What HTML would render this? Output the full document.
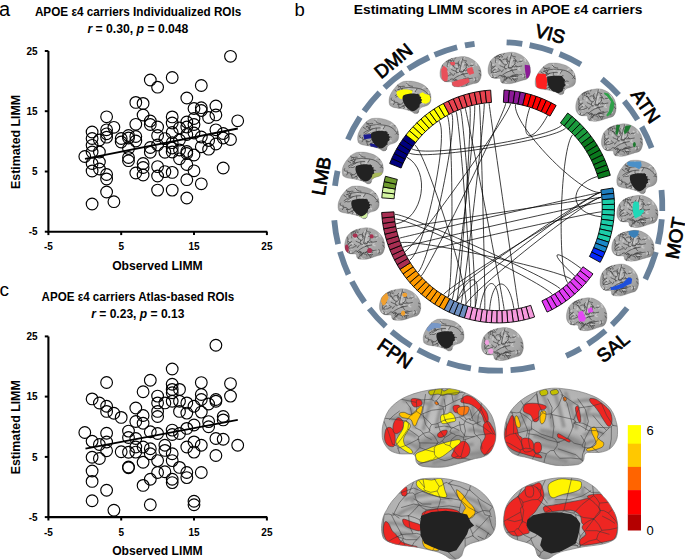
<!DOCTYPE html>
<html><head><meta charset="utf-8"><style>
html,body{margin:0;padding:0;background:#fff;width:685px;height:560px;overflow:hidden}
svg{display:block}
</style></head><body>
<svg width="685" height="560" viewBox="0 0 685 560">
<rect width="685" height="560" fill="#fff"/>
<g stroke="#000" fill="none" stroke-width="1.15">
<circle cx="84.8" cy="156.5" r="5.85"/>
<circle cx="92.1" cy="132.0" r="5.85"/>
<circle cx="92.1" cy="138.5" r="5.85"/>
<circle cx="92.1" cy="145.3" r="5.85"/>
<circle cx="92.1" cy="152.0" r="5.85"/>
<circle cx="92.1" cy="163.5" r="5.85"/>
<circle cx="92.1" cy="171.0" r="5.85"/>
<circle cx="92.1" cy="204.0" r="5.85"/>
<circle cx="99.4" cy="140.0" r="5.85"/>
<circle cx="99.4" cy="152.0" r="5.85"/>
<circle cx="99.4" cy="162.0" r="5.85"/>
<circle cx="99.4" cy="169.0" r="5.85"/>
<circle cx="106.6" cy="116.8" r="5.85"/>
<circle cx="106.6" cy="129.8" r="5.85"/>
<circle cx="106.6" cy="133.8" r="5.85"/>
<circle cx="106.6" cy="137.2" r="5.85"/>
<circle cx="106.6" cy="174.5" r="5.85"/>
<circle cx="106.6" cy="179.0" r="5.85"/>
<circle cx="106.6" cy="192.0" r="5.85"/>
<circle cx="113.9" cy="127.3" r="5.85"/>
<circle cx="113.9" cy="201.7" r="5.85"/>
<circle cx="121.2" cy="138.5" r="5.85"/>
<circle cx="121.2" cy="142.0" r="5.85"/>
<circle cx="128.5" cy="135.5" r="5.85"/>
<circle cx="128.5" cy="138.0" r="5.85"/>
<circle cx="128.5" cy="148.5" r="5.85"/>
<circle cx="128.5" cy="157.5" r="5.85"/>
<circle cx="128.5" cy="160.7" r="5.85"/>
<circle cx="135.8" cy="102.4" r="5.85"/>
<circle cx="135.8" cy="124.3" r="5.85"/>
<circle cx="135.8" cy="136.5" r="5.85"/>
<circle cx="135.8" cy="141.0" r="5.85"/>
<circle cx="135.8" cy="173.0" r="5.85"/>
<circle cx="143.1" cy="103.4" r="5.85"/>
<circle cx="143.1" cy="115.0" r="5.85"/>
<circle cx="143.1" cy="163.5" r="5.85"/>
<circle cx="143.1" cy="167.5" r="5.85"/>
<circle cx="143.1" cy="175.0" r="5.85"/>
<circle cx="150.3" cy="80.0" r="5.85"/>
<circle cx="150.3" cy="121.0" r="5.85"/>
<circle cx="150.3" cy="124.5" r="5.85"/>
<circle cx="150.3" cy="147.5" r="5.85"/>
<circle cx="150.3" cy="152.3" r="5.85"/>
<circle cx="157.6" cy="87.2" r="5.85"/>
<circle cx="157.6" cy="127.0" r="5.85"/>
<circle cx="157.6" cy="135.5" r="5.85"/>
<circle cx="157.6" cy="145.0" r="5.85"/>
<circle cx="157.6" cy="166.6" r="5.85"/>
<circle cx="157.6" cy="176.0" r="5.85"/>
<circle cx="157.6" cy="190.1" r="5.85"/>
<circle cx="164.9" cy="138.6" r="5.85"/>
<circle cx="164.9" cy="152.3" r="5.85"/>
<circle cx="164.9" cy="171.6" r="5.85"/>
<circle cx="172.2" cy="77.5" r="5.85"/>
<circle cx="172.2" cy="116.9" r="5.85"/>
<circle cx="172.2" cy="123.0" r="5.85"/>
<circle cx="172.2" cy="132.5" r="5.85"/>
<circle cx="172.2" cy="142.7" r="5.85"/>
<circle cx="172.2" cy="148.0" r="5.85"/>
<circle cx="172.2" cy="152.0" r="5.85"/>
<circle cx="172.2" cy="172.4" r="5.85"/>
<circle cx="172.2" cy="190.1" r="5.85"/>
<circle cx="179.5" cy="128.0" r="5.85"/>
<circle cx="179.5" cy="140.0" r="5.85"/>
<circle cx="179.5" cy="150.0" r="5.85"/>
<circle cx="179.5" cy="158.8" r="5.85"/>
<circle cx="186.8" cy="98.0" r="5.85"/>
<circle cx="186.8" cy="122.0" r="5.85"/>
<circle cx="186.8" cy="127.0" r="5.85"/>
<circle cx="186.8" cy="134.5" r="5.85"/>
<circle cx="186.8" cy="151.5" r="5.85"/>
<circle cx="186.8" cy="153.5" r="5.85"/>
<circle cx="186.8" cy="164.5" r="5.85"/>
<circle cx="186.8" cy="179.7" r="5.85"/>
<circle cx="186.8" cy="198.0" r="5.85"/>
<circle cx="194.0" cy="108.5" r="5.85"/>
<circle cx="194.0" cy="118.5" r="5.85"/>
<circle cx="194.0" cy="124.5" r="5.85"/>
<circle cx="194.0" cy="133.0" r="5.85"/>
<circle cx="194.0" cy="155.0" r="5.85"/>
<circle cx="194.0" cy="170.8" r="5.85"/>
<circle cx="201.3" cy="85.5" r="5.85"/>
<circle cx="201.3" cy="107.7" r="5.85"/>
<circle cx="201.3" cy="110.5" r="5.85"/>
<circle cx="201.3" cy="137.0" r="5.85"/>
<circle cx="201.3" cy="146.8" r="5.85"/>
<circle cx="201.3" cy="183.8" r="5.85"/>
<circle cx="208.6" cy="117.5" r="5.85"/>
<circle cx="208.6" cy="140.5" r="5.85"/>
<circle cx="208.6" cy="149.2" r="5.85"/>
<circle cx="215.9" cy="106.0" r="5.85"/>
<circle cx="215.9" cy="114.9" r="5.85"/>
<circle cx="215.9" cy="129.8" r="5.85"/>
<circle cx="215.9" cy="144.0" r="5.85"/>
<circle cx="223.2" cy="133.5" r="5.85"/>
<circle cx="223.2" cy="138.0" r="5.85"/>
<circle cx="223.2" cy="168.0" r="5.85"/>
<circle cx="230.5" cy="56.3" r="5.85"/>
<circle cx="230.5" cy="139.5" r="5.85"/>
<circle cx="237.7" cy="120.8" r="5.85"/>
</g>
<line x1="85" y1="158.8" x2="237.8" y2="128.5" stroke="#000" stroke-width="1.8"/>
<path d="M48.4 51.0 V231.7 H267.3" fill="none" stroke="#000" stroke-width="2.1"/>
<line x1="44.8" y1="51.0" x2="48.4" y2="51.0" stroke="#000" stroke-width="2"/>
<line x1="44.8" y1="111.2" x2="48.4" y2="111.2" stroke="#000" stroke-width="2"/>
<line x1="44.8" y1="171.5" x2="48.4" y2="171.5" stroke="#000" stroke-width="2"/>
<line x1="44.8" y1="231.7" x2="48.4" y2="231.7" stroke="#000" stroke-width="2"/>
<line x1="48.4" y1="231.7" x2="48.4" y2="235.1" stroke="#000" stroke-width="2"/>
<line x1="121.2" y1="231.7" x2="121.2" y2="235.1" stroke="#000" stroke-width="2"/>
<line x1="194.0" y1="231.7" x2="194.0" y2="235.1" stroke="#000" stroke-width="2"/>
<line x1="266.9" y1="231.7" x2="266.9" y2="235.1" stroke="#000" stroke-width="2"/>
<g font-family='"Liberation Sans", sans-serif' font-weight="bold" font-size="10" fill="#000">
<text x="37.6" y="54.6" text-anchor="end">25</text>
<text x="37.6" y="114.8" text-anchor="end">15</text>
<text x="37.6" y="175.1" text-anchor="end">5</text>
<text x="37.6" y="235.3" text-anchor="end">-5</text>
<text x="48.4" y="250.3" text-anchor="middle">-5</text>
<text x="121.2" y="250.3" text-anchor="middle">5</text>
<text x="194.0" y="250.3" text-anchor="middle">15</text>
<text x="266.9" y="250.3" text-anchor="middle">25</text>
</g>
<text x="157.4" y="269.9" text-anchor="middle" font-family='"Liberation Sans", sans-serif' font-weight="bold" font-size="12.4" textLength="90.5" lengthAdjust="spacingAndGlyphs">Observed LIMM</text>
<text transform="translate(19.7 141.9) rotate(-90)" x="0" y="0" text-anchor="middle" font-family='"Liberation Sans", sans-serif' font-weight="bold" font-size="12.5" textLength="94" lengthAdjust="spacingAndGlyphs">Estimated LIMM</text>
<text x="34.9" y="15.6" font-family='"Liberation Sans", sans-serif' font-weight="bold" font-size="12.2" textLength="206.4" lengthAdjust="spacingAndGlyphs">APOE ε4 carriers Individualized ROIs</text>
<text x="87.4" y="32.8" font-family='"Liberation Sans", sans-serif' font-weight="bold" font-size="12.2" textLength="101" lengthAdjust="spacingAndGlyphs"><tspan font-style="italic">r</tspan> = 0.30, <tspan font-style="italic">p</tspan> = 0.048</text>
<g stroke="#000" fill="none" stroke-width="1.15">
<circle cx="84.8" cy="432.5" r="5.85"/>
<circle cx="92.1" cy="398.9" r="5.85"/>
<circle cx="92.1" cy="441.3" r="5.85"/>
<circle cx="92.1" cy="457.3" r="5.85"/>
<circle cx="92.1" cy="471.0" r="5.85"/>
<circle cx="92.1" cy="481.4" r="5.85"/>
<circle cx="92.1" cy="500.7" r="5.85"/>
<circle cx="99.4" cy="403.0" r="5.85"/>
<circle cx="99.4" cy="444.5" r="5.85"/>
<circle cx="99.4" cy="458.5" r="5.85"/>
<circle cx="106.6" cy="382.5" r="5.85"/>
<circle cx="106.6" cy="406.2" r="5.85"/>
<circle cx="106.6" cy="411.4" r="5.85"/>
<circle cx="106.6" cy="433.3" r="5.85"/>
<circle cx="106.6" cy="442.0" r="5.85"/>
<circle cx="106.6" cy="450.7" r="5.85"/>
<circle cx="106.6" cy="490.2" r="5.85"/>
<circle cx="113.9" cy="413.3" r="5.85"/>
<circle cx="113.9" cy="510.2" r="5.85"/>
<circle cx="121.2" cy="417.4" r="5.85"/>
<circle cx="121.2" cy="451.8" r="5.85"/>
<circle cx="128.5" cy="431.1" r="5.85"/>
<circle cx="128.5" cy="437.5" r="5.85"/>
<circle cx="128.5" cy="452.3" r="5.85"/>
<circle cx="128.5" cy="467.0" r="5.85"/>
<circle cx="128.5" cy="467.8" r="5.85"/>
<circle cx="135.8" cy="408.0" r="5.85"/>
<circle cx="135.8" cy="421.5" r="5.85"/>
<circle cx="135.8" cy="438.5" r="5.85"/>
<circle cx="135.8" cy="447.0" r="5.85"/>
<circle cx="135.8" cy="452.1" r="5.85"/>
<circle cx="143.1" cy="391.7" r="5.85"/>
<circle cx="143.1" cy="415.5" r="5.85"/>
<circle cx="143.1" cy="423.3" r="5.85"/>
<circle cx="143.1" cy="447.0" r="5.85"/>
<circle cx="143.1" cy="462.3" r="5.85"/>
<circle cx="143.1" cy="485.4" r="5.85"/>
<circle cx="150.3" cy="380.2" r="5.85"/>
<circle cx="150.3" cy="431.8" r="5.85"/>
<circle cx="150.3" cy="448.7" r="5.85"/>
<circle cx="150.3" cy="453.8" r="5.85"/>
<circle cx="150.3" cy="479.3" r="5.85"/>
<circle cx="150.3" cy="504.7" r="5.85"/>
<circle cx="157.6" cy="396.1" r="5.85"/>
<circle cx="157.6" cy="402.9" r="5.85"/>
<circle cx="157.6" cy="411.4" r="5.85"/>
<circle cx="157.6" cy="416.5" r="5.85"/>
<circle cx="157.6" cy="433.5" r="5.85"/>
<circle cx="157.6" cy="460.6" r="5.85"/>
<circle cx="157.6" cy="472.5" r="5.85"/>
<circle cx="164.9" cy="402.9" r="5.85"/>
<circle cx="164.9" cy="445.3" r="5.85"/>
<circle cx="164.9" cy="450.4" r="5.85"/>
<circle cx="164.9" cy="471.8" r="5.85"/>
<circle cx="172.2" cy="369.0" r="5.85"/>
<circle cx="172.2" cy="384.3" r="5.85"/>
<circle cx="172.2" cy="389.4" r="5.85"/>
<circle cx="172.2" cy="392.8" r="5.85"/>
<circle cx="172.2" cy="401.2" r="5.85"/>
<circle cx="172.2" cy="430.1" r="5.85"/>
<circle cx="172.2" cy="434.5" r="5.85"/>
<circle cx="172.2" cy="453.8" r="5.85"/>
<circle cx="172.2" cy="460.6" r="5.85"/>
<circle cx="172.2" cy="479.3" r="5.85"/>
<circle cx="172.2" cy="482.6" r="5.85"/>
<circle cx="179.5" cy="389.4" r="5.85"/>
<circle cx="179.5" cy="401.2" r="5.85"/>
<circle cx="179.5" cy="411.4" r="5.85"/>
<circle cx="179.5" cy="433.5" r="5.85"/>
<circle cx="179.5" cy="467.4" r="5.85"/>
<circle cx="186.8" cy="402.9" r="5.85"/>
<circle cx="186.8" cy="413.1" r="5.85"/>
<circle cx="186.8" cy="428.4" r="5.85"/>
<circle cx="186.8" cy="447.0" r="5.85"/>
<circle cx="186.8" cy="472.5" r="5.85"/>
<circle cx="186.8" cy="477.6" r="5.85"/>
<circle cx="194.0" cy="406.3" r="5.85"/>
<circle cx="194.0" cy="425.0" r="5.85"/>
<circle cx="194.0" cy="441.9" r="5.85"/>
<circle cx="194.0" cy="452.1" r="5.85"/>
<circle cx="194.0" cy="501.3" r="5.85"/>
<circle cx="194.0" cy="504.7" r="5.85"/>
<circle cx="201.3" cy="382.6" r="5.85"/>
<circle cx="201.3" cy="394.5" r="5.85"/>
<circle cx="201.3" cy="399.5" r="5.85"/>
<circle cx="201.3" cy="412.1" r="5.85"/>
<circle cx="201.3" cy="445.3" r="5.85"/>
<circle cx="201.3" cy="472.5" r="5.85"/>
<circle cx="208.6" cy="404.0" r="5.85"/>
<circle cx="208.6" cy="421.6" r="5.85"/>
<circle cx="208.6" cy="426.7" r="5.85"/>
<circle cx="215.9" cy="345.3" r="5.85"/>
<circle cx="215.9" cy="399.5" r="5.85"/>
<circle cx="215.9" cy="401.2" r="5.85"/>
<circle cx="215.9" cy="438.5" r="5.85"/>
<circle cx="215.9" cy="455.5" r="5.85"/>
<circle cx="223.2" cy="416.5" r="5.85"/>
<circle cx="223.2" cy="419.9" r="5.85"/>
<circle cx="223.2" cy="439.2" r="5.85"/>
<circle cx="230.5" cy="383.6" r="5.85"/>
<circle cx="230.5" cy="396.1" r="5.85"/>
<circle cx="237.7" cy="445.3" r="5.85"/>
</g>
<line x1="85.5" y1="448.7" x2="237.8" y2="419.9" stroke="#000" stroke-width="1.8"/>
<path d="M48.4 336.4 V517.0999999999999 H267.3" fill="none" stroke="#000" stroke-width="2.1"/>
<line x1="44.8" y1="336.4" x2="48.4" y2="336.4" stroke="#000" stroke-width="2"/>
<line x1="44.8" y1="396.6" x2="48.4" y2="396.6" stroke="#000" stroke-width="2"/>
<line x1="44.8" y1="456.9" x2="48.4" y2="456.9" stroke="#000" stroke-width="2"/>
<line x1="44.8" y1="517.1" x2="48.4" y2="517.1" stroke="#000" stroke-width="2"/>
<line x1="48.4" y1="517.0999999999999" x2="48.4" y2="520.4999999999999" stroke="#000" stroke-width="2"/>
<line x1="121.2" y1="517.0999999999999" x2="121.2" y2="520.4999999999999" stroke="#000" stroke-width="2"/>
<line x1="194.0" y1="517.0999999999999" x2="194.0" y2="520.4999999999999" stroke="#000" stroke-width="2"/>
<line x1="266.9" y1="517.0999999999999" x2="266.9" y2="520.4999999999999" stroke="#000" stroke-width="2"/>
<g font-family='"Liberation Sans", sans-serif' font-weight="bold" font-size="10" fill="#000">
<text x="37.6" y="340.0" text-anchor="end">25</text>
<text x="37.6" y="400.2" text-anchor="end">15</text>
<text x="37.6" y="460.5" text-anchor="end">5</text>
<text x="37.6" y="520.7" text-anchor="end">-5</text>
<text x="48.4" y="535.7" text-anchor="middle">-5</text>
<text x="121.2" y="535.7" text-anchor="middle">5</text>
<text x="194.0" y="535.7" text-anchor="middle">15</text>
<text x="266.9" y="535.7" text-anchor="middle">25</text>
</g>
<text x="157.4" y="555.3" text-anchor="middle" font-family='"Liberation Sans", sans-serif' font-weight="bold" font-size="12.4" textLength="90.5" lengthAdjust="spacingAndGlyphs">Observed LIMM</text>
<text transform="translate(19.7 427.3) rotate(-90)" x="0" y="0" text-anchor="middle" font-family='"Liberation Sans", sans-serif' font-weight="bold" font-size="12.5" textLength="94" lengthAdjust="spacingAndGlyphs">Estimated LIMM</text>
<text x="41.6" y="301.0" font-family='"Liberation Sans", sans-serif' font-weight="bold" font-size="12.2" textLength="192.6" lengthAdjust="spacingAndGlyphs">APOE ε4 carriers Atlas-based ROIs</text>
<text x="91.2" y="318.2" font-family='"Liberation Sans", sans-serif' font-weight="bold" font-size="12.2" textLength="93.2" lengthAdjust="spacingAndGlyphs"><tspan font-style="italic">r</tspan> = 0.23, <tspan font-style="italic">p</tspan> = 0.13</text>
<text x="-1" y="15.6" font-family='"Liberation Sans", sans-serif' font-size="20" fill="#000">a</text>
<text x="294.6" y="16" font-family='"Liberation Sans", sans-serif' font-size="18.5" fill="#000">b</text>
<text x="-0.5" y="295.6" font-family='"Liberation Sans", sans-serif' font-size="19" fill="#000">c</text>
<text x="353.8" y="13.6" font-family='"Liberation Sans", sans-serif' font-weight="bold" font-size="13.4" textLength="288.7" lengthAdjust="spacingAndGlyphs">Estimating LIMM scores in APOE ε4 carriers</text>
<g fill="none" stroke="#69819A" stroke-width="5.8">
<path d="M347.90 139.57 A164.3 164.3 0 0 1 360.05 117.16"/>
<path d="M364.07 111.22 A164.3 164.3 0 0 1 379.61 92.47"/>
<path d="M384.49 87.62 A164.3 164.3 0 0 1 403.29 72.14"/>
<path d="M408.04 68.92 A164.3 164.3 0 0 1 429.08 57.25"/>
<path d="M434.60 54.83 A164.3 164.3 0 0 1 457.14 47.26"/>
<path d="M464.96 45.46 A164.3 164.3 0 0 1 474.57 43.78"/>
<path d="M506.60 42.33 A164.3 164.3 0 0 1 522.29 43.90"/>
<path d="M529.63 45.17 A164.3 164.3 0 0 1 552.84 51.52"/>
<path d="M559.55 54.06 A164.3 164.3 0 0 1 580.89 64.54"/>
<path d="M601.84 79.08 A164.3 164.3 0 0 1 618.75 94.98"/>
<path d="M624.23 101.23 A164.3 164.3 0 0 1 637.64 119.82"/>
<path d="M641.70 126.75 A164.3 164.3 0 0 1 651.59 148.06"/>
<path d="M661.49 190.08 A164.3 164.3 0 0 1 662.24 210.99"/>
<path d="M661.79 219.29 A164.3 164.3 0 0 1 657.89 244.20"/>
<path d="M655.86 251.96 A164.3 164.3 0 0 1 645.29 279.20"/>
<path d="M627.12 308.00 A164.3 164.3 0 0 1 611.93 324.79"/>
<path d="M605.57 330.59 A164.3 164.3 0 0 1 587.72 344.04"/>
<path d="M580.65 348.40 A164.3 164.3 0 0 1 566.13 355.91"/>
<path d="M534.68 366.55 A164.3 164.3 0 0 1 510.60 370.22"/>
<path d="M502.87 370.63 A164.3 164.3 0 0 1 478.55 369.54"/>
<path d="M470.88 368.45 A164.3 164.3 0 0 1 447.23 362.66"/>
<path d="M439.92 360.09 A164.3 164.3 0 0 1 417.84 349.82"/>
<path d="M411.18 345.89 A164.3 164.3 0 0 1 391.51 331.52"/>
<path d="M385.74 326.37 A164.3 164.3 0 0 1 369.24 308.45"/>
<path d="M364.57 302.28 A164.3 164.3 0 0 1 351.87 281.50"/>
<path d="M348.49 274.53 A164.3 164.3 0 0 1 340.06 251.69"/>
<path d="M338.11 244.20 A164.3 164.3 0 0 1 334.28 220.15"/>
<path d="M335.00 185.81 A164.3 164.3 0 0 1 337.59 170.84"/>
</g>
<g font-family='"Liberation Sans", sans-serif' font-size="18.8" fill="#000" stroke="#000" stroke-width="0.75" text-anchor="middle">
<text transform="translate(393.3 61.0) rotate(-39.5)" y="6.5">DMN</text>
<text transform="translate(550.2 33.9) rotate(14.5)" y="6.5">VIS</text>
<text transform="translate(645.7 106.2) rotate(56)" y="6.5">ATN</text>
<text transform="translate(675.4 238.0) rotate(-80)" y="6.5">MOT</text>
<text transform="translate(613.0 347.3) rotate(-39)" y="6.5">SAL</text>
<text transform="translate(395.0 353.5) rotate(35)" y="6.5">FPN</text>
<text transform="translate(321.4 176.0) rotate(-80)" y="6.5">LMB</text>
</g>
<g stroke="#000" stroke-width="0.9" stroke-linejoin="miter">
<path d="M389.68 163.51 A116.5 116.5 0 0 1 391.82 158.46 L403.03 163.52 A104.2 104.2 0 0 0 401.12 168.04 Z" fill="#00007F"/>
<path d="M391.82 158.46 A116.5 116.5 0 0 1 394.20 153.51 L405.16 159.09 A104.2 104.2 0 0 0 403.03 163.52 Z" fill="#00007F"/>
<path d="M394.20 153.51 A116.5 116.5 0 0 1 396.80 148.68 L407.49 154.77 A104.2 104.2 0 0 0 405.16 159.09 Z" fill="#00007F"/>
<path d="M396.80 148.68 A116.5 116.5 0 0 1 399.64 143.98 L410.02 150.57 A104.2 104.2 0 0 0 407.49 154.77 Z" fill="#00007F"/>
<path d="M399.64 143.98 A116.5 116.5 0 0 1 402.69 139.41 L412.75 146.48 A104.2 104.2 0 0 0 410.02 150.57 Z" fill="#00007F"/>
<path d="M402.69 139.41 A116.5 116.5 0 0 1 405.95 135.00 L415.67 142.54 A104.2 104.2 0 0 0 412.75 146.48 Z" fill="#00007F"/>
<path d="M405.95 135.00 A116.5 116.5 0 0 1 409.41 130.74 L418.77 138.73 A104.2 104.2 0 0 0 415.67 142.54 Z" fill="#FFFF00"/>
<path d="M409.41 130.74 A116.5 116.5 0 0 1 413.08 126.65 L422.04 135.07 A104.2 104.2 0 0 0 418.77 138.73 Z" fill="#FFFF00"/>
<path d="M413.08 126.65 A116.5 116.5 0 0 1 416.93 122.74 L425.49 131.57 A104.2 104.2 0 0 0 422.04 135.07 Z" fill="#FFFF00"/>
<path d="M416.93 122.74 A116.5 116.5 0 0 1 420.96 119.01 L429.09 128.24 A104.2 104.2 0 0 0 425.49 131.57 Z" fill="#FFFF00"/>
<path d="M420.96 119.01 A116.5 116.5 0 0 1 425.16 115.48 L432.85 125.08 A104.2 104.2 0 0 0 429.09 128.24 Z" fill="#FFFF00"/>
<path d="M425.16 115.48 A116.5 116.5 0 0 1 429.52 112.15 L436.75 122.10 A104.2 104.2 0 0 0 432.85 125.08 Z" fill="#FFFF00"/>
<path d="M429.52 112.15 A116.5 116.5 0 0 1 434.04 109.03 L440.79 119.31 A104.2 104.2 0 0 0 436.75 122.10 Z" fill="#FFFF00"/>
<path d="M434.04 109.03 A116.5 116.5 0 0 1 438.70 106.12 L444.96 116.71 A104.2 104.2 0 0 0 440.79 119.31 Z" fill="#FFFF00"/>
<path d="M438.70 106.12 A116.5 116.5 0 0 1 443.49 103.44 L449.24 114.31 A104.2 104.2 0 0 0 444.96 116.71 Z" fill="#FFFF00"/>
<path d="M443.49 103.44 A116.5 116.5 0 0 1 448.40 100.99 L453.63 112.12 A104.2 104.2 0 0 0 449.24 114.31 Z" fill="#E8434F"/>
<path d="M448.40 100.99 A116.5 116.5 0 0 1 453.42 98.77 L458.12 110.13 A104.2 104.2 0 0 0 453.63 112.12 Z" fill="#E8434F"/>
<path d="M453.42 98.77 A116.5 116.5 0 0 1 458.54 96.79 L462.70 108.36 A104.2 104.2 0 0 0 458.12 110.13 Z" fill="#E8434F"/>
<path d="M458.54 96.79 A116.5 116.5 0 0 1 463.74 95.05 L467.36 106.81 A104.2 104.2 0 0 0 462.70 108.36 Z" fill="#E8434F"/>
<path d="M463.74 95.05 A116.5 116.5 0 0 1 469.03 93.56 L472.09 105.47 A104.2 104.2 0 0 0 467.36 106.81 Z" fill="#E8434F"/>
<path d="M469.03 93.56 A116.5 116.5 0 0 1 474.38 92.32 L476.87 104.36 A104.2 104.2 0 0 0 472.09 105.47 Z" fill="#E8434F"/>
<path d="M474.38 92.32 A116.5 116.5 0 0 1 479.78 91.33 L481.70 103.48 A104.2 104.2 0 0 0 476.87 104.36 Z" fill="#E8434F"/>
<path d="M479.78 91.33 A116.5 116.5 0 0 1 485.22 90.60 L486.57 102.83 A104.2 104.2 0 0 0 481.70 103.48 Z" fill="#E8434F"/>
<path d="M485.22 90.60 A116.5 116.5 0 0 1 490.68 90.13 L491.46 102.41 A104.2 104.2 0 0 0 486.57 102.83 Z" fill="#E8434F"/>
<path d="M504.00 90.05 A116.5 116.5 0 0 1 509.47 90.47 L508.26 102.71 A104.2 104.2 0 0 0 503.36 102.34 Z" fill="#8B1A96"/>
<path d="M509.47 90.47 A116.5 116.5 0 0 1 514.92 91.13 L513.13 103.30 A104.2 104.2 0 0 0 508.26 102.71 Z" fill="#8B1A96"/>
<path d="M514.92 91.13 A116.5 116.5 0 0 1 520.33 92.06 L517.97 104.13 A104.2 104.2 0 0 0 513.13 103.30 Z" fill="#8B1A96"/>
<path d="M520.33 92.06 A116.5 116.5 0 0 1 525.69 93.24 L522.77 105.19 A104.2 104.2 0 0 0 517.97 104.13 Z" fill="#8B1A96"/>
<path d="M525.69 93.24 A116.5 116.5 0 0 1 530.99 94.67 L527.51 106.47 A104.2 104.2 0 0 0 522.77 105.19 Z" fill="#FF0000"/>
<path d="M530.99 94.67 A116.5 116.5 0 0 1 536.22 96.35 L532.18 107.97 A104.2 104.2 0 0 0 527.51 106.47 Z" fill="#FF0000"/>
<path d="M536.22 96.35 A116.5 116.5 0 0 1 541.36 98.27 L536.78 109.69 A104.2 104.2 0 0 0 532.18 107.97 Z" fill="#FF0000"/>
<path d="M541.36 98.27 A116.5 116.5 0 0 1 546.40 100.43 L541.29 111.62 A104.2 104.2 0 0 0 536.78 109.69 Z" fill="#FF0000"/>
<path d="M546.40 100.43 A116.5 116.5 0 0 1 551.34 102.83 L545.71 113.76 A104.2 104.2 0 0 0 541.29 111.62 Z" fill="#FF0000"/>
<path d="M551.34 102.83 A116.5 116.5 0 0 1 556.16 105.46 L550.02 116.11 A104.2 104.2 0 0 0 545.71 113.76 Z" fill="#FF0000"/>
<path d="M567.70 113.05 A116.5 116.5 0 0 1 572.02 116.44 L564.21 125.94 A104.2 104.2 0 0 0 560.35 122.91 Z" fill="#1A9A3C"/>
<path d="M572.02 116.44 A116.5 116.5 0 0 1 576.18 120.03 L567.93 129.15 A104.2 104.2 0 0 0 564.21 125.94 Z" fill="#1A9A3C"/>
<path d="M576.18 120.03 A116.5 116.5 0 0 1 580.16 123.81 L571.49 132.53 A104.2 104.2 0 0 0 567.93 129.15 Z" fill="#1A9A3C"/>
<path d="M580.16 123.81 A116.5 116.5 0 0 1 583.96 127.77 L574.89 136.07 A104.2 104.2 0 0 0 571.49 132.53 Z" fill="#1A9A3C"/>
<path d="M583.96 127.77 A116.5 116.5 0 0 1 587.57 131.91 L578.11 139.77 A104.2 104.2 0 0 0 574.89 136.07 Z" fill="#1A9A3C"/>
<path d="M587.57 131.91 A116.5 116.5 0 0 1 590.98 136.21 L581.16 143.62 A104.2 104.2 0 0 0 578.11 139.77 Z" fill="#1A9A3C"/>
<path d="M590.98 136.21 A116.5 116.5 0 0 1 594.18 140.67 L584.03 147.61 A104.2 104.2 0 0 0 581.16 143.62 Z" fill="#0B7A1E"/>
<path d="M594.18 140.67 A116.5 116.5 0 0 1 597.17 145.27 L586.70 151.72 A104.2 104.2 0 0 0 584.03 147.61 Z" fill="#0B7A1E"/>
<path d="M597.17 145.27 A116.5 116.5 0 0 1 599.94 150.01 L589.18 155.96 A104.2 104.2 0 0 0 586.70 151.72 Z" fill="#0B7A1E"/>
<path d="M599.94 150.01 A116.5 116.5 0 0 1 602.49 154.87 L591.45 160.31 A104.2 104.2 0 0 0 589.18 155.96 Z" fill="#0B7A1E"/>
<path d="M602.49 154.87 A116.5 116.5 0 0 1 604.80 159.85 L593.52 164.77 A104.2 104.2 0 0 0 591.45 160.31 Z" fill="#0B7A1E"/>
<path d="M604.80 159.85 A116.5 116.5 0 0 1 606.87 164.94 L595.38 169.31 A104.2 104.2 0 0 0 593.52 164.77 Z" fill="#0B7A1E"/>
<path d="M606.87 164.94 A116.5 116.5 0 0 1 608.70 170.11 L597.02 173.94 A104.2 104.2 0 0 0 595.38 169.31 Z" fill="#0B7A1E"/>
<path d="M608.70 170.11 A116.5 116.5 0 0 1 610.29 175.36 L598.43 178.64 A104.2 104.2 0 0 0 597.02 173.94 Z" fill="#0B7A1E"/>
<path d="M613.03 187.97 A116.5 116.5 0 0 1 613.77 193.41 L601.55 194.78 A104.2 104.2 0 0 0 600.89 189.92 Z" fill="#1E7DBE"/>
<path d="M613.77 193.41 A116.5 116.5 0 0 1 614.26 198.88 L601.98 199.68 A104.2 104.2 0 0 0 601.55 194.78 Z" fill="#1E7DBE"/>
<path d="M614.26 198.88 A116.5 116.5 0 0 1 614.48 204.37 L602.18 204.58 A104.2 104.2 0 0 0 601.98 199.68 Z" fill="#1CCCA8"/>
<path d="M614.48 204.37 A116.5 116.5 0 0 1 614.45 209.86 L602.15 209.49 A104.2 104.2 0 0 0 602.18 204.58 Z" fill="#1CCCA8"/>
<path d="M614.45 209.86 A116.5 116.5 0 0 1 614.16 215.34 L601.89 214.39 A104.2 104.2 0 0 0 602.15 209.49 Z" fill="#1CCCA8"/>
<path d="M614.16 215.34 A116.5 116.5 0 0 1 613.61 220.80 L601.40 219.28 A104.2 104.2 0 0 0 601.89 214.39 Z" fill="#1CCCA8"/>
<path d="M613.61 220.80 A116.5 116.5 0 0 1 612.80 226.23 L600.68 224.14 A104.2 104.2 0 0 0 601.40 219.28 Z" fill="#1CCCA8"/>
<path d="M612.80 226.23 A116.5 116.5 0 0 1 611.74 231.62 L599.73 228.95 A104.2 104.2 0 0 0 600.68 224.14 Z" fill="#1CCCA8"/>
<path d="M611.74 231.62 A116.5 116.5 0 0 1 610.42 236.95 L598.55 233.72 A104.2 104.2 0 0 0 599.73 228.95 Z" fill="#1CCCA8"/>
<path d="M610.42 236.95 A116.5 116.5 0 0 1 608.86 242.21 L597.16 238.43 A104.2 104.2 0 0 0 598.55 233.72 Z" fill="#1CCCA8"/>
<path d="M608.86 242.21 A116.5 116.5 0 0 1 607.05 247.39 L595.54 243.06 A104.2 104.2 0 0 0 597.16 238.43 Z" fill="#1A88C8"/>
<path d="M607.05 247.39 A116.5 116.5 0 0 1 605.00 252.48 L593.70 247.62 A104.2 104.2 0 0 0 595.54 243.06 Z" fill="#1A88C8"/>
<path d="M605.00 252.48 A116.5 116.5 0 0 1 602.71 257.47 L591.65 252.08 A104.2 104.2 0 0 0 593.70 247.62 Z" fill="#0628F8"/>
<path d="M602.71 257.47 A116.5 116.5 0 0 1 600.19 262.35 L589.40 256.44 A104.2 104.2 0 0 0 591.65 252.08 Z" fill="#0628F8"/>
<path d="M592.96 273.89 A116.5 116.5 0 0 1 589.68 278.28 L580.00 270.70 A104.2 104.2 0 0 0 582.94 266.76 Z" fill="#E23CF5"/>
<path d="M589.68 278.28 A116.5 116.5 0 0 1 586.19 282.52 L576.88 274.49 A104.2 104.2 0 0 0 580.00 270.70 Z" fill="#E23CF5"/>
<path d="M586.19 282.52 A116.5 116.5 0 0 1 582.51 286.59 L573.58 278.13 A104.2 104.2 0 0 0 576.88 274.49 Z" fill="#E23CF5"/>
<path d="M582.51 286.59 A116.5 116.5 0 0 1 578.63 290.49 L570.12 281.61 A104.2 104.2 0 0 0 573.58 278.13 Z" fill="#E23CF5"/>
<path d="M578.63 290.49 A116.5 116.5 0 0 1 574.58 294.19 L566.50 284.92 A104.2 104.2 0 0 0 570.12 281.61 Z" fill="#E23CF5"/>
<path d="M574.58 294.19 A116.5 116.5 0 0 1 570.36 297.70 L562.72 288.06 A104.2 104.2 0 0 0 566.50 284.92 Z" fill="#E23CF5"/>
<path d="M570.36 297.70 A116.5 116.5 0 0 1 565.98 301.01 L558.80 291.02 A104.2 104.2 0 0 0 562.72 288.06 Z" fill="#E23CF5"/>
<path d="M565.98 301.01 A116.5 116.5 0 0 1 561.45 304.11 L554.75 293.79 A104.2 104.2 0 0 0 558.80 291.02 Z" fill="#E23CF5"/>
<path d="M561.45 304.11 A116.5 116.5 0 0 1 556.78 306.99 L550.57 296.37 A104.2 104.2 0 0 0 554.75 293.79 Z" fill="#E23CF5"/>
<path d="M556.78 306.99 A116.5 116.5 0 0 1 551.97 309.64 L546.28 298.74 A104.2 104.2 0 0 0 550.57 296.37 Z" fill="#E23CF5"/>
<path d="M551.97 309.64 A116.5 116.5 0 0 1 547.05 312.07 L541.87 300.91 A104.2 104.2 0 0 0 546.28 298.74 Z" fill="#E23CF5"/>
<path d="M534.58 317.01 A116.5 116.5 0 0 1 529.33 318.61 L526.02 306.76 A104.2 104.2 0 0 0 530.72 305.33 Z" fill="#F59ADC"/>
<path d="M529.33 318.61 A116.5 116.5 0 0 1 524.01 319.96 L521.26 307.97 A104.2 104.2 0 0 0 526.02 306.76 Z" fill="#F59ADC"/>
<path d="M524.01 319.96 A116.5 116.5 0 0 1 518.63 321.06 L516.45 308.95 A104.2 104.2 0 0 0 521.26 307.97 Z" fill="#F59ADC"/>
<path d="M518.63 321.06 A116.5 116.5 0 0 1 513.21 321.90 L511.60 309.71 A104.2 104.2 0 0 0 516.45 308.95 Z" fill="#F59ADC"/>
<path d="M513.21 321.90 A116.5 116.5 0 0 1 507.75 322.49 L506.72 310.23 A104.2 104.2 0 0 0 511.60 309.71 Z" fill="#F59ADC"/>
<path d="M507.75 322.49 A116.5 116.5 0 0 1 502.27 322.82 L501.82 310.53 A104.2 104.2 0 0 0 506.72 310.23 Z" fill="#F59ADC"/>
<path d="M502.27 322.82 A116.5 116.5 0 0 1 496.78 322.89 L496.91 310.59 A104.2 104.2 0 0 0 501.82 310.53 Z" fill="#F59ADC"/>
<path d="M496.78 322.89 A116.5 116.5 0 0 1 491.29 322.71 L492.00 310.43 A104.2 104.2 0 0 0 496.91 310.59 Z" fill="#F59ADC"/>
<path d="M491.29 322.71 A116.5 116.5 0 0 1 485.82 322.26 L487.11 310.03 A104.2 104.2 0 0 0 492.00 310.43 Z" fill="#F59ADC"/>
<path d="M485.82 322.26 A116.5 116.5 0 0 1 480.38 321.56 L482.24 309.40 A104.2 104.2 0 0 0 487.11 310.03 Z" fill="#F59ADC"/>
<path d="M480.38 321.56 A116.5 116.5 0 0 1 474.97 320.60 L477.40 308.54 A104.2 104.2 0 0 0 482.24 309.40 Z" fill="#F59ADC"/>
<path d="M474.97 320.60 A116.5 116.5 0 0 1 469.62 319.39 L472.62 307.46 A104.2 104.2 0 0 0 477.40 308.54 Z" fill="#F59ADC"/>
<path d="M469.62 319.39 A116.5 116.5 0 0 1 464.33 317.93 L467.88 306.15 A104.2 104.2 0 0 0 472.62 307.46 Z" fill="#F59ADC"/>
<path d="M464.33 317.93 A116.5 116.5 0 0 1 459.11 316.22 L463.22 304.62 A104.2 104.2 0 0 0 467.88 306.15 Z" fill="#6E8FC0"/>
<path d="M459.11 316.22 A116.5 116.5 0 0 1 453.98 314.26 L458.63 302.88 A104.2 104.2 0 0 0 463.22 304.62 Z" fill="#6E8FC0"/>
<path d="M453.98 314.26 A116.5 116.5 0 0 1 448.95 312.07 L454.13 300.91 A104.2 104.2 0 0 0 458.63 302.88 Z" fill="#6E8FC0"/>
<path d="M448.95 312.07 A116.5 116.5 0 0 1 444.03 309.64 L449.72 298.74 A104.2 104.2 0 0 0 454.13 300.91 Z" fill="#6E8FC0"/>
<path d="M444.03 309.64 A116.5 116.5 0 0 1 439.22 306.99 L445.43 296.37 A104.2 104.2 0 0 0 449.72 298.74 Z" fill="#FF9A00"/>
<path d="M439.22 306.99 A116.5 116.5 0 0 1 434.55 304.11 L441.25 293.79 A104.2 104.2 0 0 0 445.43 296.37 Z" fill="#FF9A00"/>
<path d="M434.55 304.11 A116.5 116.5 0 0 1 430.02 301.01 L437.20 291.02 A104.2 104.2 0 0 0 441.25 293.79 Z" fill="#FF9A00"/>
<path d="M430.02 301.01 A116.5 116.5 0 0 1 425.64 297.70 L433.28 288.06 A104.2 104.2 0 0 0 437.20 291.02 Z" fill="#FF9A00"/>
<path d="M425.64 297.70 A116.5 116.5 0 0 1 421.42 294.19 L429.50 284.92 A104.2 104.2 0 0 0 433.28 288.06 Z" fill="#FF9A00"/>
<path d="M421.42 294.19 A116.5 116.5 0 0 1 417.37 290.49 L425.88 281.61 A104.2 104.2 0 0 0 429.50 284.92 Z" fill="#FF9A00"/>
<path d="M417.37 290.49 A116.5 116.5 0 0 1 413.49 286.59 L422.42 278.13 A104.2 104.2 0 0 0 425.88 281.61 Z" fill="#FF9A00"/>
<path d="M413.49 286.59 A116.5 116.5 0 0 1 409.81 282.52 L419.12 274.49 A104.2 104.2 0 0 0 422.42 278.13 Z" fill="#FF9A00"/>
<path d="M409.81 282.52 A116.5 116.5 0 0 1 406.32 278.28 L416.00 270.70 A104.2 104.2 0 0 0 419.12 274.49 Z" fill="#FF9A00"/>
<path d="M406.32 278.28 A116.5 116.5 0 0 1 403.04 273.89 L413.06 266.76 A104.2 104.2 0 0 0 416.00 270.70 Z" fill="#FF9A00"/>
<path d="M403.04 273.89 A116.5 116.5 0 0 1 399.96 269.34 L410.31 262.69 A104.2 104.2 0 0 0 413.06 266.76 Z" fill="#FF9A00"/>
<path d="M399.96 269.34 A116.5 116.5 0 0 1 397.11 264.65 L407.76 258.50 A104.2 104.2 0 0 0 410.31 262.69 Z" fill="#A82E52"/>
<path d="M397.11 264.65 A116.5 116.5 0 0 1 394.48 259.83 L405.41 254.19 A104.2 104.2 0 0 0 407.76 258.50 Z" fill="#A82E52"/>
<path d="M394.48 259.83 A116.5 116.5 0 0 1 392.07 254.90 L403.26 249.78 A104.2 104.2 0 0 0 405.41 254.19 Z" fill="#A82E52"/>
<path d="M392.07 254.90 A116.5 116.5 0 0 1 389.91 249.85 L401.32 245.27 A104.2 104.2 0 0 0 403.26 249.78 Z" fill="#A82E52"/>
<path d="M389.91 249.85 A116.5 116.5 0 0 1 387.98 244.71 L399.60 240.67 A104.2 104.2 0 0 0 401.32 245.27 Z" fill="#A82E52"/>
<path d="M387.98 244.71 A116.5 116.5 0 0 1 386.30 239.49 L398.09 235.99 A104.2 104.2 0 0 0 399.60 240.67 Z" fill="#A82E52"/>
<path d="M386.30 239.49 A116.5 116.5 0 0 1 384.86 234.19 L396.81 231.26 A104.2 104.2 0 0 0 398.09 235.99 Z" fill="#A82E52"/>
<path d="M384.86 234.19 A116.5 116.5 0 0 1 383.68 228.83 L395.75 226.46 A104.2 104.2 0 0 0 396.81 231.26 Z" fill="#A82E52"/>
<path d="M383.68 228.83 A116.5 116.5 0 0 1 382.75 223.42 L394.92 221.62 A104.2 104.2 0 0 0 395.75 226.46 Z" fill="#A82E52"/>
<path d="M382.75 223.42 A116.5 116.5 0 0 1 382.08 217.97 L394.32 216.75 A104.2 104.2 0 0 0 394.92 221.62 Z" fill="#A82E52"/>
<path d="M382.08 217.97 A116.5 116.5 0 0 1 381.66 212.50 L393.94 211.85 A104.2 104.2 0 0 0 394.32 216.75 Z" fill="#A82E52"/>
<path d="M381.81 197.87 A116.5 116.5 0 0 1 382.34 192.40 L394.55 193.88 A104.2 104.2 0 0 0 394.08 198.77 Z" fill="#D4F5A0"/>
<path d="M382.34 192.40 A116.5 116.5 0 0 1 383.13 186.97 L395.26 189.02 A104.2 104.2 0 0 0 394.55 193.88 Z" fill="#D4F5A0"/>
<path d="M383.13 186.97 A116.5 116.5 0 0 1 384.17 181.58 L396.19 184.20 A104.2 104.2 0 0 0 395.26 189.02 Z" fill="#6E9A2E"/>
<path d="M384.17 181.58 A116.5 116.5 0 0 1 385.47 176.25 L397.35 179.43 A104.2 104.2 0 0 0 396.19 184.20 Z" fill="#6E9A2E"/>
</g>
<g fill="none" stroke="#000" stroke-width="0.75">
<path d="M489.1 103.2 C489.6 109.6 517.5 301.6 518.7 307.9"/>
<path d="M484.2 103.7 C485.3 111.8 464.0 295.6 461.1 303.2"/>
<path d="M479.4 104.5 C480.7 111.5 485.7 302.0 484.7 309.1"/>
<path d="M474.6 105.5 C476.7 114.6 456.3 290.9 452.2 299.3"/>
<path d="M469.9 106.7 C472.4 115.7 460.4 292.8 456.6 301.4"/>
<path d="M465.2 108.1 C467.4 114.7 503.8 302.9 504.2 309.8"/>
<path d="M460.6 109.8 C463.8 117.9 477.1 298.9 475.1 307.4"/>
<path d="M456.1 111.6 C459.9 120.2 472.9 297.2 470.4 306.3"/>
<path d="M451.7 113.7 C458.4 127.1 429.5 262.7 418.0 272.2"/>
<path d="M447.4 116.0 C453.2 126.4 453.6 286.6 447.9 297.1"/>
<path d="M411.9 148.8 C425.5 158.0 551.8 137.8 561.9 124.9"/>
<path d="M409.2 153.0 C422.5 160.9 555.6 139.7 565.7 128.0"/>
<path d="M406.8 157.2 C431.4 170.5 423.5 219.2 395.9 223.9"/>
<path d="M414.7 144.8 C426.0 153.2 470.1 291.5 465.7 304.8"/>
<path d="M505.8 103.1 C505.0 113.0 428.5 269.3 421.2 275.9"/>
<path d="M510.6 103.6 C509.2 115.2 415.4 246.6 404.8 251.7"/>
<path d="M515.5 104.3 C512.0 124.5 580.3 195.2 600.7 192.4"/>
<path d="M529.7 107.8 C519.1 140.6 531.1 145.8 547.6 115.4"/>
<path d="M572.8 134.7 C560.5 146.4 556.5 270.3 567.9 282.8"/>
<path d="M597.2 176.5 C566.9 185.6 569.6 213.6 601.1 216.8"/>
<path d="M600.7 192.4 C588.8 194.0 461.4 290.4 456.6 301.4"/>
<path d="M600.7 192.4 C589.5 193.9 453.3 287.2 447.9 297.1"/>
<path d="M601.2 197.3 C590.0 198.3 449.5 285.0 443.6 294.6"/>
<path d="M601.2 197.3 C588.0 198.4 469.9 292.3 465.7 304.8"/>
<path d="M600.7 192.4 C594.1 193.3 405.7 236.1 399.4 238.2"/>
<path d="M601.2 197.3 C594.7 197.9 403.2 227.3 396.8 228.7"/>
<path d="M601.5 202.2 C594.1 202.5 409.7 244.4 402.8 247.3"/>
<path d="M601.5 211.9 C593.0 211.5 414.6 252.0 407.1 256.1"/>
<path d="M581.0 268.4 C552.2 246.9 548.2 251.8 574.8 275.9"/>
<path d="M571.4 279.5 C562.2 270.3 413.2 238.2 401.0 242.8"/>
<path d="M552.4 294.6 C545.5 283.5 408.1 217.5 395.2 219.1"/>
<path d="M513.9 308.8 C508.7 275.3 492.3 275.9 489.6 309.7"/>
<path d="M499.4 310.0 C498.9 275.5 485.9 274.4 479.9 308.4"/>
<path d="M475.1 307.4 C482.8 273.8 470.4 269.7 456.6 301.4"/>
<path d="M394.7 214.3 C406.5 213.4 553.3 279.7 560.4 289.1"/>
<path d="M409.5 260.3 C424.7 251.0 449.2 135.8 439.1 121.2"/>
</g>
<defs>
<path id="latS" d="M47.7,1 C57,-0.5 66,1 74,5.2 C81,8.5 90,15 95.5,25.5 C99,33 100.5,44 98.7,51 C97,57 95,61 92,63 C88,65.5 85,66 81.7,66.5 C76,68 71,70 66,71.5 C60,73.5 55,74.8 50.5,74.8 C45,75 39,74.5 35,73.8 C31,72.5 29.5,70 29.5,67 C29.5,64.5 28.5,62.5 26.5,62.2 C22,62 18,62.5 15,62 C10,61 7.5,59.5 5.5,57.5 C2,53.5 0.2,49 0.2,45 C0,40 0.2,37 1.1,33.5 C2.5,27 5,21 9,17 C13,13 17,10 21.5,8 C30,4 39,2 47.7,1 Z"/>
<path id="medS" d="M48.5,0 C54,0 58,0.6 62.5,1.7 C68,3 74,4.5 79.7,7.4 C85,10 89,13.5 92.2,17.4 C96,22 98.5,27 99.3,32.2 C100,36 100.2,40 100,43.6 C99.5,47.5 98,51 95.3,53.5 C92,56.5 88,57.5 84.4,58.5 C80,59.5 76,61 73.5,63.4 C71.5,65.5 71.5,69 70.3,71.7 C68.5,74.5 65,75.2 62.5,75 C59.5,74.6 58,73 56.3,71.7 C52,69 48,67.5 43.7,66.8 C38,65.5 33,64 28.1,63.4 C21,62.5 14,61.8 9.3,60.1 C5,58.5 2.5,57 1.5,55.2 C0,51.5 -0.2,47.5 0,43.6 C0.5,38 2,33 4.7,28.9 C7,24 9.5,20.5 12.5,17.4 C15.5,13.5 18.5,10 21.9,7.4 C26,4.5 30,2 34.3,0.8 C39,0 44,0 48.5,0 Z"/>
<clipPath id="latC"><path d="M47.7,1 C57,-0.5 66,1 74,5.2 C81,8.5 90,15 95.5,25.5 C99,33 100.5,44 98.7,51 C97,57 95,61 92,63 C88,65.5 85,66 81.7,66.5 C76,68 71,70 66,71.5 C60,73.5 55,74.8 50.5,74.8 C45,75 39,74.5 35,73.8 C31,72.5 29.5,70 29.5,67 C29.5,64.5 28.5,62.5 26.5,62.2 C22,62 18,62.5 15,62 C10,61 7.5,59.5 5.5,57.5 C2,53.5 0.2,49 0.2,45 C0,40 0.2,37 1.1,33.5 C2.5,27 5,21 9,17 C13,13 17,10 21.5,8 C30,4 39,2 47.7,1 Z"/></clipPath>
<clipPath id="medC"><path d="M48.5,0 C54,0 58,0.6 62.5,1.7 C68,3 74,4.5 79.7,7.4 C85,10 89,13.5 92.2,17.4 C96,22 98.5,27 99.3,32.2 C100,36 100.2,40 100,43.6 C99.5,47.5 98,51 95.3,53.5 C92,56.5 88,57.5 84.4,58.5 C80,59.5 76,61 73.5,63.4 C71.5,65.5 71.5,69 70.3,71.7 C68.5,74.5 65,75.2 62.5,75 C59.5,74.6 58,73 56.3,71.7 C52,69 48,67.5 43.7,66.8 C38,65.5 33,64 28.1,63.4 C21,62.5 14,61.8 9.3,60.1 C5,58.5 2.5,57 1.5,55.2 C0,51.5 -0.2,47.5 0,43.6 C0.5,38 2,33 4.7,28.9 C7,24 9.5,20.5 12.5,17.4 C15.5,13.5 18.5,10 21.9,7.4 C26,4.5 30,2 34.3,0.8 C39,0 44,0 48.5,0 Z"/></clipPath>
<radialGradient id="bg1" cx="0.45" cy="0.4" r="0.65"><stop offset="0" stop-color="#B4B4B4"/><stop offset="0.75" stop-color="#A4A4A4"/><stop offset="1" stop-color="#858585"/></radialGradient>
<radialGradient id="bg2" cx="0.45" cy="0.4" r="0.65"><stop offset="0" stop-color="#C0C0C0"/><stop offset="0.75" stop-color="#ADADAD"/><stop offset="1" stop-color="#8C8C8C"/></radialGradient>
</defs>
<g transform="translate(389.00 81.10) scale(0.4200 0.4333)">
<use href="#medS" fill="url(#bg1)"/>
<g clip-path="url(#medC)">
<g fill="none" stroke="#C6C6C6" stroke-width="1.3" stroke-linecap="round" vector-effect="non-scaling-stroke">
<path d="M89.9,68.5 L91.4,67.9 L92.7,67.1 L94.1,66.4 L94.2,65.1" vector-effect="non-scaling-stroke"/>
<path d="M21.0,33.7 L23.2,33.9 L24.5,32.5 L26.5,31.9 L28.4,30.9" vector-effect="non-scaling-stroke"/>
<path d="M51.2,53.7 L49.6,53.8 L48.0,53.7 L46.6,53.1 L45.5,52.2" vector-effect="non-scaling-stroke"/>
<path d="M94.2,28.0 L94.8,26.4 L96.0,25.1 L96.4,23.5 L94.8,22.5" vector-effect="non-scaling-stroke"/>
<path d="M47.6,52.5 L46.3,51.1 L44.1,50.9 L42.5,52.1 L41.7,53.7" vector-effect="non-scaling-stroke"/>
<path d="M79.7,16.5 L81.2,15.9 L82.0,14.7 L83.0,13.7 L84.7,13.7" vector-effect="non-scaling-stroke"/>
<path d="M34.1,28.5 L32.5,29.4 L30.8,30.1 L29.9,31.5 L30.9,32.9" vector-effect="non-scaling-stroke"/>
<path d="M76.7,51.8 L77.7,50.6 L79.6,50.8 L81.3,51.3 L81.4,52.8" vector-effect="non-scaling-stroke"/>
<path d="M18.7,70.3 L20.1,69.0 L22.2,68.8 L24.1,69.5 L24.0,71.2" vector-effect="non-scaling-stroke"/>
<path d="M78.7,68.5 L76.8,66.6 L74.2,65.5 L74.6,63.1 L74.1,60.8" vector-effect="non-scaling-stroke"/>
<path d="M21.2,8.2 L20.1,7.1 L21.0,5.8 L20.6,4.4 L18.9,4.0" vector-effect="non-scaling-stroke"/>
<path d="M52.7,14.7 L50.2,15.5 L47.9,16.7 L45.5,15.7 L42.9,15.0" vector-effect="non-scaling-stroke"/>
<path d="M35.2,64.6 L37.4,63.1 L39.2,61.3 L41.8,60.4 L44.3,61.4" vector-effect="non-scaling-stroke"/>
<path d="M63.1,19.5 L61.3,20.4 L59.4,21.1 L57.4,21.6 L55.6,20.7" vector-effect="non-scaling-stroke"/>
<path d="M13.2,46.6 L10.9,46.9 L9.3,48.3 L7.1,47.7 L5.4,48.9" vector-effect="non-scaling-stroke"/>
<path d="M55.8,40.4 L56.2,42.2 L56.9,44.0 L56.3,45.8 L58.3,46.8" vector-effect="non-scaling-stroke"/>
<path d="M38.5,57.2 L41.2,57.5 L43.6,58.7 L46.3,58.2 L48.9,57.3" vector-effect="non-scaling-stroke"/>
<path d="M42.7,8.6 L43.1,6.9 L43.7,5.2 L44.6,3.6 L45.7,2.0" vector-effect="non-scaling-stroke"/>
<path d="M31.0,65.0 L31.2,67.3 L31.5,69.5 L29.8,71.3 L27.3,72.4" vector-effect="non-scaling-stroke"/>
<path d="M59.9,23.1 L60.0,24.7 L58.2,25.4 L56.9,26.7 L56.1,28.2" vector-effect="non-scaling-stroke"/>
<path d="M42.4,59.3 L40.8,60.6 L40.3,62.5 L42.0,63.7 L44.4,63.7" vector-effect="non-scaling-stroke"/>
<path d="M27.8,61.8 L26.1,61.9 L25.3,63.1 L24.3,64.1 L23.5,65.3" vector-effect="non-scaling-stroke"/>
</g>
<g fill="none" stroke="#444444" stroke-width="0.75" stroke-linejoin="round" vector-effect="non-scaling-stroke">
<path d="M20,20 C35,14 55,13 75,18 C84,21 90,26 94,32" vector-effect="non-scaling-stroke"/>
<path d="M14,34 C24,26 40,22 56,22" vector-effect="non-scaling-stroke"/>
<path d="M45.5,41.6 L48.8,40.3 L52.3,39.5 L54.6,37.2 L56.9,34.9" vector-effect="non-scaling-stroke"/>
<path d="M62.2,57.7 L65.4,57.1 L68.4,58.1 L70.7,60.0 L73.9,59.6" vector-effect="non-scaling-stroke"/>
<path d="M95.3,69.6 L91.4,68.7 L88.3,70.7 L85.1,72.6 L84.8,75.9" vector-effect="non-scaling-stroke"/>
<path d="M20.9,19.7 L24.5,19.9 L27.2,21.9 L29.8,24.0 L31.5,26.6" vector-effect="non-scaling-stroke"/>
<path d="M50.0,48.7 L47.6,47.0 L48.1,44.5 L50.4,42.8 L53.4,41.9" vector-effect="non-scaling-stroke"/>
<path d="M32.6,18.8 L30.8,20.4 L29.3,22.2 L26.7,22.8 L24.4,23.9" vector-effect="non-scaling-stroke"/>
<path d="M93.1,61.5 L95.1,63.2 L97.3,64.9 L96.8,67.3 L97.0,69.7" vector-effect="non-scaling-stroke"/>
<path d="M9.9,46.4 L8.0,44.4 L5.3,43.0 L5.1,40.5 L6.6,38.2" vector-effect="non-scaling-stroke"/>
<path d="M14.1,20.0 L15.0,22.0 L17.2,23.2 L19.2,24.5 L21.4,25.7" vector-effect="non-scaling-stroke"/>
<path d="M20.9,53.5 L25.0,53.7 L29.1,53.3 L32.3,51.3 L34.0,48.3" vector-effect="non-scaling-stroke"/>
<path d="M94.3,58.4 L95.4,62.1 L97.4,65.5 L96.2,69.1 L93.8,72.4" vector-effect="non-scaling-stroke"/>
<path d="M12.4,71.3 L11.5,73.7 L11.5,76.2 L12.9,78.5 L15.9,79.2" vector-effect="non-scaling-stroke"/>
<path d="M11.5,43.2 L12.7,46.3 L14.2,49.2 L12.2,52.0 L10.3,54.8" vector-effect="non-scaling-stroke"/>
<path d="M57.0,62.8 L55.9,64.9 L53.4,66.1 L52.0,68.1 L52.2,70.4" vector-effect="non-scaling-stroke"/>
<path d="M72.5,67.9 L70.5,71.4 L67.6,74.6 L65.3,78.0 L66.8,81.7" vector-effect="non-scaling-stroke"/>
<path d="M6.6,69.4 L8.9,72.3 L8.5,75.7 L7.3,79.0 L7.9,82.4" vector-effect="non-scaling-stroke"/>
<path d="M19.5,52.7 L22.1,54.0 L23.1,56.3 L23.3,58.8 L24.9,60.9" vector-effect="non-scaling-stroke"/>
<path d="M89.2,17.1 L92.4,17.1 L94.4,15.1 L94.5,12.6 L93.8,10.1" vector-effect="non-scaling-stroke"/>
<path d="M56.8,12.1 L52.1,11.7 L47.7,10.2 L44.4,7.5 L41.7,4.4" vector-effect="non-scaling-stroke"/>
<path d="M16.2,5.4 L20.4,7.3 L21.0,11.1 L25.2,12.9 L28.7,15.5" vector-effect="non-scaling-stroke"/>
<path d="M48.3,53.4 L50.4,57.1 L51.9,60.9 L51.2,64.8 L47.1,67.1" vector-effect="non-scaling-stroke"/>
<path d="M72.3,51.6 L72.2,47.7 L73.8,44.1 L78.2,42.5 L82.7,43.7" vector-effect="non-scaling-stroke"/>
<path d="M42.2,57.5 L45.4,55.8 L48.1,53.4 L51.1,51.4 L54.6,50.0" vector-effect="non-scaling-stroke"/>
<path d="M10.5,47.1 L14.8,48.6 L19.5,49.3 L23.2,51.7 L26.4,54.4" vector-effect="non-scaling-stroke"/>
<path d="M44.4,60.8 L48.4,59.4 L52.7,58.7 L56.9,57.8 L60.0,55.4" vector-effect="non-scaling-stroke"/>
<path d="M68.6,37.3 L64.0,36.4 L60.4,39.0 L58.5,42.5 L55.1,45.3" vector-effect="non-scaling-stroke"/>
<path d="M22.0,14.7 L25.2,12.5 L29.3,12.8 L33.3,11.9 L37.5,12.1" vector-effect="non-scaling-stroke"/>
<path d="M21.7,32.7 L26.0,31.0 L29.6,28.6 L33.8,26.7 L36.8,23.7" vector-effect="non-scaling-stroke"/>
<path d="M15.8,37.3 L19.6,35.2 L24.0,36.3 L28.6,35.7 L31.8,33.0" vector-effect="non-scaling-stroke"/>
<path d="M45.4,22.0 L45.3,24.8 L45.2,27.6 L46.5,30.3 L45.3,33.0" vector-effect="non-scaling-stroke"/>
<path d="M95.3,34.2 L96.2,36.2 L98.7,36.8 L100.6,38.1 L102.3,39.7" vector-effect="non-scaling-stroke"/>
<path d="M32.0,57.6 L34.9,57.7 L36.6,55.9 L39.3,55.3 L41.4,53.7" vector-effect="non-scaling-stroke"/>
<path d="M16.2,6.2 L14.5,3.7 L13.8,0.9 L15.3,-1.8 L18.8,-2.4" vector-effect="non-scaling-stroke"/>
<path d="M67.3,16.8 L66.1,18.9 L65.0,21.1 L62.9,22.7 L62.4,25.0" vector-effect="non-scaling-stroke"/>
<path d="M28.6,26.9 L28.2,23.8 L29.7,21.0 L30.5,18.1 L33.2,15.9" vector-effect="non-scaling-stroke"/>
<path d="M88.2,9.0 L89.9,5.9 L91.2,2.6 L93.5,-0.3 L97.8,-1.0" vector-effect="non-scaling-stroke"/>
<path d="M38.4,42.2 L42.9,42.7 L47.4,42.9 L51.6,44.2 L55.9,43.4" vector-effect="non-scaling-stroke"/>
<path d="M70.9,59.5 L66.8,58.4 L64.9,55.3 L67.0,52.3 L71.2,51.9" vector-effect="non-scaling-stroke"/>
<path d="M53.5,57.6 L49.1,59.1 L45.5,61.6 L45.4,65.4 L45.9,69.2" vector-effect="non-scaling-stroke"/>
<path d="M54.7,56.0 L52.5,55.0 L50.1,55.6 L47.6,55.1 L45.2,55.9" vector-effect="non-scaling-stroke"/>
<path d="M34.5,57.4 L36.2,59.2 L36.8,61.4 L35.5,63.5 L33.4,65.0" vector-effect="non-scaling-stroke"/>
<path d="M91.9,37.0 L93.6,35.3 L95.5,33.7 L96.4,31.7 L98.3,30.1" vector-effect="non-scaling-stroke"/>
<path d="M63.1,39.1 L63.9,36.0 L63.8,32.9 L66.2,30.4 L70.1,30.1" vector-effect="non-scaling-stroke"/>
<path d="M22.6,61.7 L26.4,61.5 L29.4,59.7 L32.6,58.0 L35.8,56.4" vector-effect="non-scaling-stroke"/>
</g>
<path d="M18,24 C28,18 44,18 56,22 L54,30 C46,30 40,32 36,38 L30,42 C24,40 20,36 18,30 Z" fill="#FFFF00"/>
<path d="M72,30 L80,26 L86,30 L96,32 L99,40 L96,48 L88,52 L78,50 L74,42 Z" fill="#FFFF00"/>
<path d="M34,33 C42,29.5 52,28.5 62,29 C67,29.3 71,30 73,31.5 L72.5,35 L77,36.5 L75.5,40.5 L79,43 L76.5,47 L78.5,50 L73.5,53 L72.5,58 L69.5,62 C66,66 61,69 56,69.5 C50,67.5 44,63 40,58.5 C35.5,53 32.5,46 32.2,40 C32,37 32.8,34.6 34,33 Z" fill="#222"/>
</g>
<use href="#medS" fill="none" stroke="#555" stroke-width="0.6" vector-effect="non-scaling-stroke"/>
</g>
<g transform="translate(439.90 56.40) scale(0.4160 0.4093)">
<use href="#latS" fill="url(#bg1)"/>
<g clip-path="url(#latC)">
<g fill="none" stroke="#C6C6C6" stroke-width="1.3" stroke-linecap="round" vector-effect="non-scaling-stroke">
<path d="M18.5,50.6 L16.3,50.4 L14.9,49.0 L15.1,47.3 L15.4,45.5" vector-effect="non-scaling-stroke"/>
<path d="M50.5,19.3 L52.5,19.7 L53.8,18.4 L55.8,18.2 L57.2,17.0" vector-effect="non-scaling-stroke"/>
<path d="M24.9,5.9 L26.4,7.6 L27.2,9.6 L29.8,9.7 L32.2,8.9" vector-effect="non-scaling-stroke"/>
<path d="M49.8,11.0 L50.5,9.5 L52.4,8.9 L52.9,7.3 L54.9,6.9" vector-effect="non-scaling-stroke"/>
<path d="M45.6,41.1 L46.1,42.8 L48.3,43.1 L49.3,44.6 L51.4,45.3" vector-effect="non-scaling-stroke"/>
<path d="M76.3,17.4 L78.9,18.4 L80.0,20.5 L80.6,22.7 L79.6,24.8" vector-effect="non-scaling-stroke"/>
<path d="M14.5,35.9 L16.3,35.9 L17.3,37.1 L18.5,38.1 L20.2,38.7" vector-effect="non-scaling-stroke"/>
<path d="M45.4,29.6 L46.1,28.0 L44.6,26.8 L44.3,25.2 L46.1,24.4" vector-effect="non-scaling-stroke"/>
<path d="M49.6,36.9 L47.2,37.7 L44.6,38.0 L42.0,38.0 L39.5,37.2" vector-effect="non-scaling-stroke"/>
<path d="M20.0,14.7 L19.4,17.0 L18.0,19.1 L18.1,21.4 L20.7,22.5" vector-effect="non-scaling-stroke"/>
<path d="M9.2,59.1 L10.4,57.8 L12.3,57.1 L14.0,58.0 L13.6,59.6" vector-effect="non-scaling-stroke"/>
<path d="M41.3,71.2 L43.0,72.6 L44.8,73.8 L47.0,74.6 L49.3,74.1" vector-effect="non-scaling-stroke"/>
<path d="M85.4,14.2 L86.5,16.2 L87.7,18.1 L86.6,20.1 L88.5,21.7" vector-effect="non-scaling-stroke"/>
<path d="M27.2,23.0 L27.3,24.4 L28.1,25.7 L27.2,26.8 L25.5,26.5" vector-effect="non-scaling-stroke"/>
<path d="M73.1,36.0 L72.9,38.4 L71.0,40.2 L72.6,42.2 L75.4,42.9" vector-effect="non-scaling-stroke"/>
<path d="M81.8,57.9 L83.2,56.3 L85.0,55.0 L87.4,55.4 L89.7,54.8" vector-effect="non-scaling-stroke"/>
<path d="M53.2,22.0 L54.1,21.0 L55.6,21.3 L56.3,20.2 L57.4,19.4" vector-effect="non-scaling-stroke"/>
<path d="M63.5,61.8 L61.7,61.3 L61.5,59.8 L63.1,59.0 L63.1,57.5" vector-effect="non-scaling-stroke"/>
<path d="M11.9,9.5 L13.5,8.3 L15.6,8.6 L17.4,9.5 L19.4,8.9" vector-effect="non-scaling-stroke"/>
<path d="M53.6,25.4 L52.5,26.5 L52.8,28.0 L53.6,29.3 L53.5,30.7" vector-effect="non-scaling-stroke"/>
<path d="M54.7,6.2 L56.0,4.2 L58.6,3.4 L58.5,1.2 L58.0,-1.1" vector-effect="non-scaling-stroke"/>
<path d="M9.0,55.7 L11.3,56.6 L12.7,58.3 L15.0,59.3 L16.9,57.9" vector-effect="non-scaling-stroke"/>
<path d="M39.6,24.3 L41.1,23.5 L42.9,22.7 L44.4,23.7 L46.2,23.1" vector-effect="non-scaling-stroke"/>
<path d="M59.5,38.1 L57.9,36.1 L57.7,33.8 L57.6,31.4 L58.1,29.1" vector-effect="non-scaling-stroke"/>
<path d="M9.0,59.2 L10.6,58.3 L12.2,59.3 L14.2,58.7 L14.4,57.1" vector-effect="non-scaling-stroke"/>
<path d="M9.9,59.2 L10.7,57.6 L9.0,56.5 L8.0,54.9 L6.7,53.5" vector-effect="non-scaling-stroke"/>
<path d="M51.6,29.9 L52.0,31.3 L52.7,32.7 L54.3,33.4 L55.3,34.7" vector-effect="non-scaling-stroke"/>
<path d="M79.8,52.9 L78.3,53.7 L76.7,54.6 L75.0,55.0 L73.9,53.8" vector-effect="non-scaling-stroke"/>
<path d="M11.0,36.1 L9.6,34.4 L9.9,32.4 L11.0,30.5 L13.3,29.6" vector-effect="non-scaling-stroke"/>
<path d="M65.8,62.3 L63.7,61.1 L63.9,59.1 L63.5,57.2 L63.7,55.1" vector-effect="non-scaling-stroke"/>
</g>
<g fill="none" stroke="#444444" stroke-width="0.75" stroke-linejoin="round" vector-effect="non-scaling-stroke">
<path d="M30,58 C40,48 52,43 68,41" vector-effect="non-scaling-stroke"/>
<path d="M37,66 C48,59 62,55 80,53" vector-effect="non-scaling-stroke"/>
<path d="M56,2 C53,12 50,23 47,38" vector-effect="non-scaling-stroke"/>
<path d="M33.4,13.4 L32.0,11.6 L30.1,10.1 L27.4,10.4 L24.8,10.7" vector-effect="non-scaling-stroke"/>
<path d="M6.5,32.9 L9.1,33.5 L10.7,35.3 L13.4,35.7 L16.0,34.9" vector-effect="non-scaling-stroke"/>
<path d="M62.0,68.4 L61.5,65.6 L58.5,64.2 L57.4,61.6 L55.0,59.5" vector-effect="non-scaling-stroke"/>
<path d="M16.6,11.1 L17.8,14.6 L18.3,18.2 L17.5,21.8 L17.9,25.4" vector-effect="non-scaling-stroke"/>
<path d="M54.5,7.3 L56.7,9.0 L59.2,10.3 L62.2,10.8 L65.0,11.7" vector-effect="non-scaling-stroke"/>
<path d="M45.6,23.7 L44.6,20.4 L44.3,17.0 L44.1,13.6 L46.9,11.0" vector-effect="non-scaling-stroke"/>
<path d="M71.6,22.9 L74.2,22.2 L77.0,22.7 L79.5,21.7 L81.9,20.7" vector-effect="non-scaling-stroke"/>
<path d="M6.7,49.1 L9.6,47.0 L11.4,44.2 L14.4,42.2 L17.8,40.6" vector-effect="non-scaling-stroke"/>
<path d="M57.5,34.5 L59.9,31.1 L63.5,28.5 L63.3,24.6 L65.1,21.0" vector-effect="non-scaling-stroke"/>
<path d="M63.8,71.5 L64.5,69.0 L66.3,66.8 L65.0,64.5 L63.6,62.2" vector-effect="non-scaling-stroke"/>
<path d="M18.8,11.1 L22.9,9.8 L25.7,7.1 L27.8,3.9 L31.9,2.7" vector-effect="non-scaling-stroke"/>
<path d="M10.6,34.0 L7.8,30.9 L8.3,27.2 L6.8,23.6 L4.5,20.3" vector-effect="non-scaling-stroke"/>
<path d="M36.7,64.0 L38.5,62.2 L38.8,59.9 L37.7,57.8 L36.5,55.7" vector-effect="non-scaling-stroke"/>
<path d="M58.4,21.1 L61.8,20.5 L65.4,20.2 L67.8,22.2 L69.2,24.8" vector-effect="non-scaling-stroke"/>
<path d="M51.5,45.6 L52.3,43.6 L54.4,42.3 L57.0,42.5 L59.1,43.8" vector-effect="non-scaling-stroke"/>
<path d="M39.9,30.5 L43.9,29.8 L45.8,26.9 L45.3,23.7 L42.5,21.3" vector-effect="non-scaling-stroke"/>
<path d="M35.0,6.6 L37.0,5.0 L38.4,3.0 L37.1,0.9 L38.0,-1.3" vector-effect="non-scaling-stroke"/>
<path d="M60.7,13.2 L61.6,15.9 L64.4,17.3 L65.5,19.8 L63.4,22.0" vector-effect="non-scaling-stroke"/>
<path d="M46.8,36.4 L49.5,36.9 L52.2,36.3 L54.7,37.2 L57.3,36.6" vector-effect="non-scaling-stroke"/>
<path d="M5.2,68.6 L2.4,68.0 L0.2,69.5 L-2.1,70.8 L-4.9,70.1" vector-effect="non-scaling-stroke"/>
<path d="M84.2,51.0 L86.1,53.3 L86.2,56.0 L86.2,58.8 L84.4,61.1" vector-effect="non-scaling-stroke"/>
<path d="M34.0,18.4 L38.4,16.6 L43.3,17.1 L46.9,19.8 L48.4,23.6" vector-effect="non-scaling-stroke"/>
<path d="M24.3,38.7 L25.0,40.7 L26.7,42.2 L29.1,43.0 L31.0,44.4" vector-effect="non-scaling-stroke"/>
<path d="M92.9,33.9 L97.2,35.8 L102.1,36.8 L106.8,35.5 L110.0,32.5" vector-effect="non-scaling-stroke"/>
<path d="M21.5,17.1 L21.0,13.3 L20.3,9.6 L21.0,5.8 L24.2,3.0" vector-effect="non-scaling-stroke"/>
<path d="M11.0,48.6 L15.4,48.3 L19.8,47.9 L23.1,45.5 L27.5,44.9" vector-effect="non-scaling-stroke"/>
<path d="M34.3,58.3 L37.5,57.2 L40.5,58.6 L42.5,60.9 L45.8,61.8" vector-effect="non-scaling-stroke"/>
<path d="M14.9,13.4 L16.1,9.9 L19.7,7.7 L24.0,8.8 L27.7,11.0" vector-effect="non-scaling-stroke"/>
<path d="M35.9,40.9 L35.4,42.8 L34.2,44.6 L32.9,46.4 L30.4,46.7" vector-effect="non-scaling-stroke"/>
<path d="M43.8,63.2 L43.7,60.7 L42.5,58.5 L40.0,57.1 L37.9,55.4" vector-effect="non-scaling-stroke"/>
<path d="M27.4,31.9 L31.5,33.8 L35.8,35.5 L39.7,37.7 L40.4,41.5" vector-effect="non-scaling-stroke"/>
<path d="M42.5,66.3 L38.7,66.1 L36.4,68.6 L34.4,71.2 L34.7,74.2" vector-effect="non-scaling-stroke"/>
<path d="M3.4,58.1 L3.5,61.1 L3.2,64.0 L4.2,66.9 L5.1,69.7" vector-effect="non-scaling-stroke"/>
<path d="M55.2,57.1 L59.1,57.6 L62.8,56.8 L66.6,57.6 L70.3,58.4" vector-effect="non-scaling-stroke"/>
<path d="M55.8,55.4 L59.2,54.5 L62.7,53.6 L66.1,52.8 L69.7,53.1" vector-effect="non-scaling-stroke"/>
<path d="M45.5,39.8 L40.8,38.8 L38.3,35.5 L39.8,31.8 L39.1,28.0" vector-effect="non-scaling-stroke"/>
<path d="M55.6,68.1 L55.1,65.9 L54.2,63.7 L51.6,62.8 L48.8,63.0" vector-effect="non-scaling-stroke"/>
<path d="M9.9,49.2 L7.7,45.8 L7.5,42.0 L8.8,38.4 L6.7,34.9" vector-effect="non-scaling-stroke"/>
<path d="M86.0,69.8 L87.9,73.4 L89.9,76.9 L87.3,80.2 L82.7,81.6" vector-effect="non-scaling-stroke"/>
<path d="M18.2,32.8 L15.3,34.1 L13.1,36.1 L10.1,37.3 L9.5,39.9" vector-effect="non-scaling-stroke"/>
<path d="M55.1,33.4 L58.2,34.3 L61.3,35.3 L64.2,34.1 L67.2,35.3" vector-effect="non-scaling-stroke"/>
<path d="M77.1,70.0 L80.2,69.4 L83.2,70.1 L86.3,69.7 L88.3,67.7" vector-effect="non-scaling-stroke"/>
<path d="M42.7,65.9 L41.9,63.5 L43.6,61.3 L45.6,59.4 L48.4,58.3" vector-effect="non-scaling-stroke"/>
<path d="M11.4,7.0 L8.0,6.1 L6.8,3.4 L6.4,0.6 L8.1,-1.9" vector-effect="non-scaling-stroke"/>
<path d="M10.9,62.1 L15.3,63.3 L19.9,63.3 L24.6,63.7 L27.2,66.8" vector-effect="non-scaling-stroke"/>
<path d="M28.2,11.9 L25.6,13.3 L24.8,15.7 L26.6,17.7 L29.5,18.6" vector-effect="non-scaling-stroke"/>
<path d="M32.3,24.0 L32.5,21.5 L30.7,19.3 L28.2,17.7 L25.1,18.4" vector-effect="non-scaling-stroke"/>
<path d="M26.5,4.1 L24.0,1.7 L21.2,-0.5 L21.6,-3.6 L19.1,-5.9" vector-effect="non-scaling-stroke"/>
<path d="M80.0,32.8 L75.5,33.7 L71.1,34.6 L66.5,34.0 L64.5,30.7" vector-effect="non-scaling-stroke"/>
<path d="M35.2,60.4 L33.4,57.5 L30.5,55.1 L26.5,55.4 L23.7,57.8" vector-effect="non-scaling-stroke"/>
<path d="M9.6,54.1 L11.7,55.7 L12.1,58.1 L10.3,59.9 L7.9,61.3" vector-effect="non-scaling-stroke"/>
<path d="M29.5,19.7 L31.0,22.4 L32.8,24.9 L35.9,26.5 L36.1,29.4" vector-effect="non-scaling-stroke"/>
<path d="M94.4,40.7 L96.4,44.3 L99.6,47.3 L104.5,46.8 L109.0,45.4" vector-effect="non-scaling-stroke"/>
<path d="M47.6,37.7 L51.2,38.5 L54.9,37.9 L56.9,35.3 L58.2,32.5" vector-effect="non-scaling-stroke"/>
<path d="M6.9,4.6 L5.4,6.7 L3.7,8.8 L1.0,10.0 L-2.0,10.4" vector-effect="non-scaling-stroke"/>
<path d="M70.3,63.7 L67.1,62.9 L64.1,64.0 L60.8,64.0 L57.6,63.2" vector-effect="non-scaling-stroke"/>
<path d="M7.1,60.6 L11.1,60.0 L14.8,61.3 L18.7,60.3 L22.6,59.4" vector-effect="non-scaling-stroke"/>
<path d="M50.4,60.6 L52.6,57.4 L57.0,56.4 L61.6,56.8 L65.6,58.5" vector-effect="non-scaling-stroke"/>
<path d="M24.6,5.2 L28.0,5.3 L30.6,7.1 L32.9,9.1 L34.4,11.5" vector-effect="non-scaling-stroke"/>
<path d="M61.9,50.0 L59.7,49.0 L58.4,47.2 L57.1,45.5 L56.0,43.7" vector-effect="non-scaling-stroke"/>
</g>
<path d="M3,32 L9,23 L17,29 L19.5,47 L18,60 L10.8,62.5 L4.3,53.5 Z" fill="#E8505A"/>
<path d="M24,14 L36,13 L36,21.5 L27,21.5 Z" fill="#E8505A"/>
<path d="M65.6,29.3 L77.6,26 L82.5,41.3 L71.6,45.7 L65.6,38.4 Z" fill="#E8505A"/>
<path d="M29.8,62.5 L47.8,56.7 L68.8,53.5 L71.6,62.5 L53.8,71.8 L35.8,77.7 L26.9,71.8 Z" fill="#E8505A"/>
</g>
<use href="#latS" fill="none" stroke="#555" stroke-width="0.6" vector-effect="non-scaling-stroke"/>
</g>
<g transform="translate(488.00 52.00) scale(0.4270 0.4240)">
<use href="#latS" fill="url(#bg1)"/>
<g clip-path="url(#latC)">
<g fill="none" stroke="#C6C6C6" stroke-width="1.3" stroke-linecap="round" vector-effect="non-scaling-stroke">
<path d="M18.5,50.6 L16.3,50.4 L14.9,49.0 L15.1,47.3 L15.4,45.5" vector-effect="non-scaling-stroke"/>
<path d="M50.5,19.3 L52.5,19.7 L53.8,18.4 L55.8,18.2 L57.2,17.0" vector-effect="non-scaling-stroke"/>
<path d="M24.9,5.9 L26.4,7.6 L27.2,9.6 L29.8,9.7 L32.2,8.9" vector-effect="non-scaling-stroke"/>
<path d="M49.8,11.0 L50.5,9.5 L52.4,8.9 L52.9,7.3 L54.9,6.9" vector-effect="non-scaling-stroke"/>
<path d="M45.6,41.1 L46.1,42.8 L48.3,43.1 L49.3,44.6 L51.4,45.3" vector-effect="non-scaling-stroke"/>
<path d="M76.3,17.4 L78.9,18.4 L80.0,20.5 L80.6,22.7 L79.6,24.8" vector-effect="non-scaling-stroke"/>
<path d="M14.5,35.9 L16.3,35.9 L17.3,37.1 L18.5,38.1 L20.2,38.7" vector-effect="non-scaling-stroke"/>
<path d="M45.4,29.6 L46.1,28.0 L44.6,26.8 L44.3,25.2 L46.1,24.4" vector-effect="non-scaling-stroke"/>
<path d="M49.6,36.9 L47.2,37.7 L44.6,38.0 L42.0,38.0 L39.5,37.2" vector-effect="non-scaling-stroke"/>
<path d="M20.0,14.7 L19.4,17.0 L18.0,19.1 L18.1,21.4 L20.7,22.5" vector-effect="non-scaling-stroke"/>
<path d="M9.2,59.1 L10.4,57.8 L12.3,57.1 L14.0,58.0 L13.6,59.6" vector-effect="non-scaling-stroke"/>
<path d="M41.3,71.2 L43.0,72.6 L44.8,73.8 L47.0,74.6 L49.3,74.1" vector-effect="non-scaling-stroke"/>
<path d="M85.4,14.2 L86.5,16.2 L87.7,18.1 L86.6,20.1 L88.5,21.7" vector-effect="non-scaling-stroke"/>
<path d="M27.2,23.0 L27.3,24.4 L28.1,25.7 L27.2,26.8 L25.5,26.5" vector-effect="non-scaling-stroke"/>
<path d="M73.1,36.0 L72.9,38.4 L71.0,40.2 L72.6,42.2 L75.4,42.9" vector-effect="non-scaling-stroke"/>
<path d="M81.8,57.9 L83.2,56.3 L85.0,55.0 L87.4,55.4 L89.7,54.8" vector-effect="non-scaling-stroke"/>
<path d="M53.2,22.0 L54.1,21.0 L55.6,21.3 L56.3,20.2 L57.4,19.4" vector-effect="non-scaling-stroke"/>
<path d="M63.5,61.8 L61.7,61.3 L61.5,59.8 L63.1,59.0 L63.1,57.5" vector-effect="non-scaling-stroke"/>
<path d="M11.9,9.5 L13.5,8.3 L15.6,8.6 L17.4,9.5 L19.4,8.9" vector-effect="non-scaling-stroke"/>
<path d="M53.6,25.4 L52.5,26.5 L52.8,28.0 L53.6,29.3 L53.5,30.7" vector-effect="non-scaling-stroke"/>
<path d="M54.7,6.2 L56.0,4.2 L58.6,3.4 L58.5,1.2 L58.0,-1.1" vector-effect="non-scaling-stroke"/>
<path d="M9.0,55.7 L11.3,56.6 L12.7,58.3 L15.0,59.3 L16.9,57.9" vector-effect="non-scaling-stroke"/>
<path d="M39.6,24.3 L41.1,23.5 L42.9,22.7 L44.4,23.7 L46.2,23.1" vector-effect="non-scaling-stroke"/>
<path d="M59.5,38.1 L57.9,36.1 L57.7,33.8 L57.6,31.4 L58.1,29.1" vector-effect="non-scaling-stroke"/>
<path d="M9.0,59.2 L10.6,58.3 L12.2,59.3 L14.2,58.7 L14.4,57.1" vector-effect="non-scaling-stroke"/>
<path d="M9.9,59.2 L10.7,57.6 L9.0,56.5 L8.0,54.9 L6.7,53.5" vector-effect="non-scaling-stroke"/>
<path d="M51.6,29.9 L52.0,31.3 L52.7,32.7 L54.3,33.4 L55.3,34.7" vector-effect="non-scaling-stroke"/>
<path d="M79.8,52.9 L78.3,53.7 L76.7,54.6 L75.0,55.0 L73.9,53.8" vector-effect="non-scaling-stroke"/>
<path d="M11.0,36.1 L9.6,34.4 L9.9,32.4 L11.0,30.5 L13.3,29.6" vector-effect="non-scaling-stroke"/>
<path d="M65.8,62.3 L63.7,61.1 L63.9,59.1 L63.5,57.2 L63.7,55.1" vector-effect="non-scaling-stroke"/>
</g>
<g fill="none" stroke="#444444" stroke-width="0.75" stroke-linejoin="round" vector-effect="non-scaling-stroke">
<path d="M30,58 C40,48 52,43 68,41" vector-effect="non-scaling-stroke"/>
<path d="M37,66 C48,59 62,55 80,53" vector-effect="non-scaling-stroke"/>
<path d="M56,2 C53,12 50,23 47,38" vector-effect="non-scaling-stroke"/>
<path d="M33.4,13.4 L32.0,11.6 L30.1,10.1 L27.4,10.4 L24.8,10.7" vector-effect="non-scaling-stroke"/>
<path d="M6.5,32.9 L9.1,33.5 L10.7,35.3 L13.4,35.7 L16.0,34.9" vector-effect="non-scaling-stroke"/>
<path d="M62.0,68.4 L61.5,65.6 L58.5,64.2 L57.4,61.6 L55.0,59.5" vector-effect="non-scaling-stroke"/>
<path d="M16.6,11.1 L17.8,14.6 L18.3,18.2 L17.5,21.8 L17.9,25.4" vector-effect="non-scaling-stroke"/>
<path d="M54.5,7.3 L56.7,9.0 L59.2,10.3 L62.2,10.8 L65.0,11.7" vector-effect="non-scaling-stroke"/>
<path d="M45.6,23.7 L44.6,20.4 L44.3,17.0 L44.1,13.6 L46.9,11.0" vector-effect="non-scaling-stroke"/>
<path d="M71.6,22.9 L74.2,22.2 L77.0,22.7 L79.5,21.7 L81.9,20.7" vector-effect="non-scaling-stroke"/>
<path d="M6.7,49.1 L9.6,47.0 L11.4,44.2 L14.4,42.2 L17.8,40.6" vector-effect="non-scaling-stroke"/>
<path d="M57.5,34.5 L59.9,31.1 L63.5,28.5 L63.3,24.6 L65.1,21.0" vector-effect="non-scaling-stroke"/>
<path d="M63.8,71.5 L64.5,69.0 L66.3,66.8 L65.0,64.5 L63.6,62.2" vector-effect="non-scaling-stroke"/>
<path d="M18.8,11.1 L22.9,9.8 L25.7,7.1 L27.8,3.9 L31.9,2.7" vector-effect="non-scaling-stroke"/>
<path d="M10.6,34.0 L7.8,30.9 L8.3,27.2 L6.8,23.6 L4.5,20.3" vector-effect="non-scaling-stroke"/>
<path d="M36.7,64.0 L38.5,62.2 L38.8,59.9 L37.7,57.8 L36.5,55.7" vector-effect="non-scaling-stroke"/>
<path d="M58.4,21.1 L61.8,20.5 L65.4,20.2 L67.8,22.2 L69.2,24.8" vector-effect="non-scaling-stroke"/>
<path d="M51.5,45.6 L52.3,43.6 L54.4,42.3 L57.0,42.5 L59.1,43.8" vector-effect="non-scaling-stroke"/>
<path d="M39.9,30.5 L43.9,29.8 L45.8,26.9 L45.3,23.7 L42.5,21.3" vector-effect="non-scaling-stroke"/>
<path d="M35.0,6.6 L37.0,5.0 L38.4,3.0 L37.1,0.9 L38.0,-1.3" vector-effect="non-scaling-stroke"/>
<path d="M60.7,13.2 L61.6,15.9 L64.4,17.3 L65.5,19.8 L63.4,22.0" vector-effect="non-scaling-stroke"/>
<path d="M46.8,36.4 L49.5,36.9 L52.2,36.3 L54.7,37.2 L57.3,36.6" vector-effect="non-scaling-stroke"/>
<path d="M5.2,68.6 L2.4,68.0 L0.2,69.5 L-2.1,70.8 L-4.9,70.1" vector-effect="non-scaling-stroke"/>
<path d="M84.2,51.0 L86.1,53.3 L86.2,56.0 L86.2,58.8 L84.4,61.1" vector-effect="non-scaling-stroke"/>
<path d="M34.0,18.4 L38.4,16.6 L43.3,17.1 L46.9,19.8 L48.4,23.6" vector-effect="non-scaling-stroke"/>
<path d="M24.3,38.7 L25.0,40.7 L26.7,42.2 L29.1,43.0 L31.0,44.4" vector-effect="non-scaling-stroke"/>
<path d="M92.9,33.9 L97.2,35.8 L102.1,36.8 L106.8,35.5 L110.0,32.5" vector-effect="non-scaling-stroke"/>
<path d="M21.5,17.1 L21.0,13.3 L20.3,9.6 L21.0,5.8 L24.2,3.0" vector-effect="non-scaling-stroke"/>
<path d="M11.0,48.6 L15.4,48.3 L19.8,47.9 L23.1,45.5 L27.5,44.9" vector-effect="non-scaling-stroke"/>
<path d="M34.3,58.3 L37.5,57.2 L40.5,58.6 L42.5,60.9 L45.8,61.8" vector-effect="non-scaling-stroke"/>
<path d="M14.9,13.4 L16.1,9.9 L19.7,7.7 L24.0,8.8 L27.7,11.0" vector-effect="non-scaling-stroke"/>
<path d="M35.9,40.9 L35.4,42.8 L34.2,44.6 L32.9,46.4 L30.4,46.7" vector-effect="non-scaling-stroke"/>
<path d="M43.8,63.2 L43.7,60.7 L42.5,58.5 L40.0,57.1 L37.9,55.4" vector-effect="non-scaling-stroke"/>
<path d="M27.4,31.9 L31.5,33.8 L35.8,35.5 L39.7,37.7 L40.4,41.5" vector-effect="non-scaling-stroke"/>
<path d="M42.5,66.3 L38.7,66.1 L36.4,68.6 L34.4,71.2 L34.7,74.2" vector-effect="non-scaling-stroke"/>
<path d="M3.4,58.1 L3.5,61.1 L3.2,64.0 L4.2,66.9 L5.1,69.7" vector-effect="non-scaling-stroke"/>
<path d="M55.2,57.1 L59.1,57.6 L62.8,56.8 L66.6,57.6 L70.3,58.4" vector-effect="non-scaling-stroke"/>
<path d="M55.8,55.4 L59.2,54.5 L62.7,53.6 L66.1,52.8 L69.7,53.1" vector-effect="non-scaling-stroke"/>
<path d="M45.5,39.8 L40.8,38.8 L38.3,35.5 L39.8,31.8 L39.1,28.0" vector-effect="non-scaling-stroke"/>
<path d="M55.6,68.1 L55.1,65.9 L54.2,63.7 L51.6,62.8 L48.8,63.0" vector-effect="non-scaling-stroke"/>
<path d="M9.9,49.2 L7.7,45.8 L7.5,42.0 L8.8,38.4 L6.7,34.9" vector-effect="non-scaling-stroke"/>
<path d="M86.0,69.8 L87.9,73.4 L89.9,76.9 L87.3,80.2 L82.7,81.6" vector-effect="non-scaling-stroke"/>
<path d="M18.2,32.8 L15.3,34.1 L13.1,36.1 L10.1,37.3 L9.5,39.9" vector-effect="non-scaling-stroke"/>
<path d="M55.1,33.4 L58.2,34.3 L61.3,35.3 L64.2,34.1 L67.2,35.3" vector-effect="non-scaling-stroke"/>
<path d="M77.1,70.0 L80.2,69.4 L83.2,70.1 L86.3,69.7 L88.3,67.7" vector-effect="non-scaling-stroke"/>
<path d="M42.7,65.9 L41.9,63.5 L43.6,61.3 L45.6,59.4 L48.4,58.3" vector-effect="non-scaling-stroke"/>
<path d="M11.4,7.0 L8.0,6.1 L6.8,3.4 L6.4,0.6 L8.1,-1.9" vector-effect="non-scaling-stroke"/>
<path d="M10.9,62.1 L15.3,63.3 L19.9,63.3 L24.6,63.7 L27.2,66.8" vector-effect="non-scaling-stroke"/>
<path d="M28.2,11.9 L25.6,13.3 L24.8,15.7 L26.6,17.7 L29.5,18.6" vector-effect="non-scaling-stroke"/>
<path d="M32.3,24.0 L32.5,21.5 L30.7,19.3 L28.2,17.7 L25.1,18.4" vector-effect="non-scaling-stroke"/>
<path d="M26.5,4.1 L24.0,1.7 L21.2,-0.5 L21.6,-3.6 L19.1,-5.9" vector-effect="non-scaling-stroke"/>
<path d="M80.0,32.8 L75.5,33.7 L71.1,34.6 L66.5,34.0 L64.5,30.7" vector-effect="non-scaling-stroke"/>
<path d="M35.2,60.4 L33.4,57.5 L30.5,55.1 L26.5,55.4 L23.7,57.8" vector-effect="non-scaling-stroke"/>
<path d="M9.6,54.1 L11.7,55.7 L12.1,58.1 L10.3,59.9 L7.9,61.3" vector-effect="non-scaling-stroke"/>
<path d="M29.5,19.7 L31.0,22.4 L32.8,24.9 L35.9,26.5 L36.1,29.4" vector-effect="non-scaling-stroke"/>
<path d="M94.4,40.7 L96.4,44.3 L99.6,47.3 L104.5,46.8 L109.0,45.4" vector-effect="non-scaling-stroke"/>
<path d="M47.6,37.7 L51.2,38.5 L54.9,37.9 L56.9,35.3 L58.2,32.5" vector-effect="non-scaling-stroke"/>
<path d="M6.9,4.6 L5.4,6.7 L3.7,8.8 L1.0,10.0 L-2.0,10.4" vector-effect="non-scaling-stroke"/>
<path d="M70.3,63.7 L67.1,62.9 L64.1,64.0 L60.8,64.0 L57.6,63.2" vector-effect="non-scaling-stroke"/>
<path d="M7.1,60.6 L11.1,60.0 L14.8,61.3 L18.7,60.3 L22.6,59.4" vector-effect="non-scaling-stroke"/>
<path d="M50.4,60.6 L52.6,57.4 L57.0,56.4 L61.6,56.8 L65.6,58.5" vector-effect="non-scaling-stroke"/>
<path d="M24.6,5.2 L28.0,5.3 L30.6,7.1 L32.9,9.1 L34.4,11.5" vector-effect="non-scaling-stroke"/>
<path d="M61.9,50.0 L59.7,49.0 L58.4,47.2 L57.1,45.5 L56.0,43.7" vector-effect="non-scaling-stroke"/>
</g>
<path d="M86,30 L100,32 L100,62 L90,62 C88,52 86,42 86,30 Z" fill="#8B1A96"/>
</g>
<use href="#latS" fill="none" stroke="#555" stroke-width="0.6" vector-effect="non-scaling-stroke"/>
</g>
<g transform="translate(535.10 63.00) scale(0.4050 0.4227)">
<use href="#medS" fill="url(#bg1)"/>
<g clip-path="url(#medC)">
<g fill="none" stroke="#C6C6C6" stroke-width="1.3" stroke-linecap="round" vector-effect="non-scaling-stroke">
<path d="M89.9,68.5 L91.4,67.9 L92.7,67.1 L94.1,66.4 L94.2,65.1" vector-effect="non-scaling-stroke"/>
<path d="M21.0,33.7 L23.2,33.9 L24.5,32.5 L26.5,31.9 L28.4,30.9" vector-effect="non-scaling-stroke"/>
<path d="M51.2,53.7 L49.6,53.8 L48.0,53.7 L46.6,53.1 L45.5,52.2" vector-effect="non-scaling-stroke"/>
<path d="M94.2,28.0 L94.8,26.4 L96.0,25.1 L96.4,23.5 L94.8,22.5" vector-effect="non-scaling-stroke"/>
<path d="M47.6,52.5 L46.3,51.1 L44.1,50.9 L42.5,52.1 L41.7,53.7" vector-effect="non-scaling-stroke"/>
<path d="M79.7,16.5 L81.2,15.9 L82.0,14.7 L83.0,13.7 L84.7,13.7" vector-effect="non-scaling-stroke"/>
<path d="M34.1,28.5 L32.5,29.4 L30.8,30.1 L29.9,31.5 L30.9,32.9" vector-effect="non-scaling-stroke"/>
<path d="M76.7,51.8 L77.7,50.6 L79.6,50.8 L81.3,51.3 L81.4,52.8" vector-effect="non-scaling-stroke"/>
<path d="M18.7,70.3 L20.1,69.0 L22.2,68.8 L24.1,69.5 L24.0,71.2" vector-effect="non-scaling-stroke"/>
<path d="M78.7,68.5 L76.8,66.6 L74.2,65.5 L74.6,63.1 L74.1,60.8" vector-effect="non-scaling-stroke"/>
<path d="M21.2,8.2 L20.1,7.1 L21.0,5.8 L20.6,4.4 L18.9,4.0" vector-effect="non-scaling-stroke"/>
<path d="M52.7,14.7 L50.2,15.5 L47.9,16.7 L45.5,15.7 L42.9,15.0" vector-effect="non-scaling-stroke"/>
<path d="M35.2,64.6 L37.4,63.1 L39.2,61.3 L41.8,60.4 L44.3,61.4" vector-effect="non-scaling-stroke"/>
<path d="M63.1,19.5 L61.3,20.4 L59.4,21.1 L57.4,21.6 L55.6,20.7" vector-effect="non-scaling-stroke"/>
<path d="M13.2,46.6 L10.9,46.9 L9.3,48.3 L7.1,47.7 L5.4,48.9" vector-effect="non-scaling-stroke"/>
<path d="M55.8,40.4 L56.2,42.2 L56.9,44.0 L56.3,45.8 L58.3,46.8" vector-effect="non-scaling-stroke"/>
<path d="M38.5,57.2 L41.2,57.5 L43.6,58.7 L46.3,58.2 L48.9,57.3" vector-effect="non-scaling-stroke"/>
<path d="M42.7,8.6 L43.1,6.9 L43.7,5.2 L44.6,3.6 L45.7,2.0" vector-effect="non-scaling-stroke"/>
<path d="M31.0,65.0 L31.2,67.3 L31.5,69.5 L29.8,71.3 L27.3,72.4" vector-effect="non-scaling-stroke"/>
<path d="M59.9,23.1 L60.0,24.7 L58.2,25.4 L56.9,26.7 L56.1,28.2" vector-effect="non-scaling-stroke"/>
<path d="M42.4,59.3 L40.8,60.6 L40.3,62.5 L42.0,63.7 L44.4,63.7" vector-effect="non-scaling-stroke"/>
<path d="M27.8,61.8 L26.1,61.9 L25.3,63.1 L24.3,64.1 L23.5,65.3" vector-effect="non-scaling-stroke"/>
</g>
<g fill="none" stroke="#444444" stroke-width="0.75" stroke-linejoin="round" vector-effect="non-scaling-stroke">
<path d="M20,20 C35,14 55,13 75,18 C84,21 90,26 94,32" vector-effect="non-scaling-stroke"/>
<path d="M14,34 C24,26 40,22 56,22" vector-effect="non-scaling-stroke"/>
<path d="M45.5,41.6 L48.8,40.3 L52.3,39.5 L54.6,37.2 L56.9,34.9" vector-effect="non-scaling-stroke"/>
<path d="M62.2,57.7 L65.4,57.1 L68.4,58.1 L70.7,60.0 L73.9,59.6" vector-effect="non-scaling-stroke"/>
<path d="M95.3,69.6 L91.4,68.7 L88.3,70.7 L85.1,72.6 L84.8,75.9" vector-effect="non-scaling-stroke"/>
<path d="M20.9,19.7 L24.5,19.9 L27.2,21.9 L29.8,24.0 L31.5,26.6" vector-effect="non-scaling-stroke"/>
<path d="M50.0,48.7 L47.6,47.0 L48.1,44.5 L50.4,42.8 L53.4,41.9" vector-effect="non-scaling-stroke"/>
<path d="M32.6,18.8 L30.8,20.4 L29.3,22.2 L26.7,22.8 L24.4,23.9" vector-effect="non-scaling-stroke"/>
<path d="M93.1,61.5 L95.1,63.2 L97.3,64.9 L96.8,67.3 L97.0,69.7" vector-effect="non-scaling-stroke"/>
<path d="M9.9,46.4 L8.0,44.4 L5.3,43.0 L5.1,40.5 L6.6,38.2" vector-effect="non-scaling-stroke"/>
<path d="M14.1,20.0 L15.0,22.0 L17.2,23.2 L19.2,24.5 L21.4,25.7" vector-effect="non-scaling-stroke"/>
<path d="M20.9,53.5 L25.0,53.7 L29.1,53.3 L32.3,51.3 L34.0,48.3" vector-effect="non-scaling-stroke"/>
<path d="M94.3,58.4 L95.4,62.1 L97.4,65.5 L96.2,69.1 L93.8,72.4" vector-effect="non-scaling-stroke"/>
<path d="M12.4,71.3 L11.5,73.7 L11.5,76.2 L12.9,78.5 L15.9,79.2" vector-effect="non-scaling-stroke"/>
<path d="M11.5,43.2 L12.7,46.3 L14.2,49.2 L12.2,52.0 L10.3,54.8" vector-effect="non-scaling-stroke"/>
<path d="M57.0,62.8 L55.9,64.9 L53.4,66.1 L52.0,68.1 L52.2,70.4" vector-effect="non-scaling-stroke"/>
<path d="M72.5,67.9 L70.5,71.4 L67.6,74.6 L65.3,78.0 L66.8,81.7" vector-effect="non-scaling-stroke"/>
<path d="M6.6,69.4 L8.9,72.3 L8.5,75.7 L7.3,79.0 L7.9,82.4" vector-effect="non-scaling-stroke"/>
<path d="M19.5,52.7 L22.1,54.0 L23.1,56.3 L23.3,58.8 L24.9,60.9" vector-effect="non-scaling-stroke"/>
<path d="M89.2,17.1 L92.4,17.1 L94.4,15.1 L94.5,12.6 L93.8,10.1" vector-effect="non-scaling-stroke"/>
<path d="M56.8,12.1 L52.1,11.7 L47.7,10.2 L44.4,7.5 L41.7,4.4" vector-effect="non-scaling-stroke"/>
<path d="M16.2,5.4 L20.4,7.3 L21.0,11.1 L25.2,12.9 L28.7,15.5" vector-effect="non-scaling-stroke"/>
<path d="M48.3,53.4 L50.4,57.1 L51.9,60.9 L51.2,64.8 L47.1,67.1" vector-effect="non-scaling-stroke"/>
<path d="M72.3,51.6 L72.2,47.7 L73.8,44.1 L78.2,42.5 L82.7,43.7" vector-effect="non-scaling-stroke"/>
<path d="M42.2,57.5 L45.4,55.8 L48.1,53.4 L51.1,51.4 L54.6,50.0" vector-effect="non-scaling-stroke"/>
<path d="M10.5,47.1 L14.8,48.6 L19.5,49.3 L23.2,51.7 L26.4,54.4" vector-effect="non-scaling-stroke"/>
<path d="M44.4,60.8 L48.4,59.4 L52.7,58.7 L56.9,57.8 L60.0,55.4" vector-effect="non-scaling-stroke"/>
<path d="M68.6,37.3 L64.0,36.4 L60.4,39.0 L58.5,42.5 L55.1,45.3" vector-effect="non-scaling-stroke"/>
<path d="M22.0,14.7 L25.2,12.5 L29.3,12.8 L33.3,11.9 L37.5,12.1" vector-effect="non-scaling-stroke"/>
<path d="M21.7,32.7 L26.0,31.0 L29.6,28.6 L33.8,26.7 L36.8,23.7" vector-effect="non-scaling-stroke"/>
<path d="M15.8,37.3 L19.6,35.2 L24.0,36.3 L28.6,35.7 L31.8,33.0" vector-effect="non-scaling-stroke"/>
<path d="M45.4,22.0 L45.3,24.8 L45.2,27.6 L46.5,30.3 L45.3,33.0" vector-effect="non-scaling-stroke"/>
<path d="M95.3,34.2 L96.2,36.2 L98.7,36.8 L100.6,38.1 L102.3,39.7" vector-effect="non-scaling-stroke"/>
<path d="M32.0,57.6 L34.9,57.7 L36.6,55.9 L39.3,55.3 L41.4,53.7" vector-effect="non-scaling-stroke"/>
<path d="M16.2,6.2 L14.5,3.7 L13.8,0.9 L15.3,-1.8 L18.8,-2.4" vector-effect="non-scaling-stroke"/>
<path d="M67.3,16.8 L66.1,18.9 L65.0,21.1 L62.9,22.7 L62.4,25.0" vector-effect="non-scaling-stroke"/>
<path d="M28.6,26.9 L28.2,23.8 L29.7,21.0 L30.5,18.1 L33.2,15.9" vector-effect="non-scaling-stroke"/>
<path d="M88.2,9.0 L89.9,5.9 L91.2,2.6 L93.5,-0.3 L97.8,-1.0" vector-effect="non-scaling-stroke"/>
<path d="M38.4,42.2 L42.9,42.7 L47.4,42.9 L51.6,44.2 L55.9,43.4" vector-effect="non-scaling-stroke"/>
<path d="M70.9,59.5 L66.8,58.4 L64.9,55.3 L67.0,52.3 L71.2,51.9" vector-effect="non-scaling-stroke"/>
<path d="M53.5,57.6 L49.1,59.1 L45.5,61.6 L45.4,65.4 L45.9,69.2" vector-effect="non-scaling-stroke"/>
<path d="M54.7,56.0 L52.5,55.0 L50.1,55.6 L47.6,55.1 L45.2,55.9" vector-effect="non-scaling-stroke"/>
<path d="M34.5,57.4 L36.2,59.2 L36.8,61.4 L35.5,63.5 L33.4,65.0" vector-effect="non-scaling-stroke"/>
<path d="M91.9,37.0 L93.6,35.3 L95.5,33.7 L96.4,31.7 L98.3,30.1" vector-effect="non-scaling-stroke"/>
<path d="M63.1,39.1 L63.9,36.0 L63.8,32.9 L66.2,30.4 L70.1,30.1" vector-effect="non-scaling-stroke"/>
<path d="M22.6,61.7 L26.4,61.5 L29.4,59.7 L32.6,58.0 L35.8,56.4" vector-effect="non-scaling-stroke"/>
</g>
<path d="M0,24 L26,26 L30,40 L28,62 L4,60 Z" fill="#FF2020"/>
<path d="M30,32 C40,30 55,30 66,31 L70,36 L74,40 L72,48 L76,52 L70,58 L68,66 C62,70 56,73 50,72 C44,68 38,62 34,56 C30,50 29,40 30,32 Z" fill="#222"/>
</g>
<use href="#medS" fill="none" stroke="#555" stroke-width="0.6" vector-effect="non-scaling-stroke"/>
</g>
<g transform="translate(575.70 88.60) scale(0.4070 0.4373)">
<use href="#latS" fill="url(#bg1)"/>
<g clip-path="url(#latC)">
<g fill="none" stroke="#C6C6C6" stroke-width="1.3" stroke-linecap="round" vector-effect="non-scaling-stroke">
<path d="M18.5,50.6 L16.3,50.4 L14.9,49.0 L15.1,47.3 L15.4,45.5" vector-effect="non-scaling-stroke"/>
<path d="M50.5,19.3 L52.5,19.7 L53.8,18.4 L55.8,18.2 L57.2,17.0" vector-effect="non-scaling-stroke"/>
<path d="M24.9,5.9 L26.4,7.6 L27.2,9.6 L29.8,9.7 L32.2,8.9" vector-effect="non-scaling-stroke"/>
<path d="M49.8,11.0 L50.5,9.5 L52.4,8.9 L52.9,7.3 L54.9,6.9" vector-effect="non-scaling-stroke"/>
<path d="M45.6,41.1 L46.1,42.8 L48.3,43.1 L49.3,44.6 L51.4,45.3" vector-effect="non-scaling-stroke"/>
<path d="M76.3,17.4 L78.9,18.4 L80.0,20.5 L80.6,22.7 L79.6,24.8" vector-effect="non-scaling-stroke"/>
<path d="M14.5,35.9 L16.3,35.9 L17.3,37.1 L18.5,38.1 L20.2,38.7" vector-effect="non-scaling-stroke"/>
<path d="M45.4,29.6 L46.1,28.0 L44.6,26.8 L44.3,25.2 L46.1,24.4" vector-effect="non-scaling-stroke"/>
<path d="M49.6,36.9 L47.2,37.7 L44.6,38.0 L42.0,38.0 L39.5,37.2" vector-effect="non-scaling-stroke"/>
<path d="M20.0,14.7 L19.4,17.0 L18.0,19.1 L18.1,21.4 L20.7,22.5" vector-effect="non-scaling-stroke"/>
<path d="M9.2,59.1 L10.4,57.8 L12.3,57.1 L14.0,58.0 L13.6,59.6" vector-effect="non-scaling-stroke"/>
<path d="M41.3,71.2 L43.0,72.6 L44.8,73.8 L47.0,74.6 L49.3,74.1" vector-effect="non-scaling-stroke"/>
<path d="M85.4,14.2 L86.5,16.2 L87.7,18.1 L86.6,20.1 L88.5,21.7" vector-effect="non-scaling-stroke"/>
<path d="M27.2,23.0 L27.3,24.4 L28.1,25.7 L27.2,26.8 L25.5,26.5" vector-effect="non-scaling-stroke"/>
<path d="M73.1,36.0 L72.9,38.4 L71.0,40.2 L72.6,42.2 L75.4,42.9" vector-effect="non-scaling-stroke"/>
<path d="M81.8,57.9 L83.2,56.3 L85.0,55.0 L87.4,55.4 L89.7,54.8" vector-effect="non-scaling-stroke"/>
<path d="M53.2,22.0 L54.1,21.0 L55.6,21.3 L56.3,20.2 L57.4,19.4" vector-effect="non-scaling-stroke"/>
<path d="M63.5,61.8 L61.7,61.3 L61.5,59.8 L63.1,59.0 L63.1,57.5" vector-effect="non-scaling-stroke"/>
<path d="M11.9,9.5 L13.5,8.3 L15.6,8.6 L17.4,9.5 L19.4,8.9" vector-effect="non-scaling-stroke"/>
<path d="M53.6,25.4 L52.5,26.5 L52.8,28.0 L53.6,29.3 L53.5,30.7" vector-effect="non-scaling-stroke"/>
<path d="M54.7,6.2 L56.0,4.2 L58.6,3.4 L58.5,1.2 L58.0,-1.1" vector-effect="non-scaling-stroke"/>
<path d="M9.0,55.7 L11.3,56.6 L12.7,58.3 L15.0,59.3 L16.9,57.9" vector-effect="non-scaling-stroke"/>
<path d="M39.6,24.3 L41.1,23.5 L42.9,22.7 L44.4,23.7 L46.2,23.1" vector-effect="non-scaling-stroke"/>
<path d="M59.5,38.1 L57.9,36.1 L57.7,33.8 L57.6,31.4 L58.1,29.1" vector-effect="non-scaling-stroke"/>
<path d="M9.0,59.2 L10.6,58.3 L12.2,59.3 L14.2,58.7 L14.4,57.1" vector-effect="non-scaling-stroke"/>
<path d="M9.9,59.2 L10.7,57.6 L9.0,56.5 L8.0,54.9 L6.7,53.5" vector-effect="non-scaling-stroke"/>
<path d="M51.6,29.9 L52.0,31.3 L52.7,32.7 L54.3,33.4 L55.3,34.7" vector-effect="non-scaling-stroke"/>
<path d="M79.8,52.9 L78.3,53.7 L76.7,54.6 L75.0,55.0 L73.9,53.8" vector-effect="non-scaling-stroke"/>
<path d="M11.0,36.1 L9.6,34.4 L9.9,32.4 L11.0,30.5 L13.3,29.6" vector-effect="non-scaling-stroke"/>
<path d="M65.8,62.3 L63.7,61.1 L63.9,59.1 L63.5,57.2 L63.7,55.1" vector-effect="non-scaling-stroke"/>
</g>
<g fill="none" stroke="#444444" stroke-width="0.75" stroke-linejoin="round" vector-effect="non-scaling-stroke">
<path d="M30,58 C40,48 52,43 68,41" vector-effect="non-scaling-stroke"/>
<path d="M37,66 C48,59 62,55 80,53" vector-effect="non-scaling-stroke"/>
<path d="M56,2 C53,12 50,23 47,38" vector-effect="non-scaling-stroke"/>
<path d="M33.4,13.4 L32.0,11.6 L30.1,10.1 L27.4,10.4 L24.8,10.7" vector-effect="non-scaling-stroke"/>
<path d="M6.5,32.9 L9.1,33.5 L10.7,35.3 L13.4,35.7 L16.0,34.9" vector-effect="non-scaling-stroke"/>
<path d="M62.0,68.4 L61.5,65.6 L58.5,64.2 L57.4,61.6 L55.0,59.5" vector-effect="non-scaling-stroke"/>
<path d="M16.6,11.1 L17.8,14.6 L18.3,18.2 L17.5,21.8 L17.9,25.4" vector-effect="non-scaling-stroke"/>
<path d="M54.5,7.3 L56.7,9.0 L59.2,10.3 L62.2,10.8 L65.0,11.7" vector-effect="non-scaling-stroke"/>
<path d="M45.6,23.7 L44.6,20.4 L44.3,17.0 L44.1,13.6 L46.9,11.0" vector-effect="non-scaling-stroke"/>
<path d="M71.6,22.9 L74.2,22.2 L77.0,22.7 L79.5,21.7 L81.9,20.7" vector-effect="non-scaling-stroke"/>
<path d="M6.7,49.1 L9.6,47.0 L11.4,44.2 L14.4,42.2 L17.8,40.6" vector-effect="non-scaling-stroke"/>
<path d="M57.5,34.5 L59.9,31.1 L63.5,28.5 L63.3,24.6 L65.1,21.0" vector-effect="non-scaling-stroke"/>
<path d="M63.8,71.5 L64.5,69.0 L66.3,66.8 L65.0,64.5 L63.6,62.2" vector-effect="non-scaling-stroke"/>
<path d="M18.8,11.1 L22.9,9.8 L25.7,7.1 L27.8,3.9 L31.9,2.7" vector-effect="non-scaling-stroke"/>
<path d="M10.6,34.0 L7.8,30.9 L8.3,27.2 L6.8,23.6 L4.5,20.3" vector-effect="non-scaling-stroke"/>
<path d="M36.7,64.0 L38.5,62.2 L38.8,59.9 L37.7,57.8 L36.5,55.7" vector-effect="non-scaling-stroke"/>
<path d="M58.4,21.1 L61.8,20.5 L65.4,20.2 L67.8,22.2 L69.2,24.8" vector-effect="non-scaling-stroke"/>
<path d="M51.5,45.6 L52.3,43.6 L54.4,42.3 L57.0,42.5 L59.1,43.8" vector-effect="non-scaling-stroke"/>
<path d="M39.9,30.5 L43.9,29.8 L45.8,26.9 L45.3,23.7 L42.5,21.3" vector-effect="non-scaling-stroke"/>
<path d="M35.0,6.6 L37.0,5.0 L38.4,3.0 L37.1,0.9 L38.0,-1.3" vector-effect="non-scaling-stroke"/>
<path d="M60.7,13.2 L61.6,15.9 L64.4,17.3 L65.5,19.8 L63.4,22.0" vector-effect="non-scaling-stroke"/>
<path d="M46.8,36.4 L49.5,36.9 L52.2,36.3 L54.7,37.2 L57.3,36.6" vector-effect="non-scaling-stroke"/>
<path d="M5.2,68.6 L2.4,68.0 L0.2,69.5 L-2.1,70.8 L-4.9,70.1" vector-effect="non-scaling-stroke"/>
<path d="M84.2,51.0 L86.1,53.3 L86.2,56.0 L86.2,58.8 L84.4,61.1" vector-effect="non-scaling-stroke"/>
<path d="M34.0,18.4 L38.4,16.6 L43.3,17.1 L46.9,19.8 L48.4,23.6" vector-effect="non-scaling-stroke"/>
<path d="M24.3,38.7 L25.0,40.7 L26.7,42.2 L29.1,43.0 L31.0,44.4" vector-effect="non-scaling-stroke"/>
<path d="M92.9,33.9 L97.2,35.8 L102.1,36.8 L106.8,35.5 L110.0,32.5" vector-effect="non-scaling-stroke"/>
<path d="M21.5,17.1 L21.0,13.3 L20.3,9.6 L21.0,5.8 L24.2,3.0" vector-effect="non-scaling-stroke"/>
<path d="M11.0,48.6 L15.4,48.3 L19.8,47.9 L23.1,45.5 L27.5,44.9" vector-effect="non-scaling-stroke"/>
<path d="M34.3,58.3 L37.5,57.2 L40.5,58.6 L42.5,60.9 L45.8,61.8" vector-effect="non-scaling-stroke"/>
<path d="M14.9,13.4 L16.1,9.9 L19.7,7.7 L24.0,8.8 L27.7,11.0" vector-effect="non-scaling-stroke"/>
<path d="M35.9,40.9 L35.4,42.8 L34.2,44.6 L32.9,46.4 L30.4,46.7" vector-effect="non-scaling-stroke"/>
<path d="M43.8,63.2 L43.7,60.7 L42.5,58.5 L40.0,57.1 L37.9,55.4" vector-effect="non-scaling-stroke"/>
<path d="M27.4,31.9 L31.5,33.8 L35.8,35.5 L39.7,37.7 L40.4,41.5" vector-effect="non-scaling-stroke"/>
<path d="M42.5,66.3 L38.7,66.1 L36.4,68.6 L34.4,71.2 L34.7,74.2" vector-effect="non-scaling-stroke"/>
<path d="M3.4,58.1 L3.5,61.1 L3.2,64.0 L4.2,66.9 L5.1,69.7" vector-effect="non-scaling-stroke"/>
<path d="M55.2,57.1 L59.1,57.6 L62.8,56.8 L66.6,57.6 L70.3,58.4" vector-effect="non-scaling-stroke"/>
<path d="M55.8,55.4 L59.2,54.5 L62.7,53.6 L66.1,52.8 L69.7,53.1" vector-effect="non-scaling-stroke"/>
<path d="M45.5,39.8 L40.8,38.8 L38.3,35.5 L39.8,31.8 L39.1,28.0" vector-effect="non-scaling-stroke"/>
<path d="M55.6,68.1 L55.1,65.9 L54.2,63.7 L51.6,62.8 L48.8,63.0" vector-effect="non-scaling-stroke"/>
<path d="M9.9,49.2 L7.7,45.8 L7.5,42.0 L8.8,38.4 L6.7,34.9" vector-effect="non-scaling-stroke"/>
<path d="M86.0,69.8 L87.9,73.4 L89.9,76.9 L87.3,80.2 L82.7,81.6" vector-effect="non-scaling-stroke"/>
<path d="M18.2,32.8 L15.3,34.1 L13.1,36.1 L10.1,37.3 L9.5,39.9" vector-effect="non-scaling-stroke"/>
<path d="M55.1,33.4 L58.2,34.3 L61.3,35.3 L64.2,34.1 L67.2,35.3" vector-effect="non-scaling-stroke"/>
<path d="M77.1,70.0 L80.2,69.4 L83.2,70.1 L86.3,69.7 L88.3,67.7" vector-effect="non-scaling-stroke"/>
<path d="M42.7,65.9 L41.9,63.5 L43.6,61.3 L45.6,59.4 L48.4,58.3" vector-effect="non-scaling-stroke"/>
<path d="M11.4,7.0 L8.0,6.1 L6.8,3.4 L6.4,0.6 L8.1,-1.9" vector-effect="non-scaling-stroke"/>
<path d="M10.9,62.1 L15.3,63.3 L19.9,63.3 L24.6,63.7 L27.2,66.8" vector-effect="non-scaling-stroke"/>
<path d="M28.2,11.9 L25.6,13.3 L24.8,15.7 L26.6,17.7 L29.5,18.6" vector-effect="non-scaling-stroke"/>
<path d="M32.3,24.0 L32.5,21.5 L30.7,19.3 L28.2,17.7 L25.1,18.4" vector-effect="non-scaling-stroke"/>
<path d="M26.5,4.1 L24.0,1.7 L21.2,-0.5 L21.6,-3.6 L19.1,-5.9" vector-effect="non-scaling-stroke"/>
<path d="M80.0,32.8 L75.5,33.7 L71.1,34.6 L66.5,34.0 L64.5,30.7" vector-effect="non-scaling-stroke"/>
<path d="M35.2,60.4 L33.4,57.5 L30.5,55.1 L26.5,55.4 L23.7,57.8" vector-effect="non-scaling-stroke"/>
<path d="M9.6,54.1 L11.7,55.7 L12.1,58.1 L10.3,59.9 L7.9,61.3" vector-effect="non-scaling-stroke"/>
<path d="M29.5,19.7 L31.0,22.4 L32.8,24.9 L35.9,26.5 L36.1,29.4" vector-effect="non-scaling-stroke"/>
<path d="M94.4,40.7 L96.4,44.3 L99.6,47.3 L104.5,46.8 L109.0,45.4" vector-effect="non-scaling-stroke"/>
<path d="M47.6,37.7 L51.2,38.5 L54.9,37.9 L56.9,35.3 L58.2,32.5" vector-effect="non-scaling-stroke"/>
<path d="M6.9,4.6 L5.4,6.7 L3.7,8.8 L1.0,10.0 L-2.0,10.4" vector-effect="non-scaling-stroke"/>
<path d="M70.3,63.7 L67.1,62.9 L64.1,64.0 L60.8,64.0 L57.6,63.2" vector-effect="non-scaling-stroke"/>
<path d="M7.1,60.6 L11.1,60.0 L14.8,61.3 L18.7,60.3 L22.6,59.4" vector-effect="non-scaling-stroke"/>
<path d="M50.4,60.6 L52.6,57.4 L57.0,56.4 L61.6,56.8 L65.6,58.5" vector-effect="non-scaling-stroke"/>
<path d="M24.6,5.2 L28.0,5.3 L30.6,7.1 L32.9,9.1 L34.4,11.5" vector-effect="non-scaling-stroke"/>
<path d="M61.9,50.0 L59.7,49.0 L58.4,47.2 L57.1,45.5 L56.0,43.7" vector-effect="non-scaling-stroke"/>
</g>
<path d="M70,8.7 L80,11.2 L90,23.5 L95,33 L93.4,45.3 L88.5,56 L78.4,63.8 L75,60.8 L81.8,51.4 L83.3,40.7 L86.7,29.7 L76.7,17.4 L70,12.6 Z" fill="#2EA048"/>
</g>
<use href="#latS" fill="none" stroke="#555" stroke-width="0.6" vector-effect="non-scaling-stroke"/>
</g>
<g transform="translate(601.40 123.60) scale(0.4150 0.4373)">
<use href="#latS" fill="url(#bg1)"/>
<g clip-path="url(#latC)">
<g fill="none" stroke="#C6C6C6" stroke-width="1.3" stroke-linecap="round" vector-effect="non-scaling-stroke">
<path d="M18.5,50.6 L16.3,50.4 L14.9,49.0 L15.1,47.3 L15.4,45.5" vector-effect="non-scaling-stroke"/>
<path d="M50.5,19.3 L52.5,19.7 L53.8,18.4 L55.8,18.2 L57.2,17.0" vector-effect="non-scaling-stroke"/>
<path d="M24.9,5.9 L26.4,7.6 L27.2,9.6 L29.8,9.7 L32.2,8.9" vector-effect="non-scaling-stroke"/>
<path d="M49.8,11.0 L50.5,9.5 L52.4,8.9 L52.9,7.3 L54.9,6.9" vector-effect="non-scaling-stroke"/>
<path d="M45.6,41.1 L46.1,42.8 L48.3,43.1 L49.3,44.6 L51.4,45.3" vector-effect="non-scaling-stroke"/>
<path d="M76.3,17.4 L78.9,18.4 L80.0,20.5 L80.6,22.7 L79.6,24.8" vector-effect="non-scaling-stroke"/>
<path d="M14.5,35.9 L16.3,35.9 L17.3,37.1 L18.5,38.1 L20.2,38.7" vector-effect="non-scaling-stroke"/>
<path d="M45.4,29.6 L46.1,28.0 L44.6,26.8 L44.3,25.2 L46.1,24.4" vector-effect="non-scaling-stroke"/>
<path d="M49.6,36.9 L47.2,37.7 L44.6,38.0 L42.0,38.0 L39.5,37.2" vector-effect="non-scaling-stroke"/>
<path d="M20.0,14.7 L19.4,17.0 L18.0,19.1 L18.1,21.4 L20.7,22.5" vector-effect="non-scaling-stroke"/>
<path d="M9.2,59.1 L10.4,57.8 L12.3,57.1 L14.0,58.0 L13.6,59.6" vector-effect="non-scaling-stroke"/>
<path d="M41.3,71.2 L43.0,72.6 L44.8,73.8 L47.0,74.6 L49.3,74.1" vector-effect="non-scaling-stroke"/>
<path d="M85.4,14.2 L86.5,16.2 L87.7,18.1 L86.6,20.1 L88.5,21.7" vector-effect="non-scaling-stroke"/>
<path d="M27.2,23.0 L27.3,24.4 L28.1,25.7 L27.2,26.8 L25.5,26.5" vector-effect="non-scaling-stroke"/>
<path d="M73.1,36.0 L72.9,38.4 L71.0,40.2 L72.6,42.2 L75.4,42.9" vector-effect="non-scaling-stroke"/>
<path d="M81.8,57.9 L83.2,56.3 L85.0,55.0 L87.4,55.4 L89.7,54.8" vector-effect="non-scaling-stroke"/>
<path d="M53.2,22.0 L54.1,21.0 L55.6,21.3 L56.3,20.2 L57.4,19.4" vector-effect="non-scaling-stroke"/>
<path d="M63.5,61.8 L61.7,61.3 L61.5,59.8 L63.1,59.0 L63.1,57.5" vector-effect="non-scaling-stroke"/>
<path d="M11.9,9.5 L13.5,8.3 L15.6,8.6 L17.4,9.5 L19.4,8.9" vector-effect="non-scaling-stroke"/>
<path d="M53.6,25.4 L52.5,26.5 L52.8,28.0 L53.6,29.3 L53.5,30.7" vector-effect="non-scaling-stroke"/>
<path d="M54.7,6.2 L56.0,4.2 L58.6,3.4 L58.5,1.2 L58.0,-1.1" vector-effect="non-scaling-stroke"/>
<path d="M9.0,55.7 L11.3,56.6 L12.7,58.3 L15.0,59.3 L16.9,57.9" vector-effect="non-scaling-stroke"/>
<path d="M39.6,24.3 L41.1,23.5 L42.9,22.7 L44.4,23.7 L46.2,23.1" vector-effect="non-scaling-stroke"/>
<path d="M59.5,38.1 L57.9,36.1 L57.7,33.8 L57.6,31.4 L58.1,29.1" vector-effect="non-scaling-stroke"/>
<path d="M9.0,59.2 L10.6,58.3 L12.2,59.3 L14.2,58.7 L14.4,57.1" vector-effect="non-scaling-stroke"/>
<path d="M9.9,59.2 L10.7,57.6 L9.0,56.5 L8.0,54.9 L6.7,53.5" vector-effect="non-scaling-stroke"/>
<path d="M51.6,29.9 L52.0,31.3 L52.7,32.7 L54.3,33.4 L55.3,34.7" vector-effect="non-scaling-stroke"/>
<path d="M79.8,52.9 L78.3,53.7 L76.7,54.6 L75.0,55.0 L73.9,53.8" vector-effect="non-scaling-stroke"/>
<path d="M11.0,36.1 L9.6,34.4 L9.9,32.4 L11.0,30.5 L13.3,29.6" vector-effect="non-scaling-stroke"/>
<path d="M65.8,62.3 L63.7,61.1 L63.9,59.1 L63.5,57.2 L63.7,55.1" vector-effect="non-scaling-stroke"/>
</g>
<g fill="none" stroke="#444444" stroke-width="0.75" stroke-linejoin="round" vector-effect="non-scaling-stroke">
<path d="M30,58 C40,48 52,43 68,41" vector-effect="non-scaling-stroke"/>
<path d="M37,66 C48,59 62,55 80,53" vector-effect="non-scaling-stroke"/>
<path d="M56,2 C53,12 50,23 47,38" vector-effect="non-scaling-stroke"/>
<path d="M33.4,13.4 L32.0,11.6 L30.1,10.1 L27.4,10.4 L24.8,10.7" vector-effect="non-scaling-stroke"/>
<path d="M6.5,32.9 L9.1,33.5 L10.7,35.3 L13.4,35.7 L16.0,34.9" vector-effect="non-scaling-stroke"/>
<path d="M62.0,68.4 L61.5,65.6 L58.5,64.2 L57.4,61.6 L55.0,59.5" vector-effect="non-scaling-stroke"/>
<path d="M16.6,11.1 L17.8,14.6 L18.3,18.2 L17.5,21.8 L17.9,25.4" vector-effect="non-scaling-stroke"/>
<path d="M54.5,7.3 L56.7,9.0 L59.2,10.3 L62.2,10.8 L65.0,11.7" vector-effect="non-scaling-stroke"/>
<path d="M45.6,23.7 L44.6,20.4 L44.3,17.0 L44.1,13.6 L46.9,11.0" vector-effect="non-scaling-stroke"/>
<path d="M71.6,22.9 L74.2,22.2 L77.0,22.7 L79.5,21.7 L81.9,20.7" vector-effect="non-scaling-stroke"/>
<path d="M6.7,49.1 L9.6,47.0 L11.4,44.2 L14.4,42.2 L17.8,40.6" vector-effect="non-scaling-stroke"/>
<path d="M57.5,34.5 L59.9,31.1 L63.5,28.5 L63.3,24.6 L65.1,21.0" vector-effect="non-scaling-stroke"/>
<path d="M63.8,71.5 L64.5,69.0 L66.3,66.8 L65.0,64.5 L63.6,62.2" vector-effect="non-scaling-stroke"/>
<path d="M18.8,11.1 L22.9,9.8 L25.7,7.1 L27.8,3.9 L31.9,2.7" vector-effect="non-scaling-stroke"/>
<path d="M10.6,34.0 L7.8,30.9 L8.3,27.2 L6.8,23.6 L4.5,20.3" vector-effect="non-scaling-stroke"/>
<path d="M36.7,64.0 L38.5,62.2 L38.8,59.9 L37.7,57.8 L36.5,55.7" vector-effect="non-scaling-stroke"/>
<path d="M58.4,21.1 L61.8,20.5 L65.4,20.2 L67.8,22.2 L69.2,24.8" vector-effect="non-scaling-stroke"/>
<path d="M51.5,45.6 L52.3,43.6 L54.4,42.3 L57.0,42.5 L59.1,43.8" vector-effect="non-scaling-stroke"/>
<path d="M39.9,30.5 L43.9,29.8 L45.8,26.9 L45.3,23.7 L42.5,21.3" vector-effect="non-scaling-stroke"/>
<path d="M35.0,6.6 L37.0,5.0 L38.4,3.0 L37.1,0.9 L38.0,-1.3" vector-effect="non-scaling-stroke"/>
<path d="M60.7,13.2 L61.6,15.9 L64.4,17.3 L65.5,19.8 L63.4,22.0" vector-effect="non-scaling-stroke"/>
<path d="M46.8,36.4 L49.5,36.9 L52.2,36.3 L54.7,37.2 L57.3,36.6" vector-effect="non-scaling-stroke"/>
<path d="M5.2,68.6 L2.4,68.0 L0.2,69.5 L-2.1,70.8 L-4.9,70.1" vector-effect="non-scaling-stroke"/>
<path d="M84.2,51.0 L86.1,53.3 L86.2,56.0 L86.2,58.8 L84.4,61.1" vector-effect="non-scaling-stroke"/>
<path d="M34.0,18.4 L38.4,16.6 L43.3,17.1 L46.9,19.8 L48.4,23.6" vector-effect="non-scaling-stroke"/>
<path d="M24.3,38.7 L25.0,40.7 L26.7,42.2 L29.1,43.0 L31.0,44.4" vector-effect="non-scaling-stroke"/>
<path d="M92.9,33.9 L97.2,35.8 L102.1,36.8 L106.8,35.5 L110.0,32.5" vector-effect="non-scaling-stroke"/>
<path d="M21.5,17.1 L21.0,13.3 L20.3,9.6 L21.0,5.8 L24.2,3.0" vector-effect="non-scaling-stroke"/>
<path d="M11.0,48.6 L15.4,48.3 L19.8,47.9 L23.1,45.5 L27.5,44.9" vector-effect="non-scaling-stroke"/>
<path d="M34.3,58.3 L37.5,57.2 L40.5,58.6 L42.5,60.9 L45.8,61.8" vector-effect="non-scaling-stroke"/>
<path d="M14.9,13.4 L16.1,9.9 L19.7,7.7 L24.0,8.8 L27.7,11.0" vector-effect="non-scaling-stroke"/>
<path d="M35.9,40.9 L35.4,42.8 L34.2,44.6 L32.9,46.4 L30.4,46.7" vector-effect="non-scaling-stroke"/>
<path d="M43.8,63.2 L43.7,60.7 L42.5,58.5 L40.0,57.1 L37.9,55.4" vector-effect="non-scaling-stroke"/>
<path d="M27.4,31.9 L31.5,33.8 L35.8,35.5 L39.7,37.7 L40.4,41.5" vector-effect="non-scaling-stroke"/>
<path d="M42.5,66.3 L38.7,66.1 L36.4,68.6 L34.4,71.2 L34.7,74.2" vector-effect="non-scaling-stroke"/>
<path d="M3.4,58.1 L3.5,61.1 L3.2,64.0 L4.2,66.9 L5.1,69.7" vector-effect="non-scaling-stroke"/>
<path d="M55.2,57.1 L59.1,57.6 L62.8,56.8 L66.6,57.6 L70.3,58.4" vector-effect="non-scaling-stroke"/>
<path d="M55.8,55.4 L59.2,54.5 L62.7,53.6 L66.1,52.8 L69.7,53.1" vector-effect="non-scaling-stroke"/>
<path d="M45.5,39.8 L40.8,38.8 L38.3,35.5 L39.8,31.8 L39.1,28.0" vector-effect="non-scaling-stroke"/>
<path d="M55.6,68.1 L55.1,65.9 L54.2,63.7 L51.6,62.8 L48.8,63.0" vector-effect="non-scaling-stroke"/>
<path d="M9.9,49.2 L7.7,45.8 L7.5,42.0 L8.8,38.4 L6.7,34.9" vector-effect="non-scaling-stroke"/>
<path d="M86.0,69.8 L87.9,73.4 L89.9,76.9 L87.3,80.2 L82.7,81.6" vector-effect="non-scaling-stroke"/>
<path d="M18.2,32.8 L15.3,34.1 L13.1,36.1 L10.1,37.3 L9.5,39.9" vector-effect="non-scaling-stroke"/>
<path d="M55.1,33.4 L58.2,34.3 L61.3,35.3 L64.2,34.1 L67.2,35.3" vector-effect="non-scaling-stroke"/>
<path d="M77.1,70.0 L80.2,69.4 L83.2,70.1 L86.3,69.7 L88.3,67.7" vector-effect="non-scaling-stroke"/>
<path d="M42.7,65.9 L41.9,63.5 L43.6,61.3 L45.6,59.4 L48.4,58.3" vector-effect="non-scaling-stroke"/>
<path d="M11.4,7.0 L8.0,6.1 L6.8,3.4 L6.4,0.6 L8.1,-1.9" vector-effect="non-scaling-stroke"/>
<path d="M10.9,62.1 L15.3,63.3 L19.9,63.3 L24.6,63.7 L27.2,66.8" vector-effect="non-scaling-stroke"/>
<path d="M28.2,11.9 L25.6,13.3 L24.8,15.7 L26.6,17.7 L29.5,18.6" vector-effect="non-scaling-stroke"/>
<path d="M32.3,24.0 L32.5,21.5 L30.7,19.3 L28.2,17.7 L25.1,18.4" vector-effect="non-scaling-stroke"/>
<path d="M26.5,4.1 L24.0,1.7 L21.2,-0.5 L21.6,-3.6 L19.1,-5.9" vector-effect="non-scaling-stroke"/>
<path d="M80.0,32.8 L75.5,33.7 L71.1,34.6 L66.5,34.0 L64.5,30.7" vector-effect="non-scaling-stroke"/>
<path d="M35.2,60.4 L33.4,57.5 L30.5,55.1 L26.5,55.4 L23.7,57.8" vector-effect="non-scaling-stroke"/>
<path d="M9.6,54.1 L11.7,55.7 L12.1,58.1 L10.3,59.9 L7.9,61.3" vector-effect="non-scaling-stroke"/>
<path d="M29.5,19.7 L31.0,22.4 L32.8,24.9 L35.9,26.5 L36.1,29.4" vector-effect="non-scaling-stroke"/>
<path d="M94.4,40.7 L96.4,44.3 L99.6,47.3 L104.5,46.8 L109.0,45.4" vector-effect="non-scaling-stroke"/>
<path d="M47.6,37.7 L51.2,38.5 L54.9,37.9 L56.9,35.3 L58.2,32.5" vector-effect="non-scaling-stroke"/>
<path d="M6.9,4.6 L5.4,6.7 L3.7,8.8 L1.0,10.0 L-2.0,10.4" vector-effect="non-scaling-stroke"/>
<path d="M70.3,63.7 L67.1,62.9 L64.1,64.0 L60.8,64.0 L57.6,63.2" vector-effect="non-scaling-stroke"/>
<path d="M7.1,60.6 L11.1,60.0 L14.8,61.3 L18.7,60.3 L22.6,59.4" vector-effect="non-scaling-stroke"/>
<path d="M50.4,60.6 L52.6,57.4 L57.0,56.4 L61.6,56.8 L65.6,58.5" vector-effect="non-scaling-stroke"/>
<path d="M24.6,5.2 L28.0,5.3 L30.6,7.1 L32.9,9.1 L34.4,11.5" vector-effect="non-scaling-stroke"/>
<path d="M61.9,50.0 L59.7,49.0 L58.4,47.2 L57.1,45.5 L56.0,43.7" vector-effect="non-scaling-stroke"/>
</g>
<path d="M36,3 L45,3 L42,16 L38,28 L34,22 Z" fill="#1E7A30"/>
<path d="M58,5 L72,4 L66,16 L56,25 L54,18 Z" fill="#1E7A30"/>
<path d="M76.0,48.0 A3.5,6.0 0 1 1 83.0,48.0 A3.5,6.0 0 1 1 76.0,48.0 Z" fill="#1E7A30"/>
</g>
<use href="#latS" fill="none" stroke="#555" stroke-width="0.6" vector-effect="non-scaling-stroke"/>
</g>
<g transform="translate(616.80 160.20) scale(0.4020 0.4480)">
<use href="#medS" fill="url(#bg1)"/>
<g clip-path="url(#medC)">
<g fill="none" stroke="#C6C6C6" stroke-width="1.3" stroke-linecap="round" vector-effect="non-scaling-stroke">
<path d="M89.9,68.5 L91.4,67.9 L92.7,67.1 L94.1,66.4 L94.2,65.1" vector-effect="non-scaling-stroke"/>
<path d="M21.0,33.7 L23.2,33.9 L24.5,32.5 L26.5,31.9 L28.4,30.9" vector-effect="non-scaling-stroke"/>
<path d="M51.2,53.7 L49.6,53.8 L48.0,53.7 L46.6,53.1 L45.5,52.2" vector-effect="non-scaling-stroke"/>
<path d="M94.2,28.0 L94.8,26.4 L96.0,25.1 L96.4,23.5 L94.8,22.5" vector-effect="non-scaling-stroke"/>
<path d="M47.6,52.5 L46.3,51.1 L44.1,50.9 L42.5,52.1 L41.7,53.7" vector-effect="non-scaling-stroke"/>
<path d="M79.7,16.5 L81.2,15.9 L82.0,14.7 L83.0,13.7 L84.7,13.7" vector-effect="non-scaling-stroke"/>
<path d="M34.1,28.5 L32.5,29.4 L30.8,30.1 L29.9,31.5 L30.9,32.9" vector-effect="non-scaling-stroke"/>
<path d="M76.7,51.8 L77.7,50.6 L79.6,50.8 L81.3,51.3 L81.4,52.8" vector-effect="non-scaling-stroke"/>
<path d="M18.7,70.3 L20.1,69.0 L22.2,68.8 L24.1,69.5 L24.0,71.2" vector-effect="non-scaling-stroke"/>
<path d="M78.7,68.5 L76.8,66.6 L74.2,65.5 L74.6,63.1 L74.1,60.8" vector-effect="non-scaling-stroke"/>
<path d="M21.2,8.2 L20.1,7.1 L21.0,5.8 L20.6,4.4 L18.9,4.0" vector-effect="non-scaling-stroke"/>
<path d="M52.7,14.7 L50.2,15.5 L47.9,16.7 L45.5,15.7 L42.9,15.0" vector-effect="non-scaling-stroke"/>
<path d="M35.2,64.6 L37.4,63.1 L39.2,61.3 L41.8,60.4 L44.3,61.4" vector-effect="non-scaling-stroke"/>
<path d="M63.1,19.5 L61.3,20.4 L59.4,21.1 L57.4,21.6 L55.6,20.7" vector-effect="non-scaling-stroke"/>
<path d="M13.2,46.6 L10.9,46.9 L9.3,48.3 L7.1,47.7 L5.4,48.9" vector-effect="non-scaling-stroke"/>
<path d="M55.8,40.4 L56.2,42.2 L56.9,44.0 L56.3,45.8 L58.3,46.8" vector-effect="non-scaling-stroke"/>
<path d="M38.5,57.2 L41.2,57.5 L43.6,58.7 L46.3,58.2 L48.9,57.3" vector-effect="non-scaling-stroke"/>
<path d="M42.7,8.6 L43.1,6.9 L43.7,5.2 L44.6,3.6 L45.7,2.0" vector-effect="non-scaling-stroke"/>
<path d="M31.0,65.0 L31.2,67.3 L31.5,69.5 L29.8,71.3 L27.3,72.4" vector-effect="non-scaling-stroke"/>
<path d="M59.9,23.1 L60.0,24.7 L58.2,25.4 L56.9,26.7 L56.1,28.2" vector-effect="non-scaling-stroke"/>
<path d="M42.4,59.3 L40.8,60.6 L40.3,62.5 L42.0,63.7 L44.4,63.7" vector-effect="non-scaling-stroke"/>
<path d="M27.8,61.8 L26.1,61.9 L25.3,63.1 L24.3,64.1 L23.5,65.3" vector-effect="non-scaling-stroke"/>
</g>
<g fill="none" stroke="#444444" stroke-width="0.75" stroke-linejoin="round" vector-effect="non-scaling-stroke">
<path d="M20,20 C35,14 55,13 75,18 C84,21 90,26 94,32" vector-effect="non-scaling-stroke"/>
<path d="M14,34 C24,26 40,22 56,22" vector-effect="non-scaling-stroke"/>
<path d="M45.5,41.6 L48.8,40.3 L52.3,39.5 L54.6,37.2 L56.9,34.9" vector-effect="non-scaling-stroke"/>
<path d="M62.2,57.7 L65.4,57.1 L68.4,58.1 L70.7,60.0 L73.9,59.6" vector-effect="non-scaling-stroke"/>
<path d="M95.3,69.6 L91.4,68.7 L88.3,70.7 L85.1,72.6 L84.8,75.9" vector-effect="non-scaling-stroke"/>
<path d="M20.9,19.7 L24.5,19.9 L27.2,21.9 L29.8,24.0 L31.5,26.6" vector-effect="non-scaling-stroke"/>
<path d="M50.0,48.7 L47.6,47.0 L48.1,44.5 L50.4,42.8 L53.4,41.9" vector-effect="non-scaling-stroke"/>
<path d="M32.6,18.8 L30.8,20.4 L29.3,22.2 L26.7,22.8 L24.4,23.9" vector-effect="non-scaling-stroke"/>
<path d="M93.1,61.5 L95.1,63.2 L97.3,64.9 L96.8,67.3 L97.0,69.7" vector-effect="non-scaling-stroke"/>
<path d="M9.9,46.4 L8.0,44.4 L5.3,43.0 L5.1,40.5 L6.6,38.2" vector-effect="non-scaling-stroke"/>
<path d="M14.1,20.0 L15.0,22.0 L17.2,23.2 L19.2,24.5 L21.4,25.7" vector-effect="non-scaling-stroke"/>
<path d="M20.9,53.5 L25.0,53.7 L29.1,53.3 L32.3,51.3 L34.0,48.3" vector-effect="non-scaling-stroke"/>
<path d="M94.3,58.4 L95.4,62.1 L97.4,65.5 L96.2,69.1 L93.8,72.4" vector-effect="non-scaling-stroke"/>
<path d="M12.4,71.3 L11.5,73.7 L11.5,76.2 L12.9,78.5 L15.9,79.2" vector-effect="non-scaling-stroke"/>
<path d="M11.5,43.2 L12.7,46.3 L14.2,49.2 L12.2,52.0 L10.3,54.8" vector-effect="non-scaling-stroke"/>
<path d="M57.0,62.8 L55.9,64.9 L53.4,66.1 L52.0,68.1 L52.2,70.4" vector-effect="non-scaling-stroke"/>
<path d="M72.5,67.9 L70.5,71.4 L67.6,74.6 L65.3,78.0 L66.8,81.7" vector-effect="non-scaling-stroke"/>
<path d="M6.6,69.4 L8.9,72.3 L8.5,75.7 L7.3,79.0 L7.9,82.4" vector-effect="non-scaling-stroke"/>
<path d="M19.5,52.7 L22.1,54.0 L23.1,56.3 L23.3,58.8 L24.9,60.9" vector-effect="non-scaling-stroke"/>
<path d="M89.2,17.1 L92.4,17.1 L94.4,15.1 L94.5,12.6 L93.8,10.1" vector-effect="non-scaling-stroke"/>
<path d="M56.8,12.1 L52.1,11.7 L47.7,10.2 L44.4,7.5 L41.7,4.4" vector-effect="non-scaling-stroke"/>
<path d="M16.2,5.4 L20.4,7.3 L21.0,11.1 L25.2,12.9 L28.7,15.5" vector-effect="non-scaling-stroke"/>
<path d="M48.3,53.4 L50.4,57.1 L51.9,60.9 L51.2,64.8 L47.1,67.1" vector-effect="non-scaling-stroke"/>
<path d="M72.3,51.6 L72.2,47.7 L73.8,44.1 L78.2,42.5 L82.7,43.7" vector-effect="non-scaling-stroke"/>
<path d="M42.2,57.5 L45.4,55.8 L48.1,53.4 L51.1,51.4 L54.6,50.0" vector-effect="non-scaling-stroke"/>
<path d="M10.5,47.1 L14.8,48.6 L19.5,49.3 L23.2,51.7 L26.4,54.4" vector-effect="non-scaling-stroke"/>
<path d="M44.4,60.8 L48.4,59.4 L52.7,58.7 L56.9,57.8 L60.0,55.4" vector-effect="non-scaling-stroke"/>
<path d="M68.6,37.3 L64.0,36.4 L60.4,39.0 L58.5,42.5 L55.1,45.3" vector-effect="non-scaling-stroke"/>
<path d="M22.0,14.7 L25.2,12.5 L29.3,12.8 L33.3,11.9 L37.5,12.1" vector-effect="non-scaling-stroke"/>
<path d="M21.7,32.7 L26.0,31.0 L29.6,28.6 L33.8,26.7 L36.8,23.7" vector-effect="non-scaling-stroke"/>
<path d="M15.8,37.3 L19.6,35.2 L24.0,36.3 L28.6,35.7 L31.8,33.0" vector-effect="non-scaling-stroke"/>
<path d="M45.4,22.0 L45.3,24.8 L45.2,27.6 L46.5,30.3 L45.3,33.0" vector-effect="non-scaling-stroke"/>
<path d="M95.3,34.2 L96.2,36.2 L98.7,36.8 L100.6,38.1 L102.3,39.7" vector-effect="non-scaling-stroke"/>
<path d="M32.0,57.6 L34.9,57.7 L36.6,55.9 L39.3,55.3 L41.4,53.7" vector-effect="non-scaling-stroke"/>
<path d="M16.2,6.2 L14.5,3.7 L13.8,0.9 L15.3,-1.8 L18.8,-2.4" vector-effect="non-scaling-stroke"/>
<path d="M67.3,16.8 L66.1,18.9 L65.0,21.1 L62.9,22.7 L62.4,25.0" vector-effect="non-scaling-stroke"/>
<path d="M28.6,26.9 L28.2,23.8 L29.7,21.0 L30.5,18.1 L33.2,15.9" vector-effect="non-scaling-stroke"/>
<path d="M88.2,9.0 L89.9,5.9 L91.2,2.6 L93.5,-0.3 L97.8,-1.0" vector-effect="non-scaling-stroke"/>
<path d="M38.4,42.2 L42.9,42.7 L47.4,42.9 L51.6,44.2 L55.9,43.4" vector-effect="non-scaling-stroke"/>
<path d="M70.9,59.5 L66.8,58.4 L64.9,55.3 L67.0,52.3 L71.2,51.9" vector-effect="non-scaling-stroke"/>
<path d="M53.5,57.6 L49.1,59.1 L45.5,61.6 L45.4,65.4 L45.9,69.2" vector-effect="non-scaling-stroke"/>
<path d="M54.7,56.0 L52.5,55.0 L50.1,55.6 L47.6,55.1 L45.2,55.9" vector-effect="non-scaling-stroke"/>
<path d="M34.5,57.4 L36.2,59.2 L36.8,61.4 L35.5,63.5 L33.4,65.0" vector-effect="non-scaling-stroke"/>
<path d="M91.9,37.0 L93.6,35.3 L95.5,33.7 L96.4,31.7 L98.3,30.1" vector-effect="non-scaling-stroke"/>
<path d="M63.1,39.1 L63.9,36.0 L63.8,32.9 L66.2,30.4 L70.1,30.1" vector-effect="non-scaling-stroke"/>
<path d="M22.6,61.7 L26.4,61.5 L29.4,59.7 L32.6,58.0 L35.8,56.4" vector-effect="non-scaling-stroke"/>
</g>
<path d="M26,3 L60,3 L62,12 L56,20 L46,16 L34,14 L26,10 Z" fill="#4A90C8"/>
<path d="M34,33 C42,29.5 52,28.5 62,29 C67,29.3 71,30 73,31.5 L72.5,35 L77,36.5 L75.5,40.5 L79,43 L76.5,47 L78.5,50 L73.5,53 L72.5,58 L69.5,62 C66,66 61,69 56,69.5 C50,67.5 44,63 40,58.5 C35.5,53 32.5,46 32.2,40 C32,37 32.8,34.6 34,33 Z" fill="#222"/>
</g>
<use href="#medS" fill="none" stroke="#555" stroke-width="0.6" vector-effect="non-scaling-stroke"/>
</g>
<g transform="translate(616.80 195.10) scale(0.4150 0.4320)">
<use href="#latS" fill="url(#bg1)"/>
<g clip-path="url(#latC)">
<g fill="none" stroke="#C6C6C6" stroke-width="1.3" stroke-linecap="round" vector-effect="non-scaling-stroke">
<path d="M18.5,50.6 L16.3,50.4 L14.9,49.0 L15.1,47.3 L15.4,45.5" vector-effect="non-scaling-stroke"/>
<path d="M50.5,19.3 L52.5,19.7 L53.8,18.4 L55.8,18.2 L57.2,17.0" vector-effect="non-scaling-stroke"/>
<path d="M24.9,5.9 L26.4,7.6 L27.2,9.6 L29.8,9.7 L32.2,8.9" vector-effect="non-scaling-stroke"/>
<path d="M49.8,11.0 L50.5,9.5 L52.4,8.9 L52.9,7.3 L54.9,6.9" vector-effect="non-scaling-stroke"/>
<path d="M45.6,41.1 L46.1,42.8 L48.3,43.1 L49.3,44.6 L51.4,45.3" vector-effect="non-scaling-stroke"/>
<path d="M76.3,17.4 L78.9,18.4 L80.0,20.5 L80.6,22.7 L79.6,24.8" vector-effect="non-scaling-stroke"/>
<path d="M14.5,35.9 L16.3,35.9 L17.3,37.1 L18.5,38.1 L20.2,38.7" vector-effect="non-scaling-stroke"/>
<path d="M45.4,29.6 L46.1,28.0 L44.6,26.8 L44.3,25.2 L46.1,24.4" vector-effect="non-scaling-stroke"/>
<path d="M49.6,36.9 L47.2,37.7 L44.6,38.0 L42.0,38.0 L39.5,37.2" vector-effect="non-scaling-stroke"/>
<path d="M20.0,14.7 L19.4,17.0 L18.0,19.1 L18.1,21.4 L20.7,22.5" vector-effect="non-scaling-stroke"/>
<path d="M9.2,59.1 L10.4,57.8 L12.3,57.1 L14.0,58.0 L13.6,59.6" vector-effect="non-scaling-stroke"/>
<path d="M41.3,71.2 L43.0,72.6 L44.8,73.8 L47.0,74.6 L49.3,74.1" vector-effect="non-scaling-stroke"/>
<path d="M85.4,14.2 L86.5,16.2 L87.7,18.1 L86.6,20.1 L88.5,21.7" vector-effect="non-scaling-stroke"/>
<path d="M27.2,23.0 L27.3,24.4 L28.1,25.7 L27.2,26.8 L25.5,26.5" vector-effect="non-scaling-stroke"/>
<path d="M73.1,36.0 L72.9,38.4 L71.0,40.2 L72.6,42.2 L75.4,42.9" vector-effect="non-scaling-stroke"/>
<path d="M81.8,57.9 L83.2,56.3 L85.0,55.0 L87.4,55.4 L89.7,54.8" vector-effect="non-scaling-stroke"/>
<path d="M53.2,22.0 L54.1,21.0 L55.6,21.3 L56.3,20.2 L57.4,19.4" vector-effect="non-scaling-stroke"/>
<path d="M63.5,61.8 L61.7,61.3 L61.5,59.8 L63.1,59.0 L63.1,57.5" vector-effect="non-scaling-stroke"/>
<path d="M11.9,9.5 L13.5,8.3 L15.6,8.6 L17.4,9.5 L19.4,8.9" vector-effect="non-scaling-stroke"/>
<path d="M53.6,25.4 L52.5,26.5 L52.8,28.0 L53.6,29.3 L53.5,30.7" vector-effect="non-scaling-stroke"/>
<path d="M54.7,6.2 L56.0,4.2 L58.6,3.4 L58.5,1.2 L58.0,-1.1" vector-effect="non-scaling-stroke"/>
<path d="M9.0,55.7 L11.3,56.6 L12.7,58.3 L15.0,59.3 L16.9,57.9" vector-effect="non-scaling-stroke"/>
<path d="M39.6,24.3 L41.1,23.5 L42.9,22.7 L44.4,23.7 L46.2,23.1" vector-effect="non-scaling-stroke"/>
<path d="M59.5,38.1 L57.9,36.1 L57.7,33.8 L57.6,31.4 L58.1,29.1" vector-effect="non-scaling-stroke"/>
<path d="M9.0,59.2 L10.6,58.3 L12.2,59.3 L14.2,58.7 L14.4,57.1" vector-effect="non-scaling-stroke"/>
<path d="M9.9,59.2 L10.7,57.6 L9.0,56.5 L8.0,54.9 L6.7,53.5" vector-effect="non-scaling-stroke"/>
<path d="M51.6,29.9 L52.0,31.3 L52.7,32.7 L54.3,33.4 L55.3,34.7" vector-effect="non-scaling-stroke"/>
<path d="M79.8,52.9 L78.3,53.7 L76.7,54.6 L75.0,55.0 L73.9,53.8" vector-effect="non-scaling-stroke"/>
<path d="M11.0,36.1 L9.6,34.4 L9.9,32.4 L11.0,30.5 L13.3,29.6" vector-effect="non-scaling-stroke"/>
<path d="M65.8,62.3 L63.7,61.1 L63.9,59.1 L63.5,57.2 L63.7,55.1" vector-effect="non-scaling-stroke"/>
</g>
<g fill="none" stroke="#444444" stroke-width="0.75" stroke-linejoin="round" vector-effect="non-scaling-stroke">
<path d="M30,58 C40,48 52,43 68,41" vector-effect="non-scaling-stroke"/>
<path d="M37,66 C48,59 62,55 80,53" vector-effect="non-scaling-stroke"/>
<path d="M56,2 C53,12 50,23 47,38" vector-effect="non-scaling-stroke"/>
<path d="M33.4,13.4 L32.0,11.6 L30.1,10.1 L27.4,10.4 L24.8,10.7" vector-effect="non-scaling-stroke"/>
<path d="M6.5,32.9 L9.1,33.5 L10.7,35.3 L13.4,35.7 L16.0,34.9" vector-effect="non-scaling-stroke"/>
<path d="M62.0,68.4 L61.5,65.6 L58.5,64.2 L57.4,61.6 L55.0,59.5" vector-effect="non-scaling-stroke"/>
<path d="M16.6,11.1 L17.8,14.6 L18.3,18.2 L17.5,21.8 L17.9,25.4" vector-effect="non-scaling-stroke"/>
<path d="M54.5,7.3 L56.7,9.0 L59.2,10.3 L62.2,10.8 L65.0,11.7" vector-effect="non-scaling-stroke"/>
<path d="M45.6,23.7 L44.6,20.4 L44.3,17.0 L44.1,13.6 L46.9,11.0" vector-effect="non-scaling-stroke"/>
<path d="M71.6,22.9 L74.2,22.2 L77.0,22.7 L79.5,21.7 L81.9,20.7" vector-effect="non-scaling-stroke"/>
<path d="M6.7,49.1 L9.6,47.0 L11.4,44.2 L14.4,42.2 L17.8,40.6" vector-effect="non-scaling-stroke"/>
<path d="M57.5,34.5 L59.9,31.1 L63.5,28.5 L63.3,24.6 L65.1,21.0" vector-effect="non-scaling-stroke"/>
<path d="M63.8,71.5 L64.5,69.0 L66.3,66.8 L65.0,64.5 L63.6,62.2" vector-effect="non-scaling-stroke"/>
<path d="M18.8,11.1 L22.9,9.8 L25.7,7.1 L27.8,3.9 L31.9,2.7" vector-effect="non-scaling-stroke"/>
<path d="M10.6,34.0 L7.8,30.9 L8.3,27.2 L6.8,23.6 L4.5,20.3" vector-effect="non-scaling-stroke"/>
<path d="M36.7,64.0 L38.5,62.2 L38.8,59.9 L37.7,57.8 L36.5,55.7" vector-effect="non-scaling-stroke"/>
<path d="M58.4,21.1 L61.8,20.5 L65.4,20.2 L67.8,22.2 L69.2,24.8" vector-effect="non-scaling-stroke"/>
<path d="M51.5,45.6 L52.3,43.6 L54.4,42.3 L57.0,42.5 L59.1,43.8" vector-effect="non-scaling-stroke"/>
<path d="M39.9,30.5 L43.9,29.8 L45.8,26.9 L45.3,23.7 L42.5,21.3" vector-effect="non-scaling-stroke"/>
<path d="M35.0,6.6 L37.0,5.0 L38.4,3.0 L37.1,0.9 L38.0,-1.3" vector-effect="non-scaling-stroke"/>
<path d="M60.7,13.2 L61.6,15.9 L64.4,17.3 L65.5,19.8 L63.4,22.0" vector-effect="non-scaling-stroke"/>
<path d="M46.8,36.4 L49.5,36.9 L52.2,36.3 L54.7,37.2 L57.3,36.6" vector-effect="non-scaling-stroke"/>
<path d="M5.2,68.6 L2.4,68.0 L0.2,69.5 L-2.1,70.8 L-4.9,70.1" vector-effect="non-scaling-stroke"/>
<path d="M84.2,51.0 L86.1,53.3 L86.2,56.0 L86.2,58.8 L84.4,61.1" vector-effect="non-scaling-stroke"/>
<path d="M34.0,18.4 L38.4,16.6 L43.3,17.1 L46.9,19.8 L48.4,23.6" vector-effect="non-scaling-stroke"/>
<path d="M24.3,38.7 L25.0,40.7 L26.7,42.2 L29.1,43.0 L31.0,44.4" vector-effect="non-scaling-stroke"/>
<path d="M92.9,33.9 L97.2,35.8 L102.1,36.8 L106.8,35.5 L110.0,32.5" vector-effect="non-scaling-stroke"/>
<path d="M21.5,17.1 L21.0,13.3 L20.3,9.6 L21.0,5.8 L24.2,3.0" vector-effect="non-scaling-stroke"/>
<path d="M11.0,48.6 L15.4,48.3 L19.8,47.9 L23.1,45.5 L27.5,44.9" vector-effect="non-scaling-stroke"/>
<path d="M34.3,58.3 L37.5,57.2 L40.5,58.6 L42.5,60.9 L45.8,61.8" vector-effect="non-scaling-stroke"/>
<path d="M14.9,13.4 L16.1,9.9 L19.7,7.7 L24.0,8.8 L27.7,11.0" vector-effect="non-scaling-stroke"/>
<path d="M35.9,40.9 L35.4,42.8 L34.2,44.6 L32.9,46.4 L30.4,46.7" vector-effect="non-scaling-stroke"/>
<path d="M43.8,63.2 L43.7,60.7 L42.5,58.5 L40.0,57.1 L37.9,55.4" vector-effect="non-scaling-stroke"/>
<path d="M27.4,31.9 L31.5,33.8 L35.8,35.5 L39.7,37.7 L40.4,41.5" vector-effect="non-scaling-stroke"/>
<path d="M42.5,66.3 L38.7,66.1 L36.4,68.6 L34.4,71.2 L34.7,74.2" vector-effect="non-scaling-stroke"/>
<path d="M3.4,58.1 L3.5,61.1 L3.2,64.0 L4.2,66.9 L5.1,69.7" vector-effect="non-scaling-stroke"/>
<path d="M55.2,57.1 L59.1,57.6 L62.8,56.8 L66.6,57.6 L70.3,58.4" vector-effect="non-scaling-stroke"/>
<path d="M55.8,55.4 L59.2,54.5 L62.7,53.6 L66.1,52.8 L69.7,53.1" vector-effect="non-scaling-stroke"/>
<path d="M45.5,39.8 L40.8,38.8 L38.3,35.5 L39.8,31.8 L39.1,28.0" vector-effect="non-scaling-stroke"/>
<path d="M55.6,68.1 L55.1,65.9 L54.2,63.7 L51.6,62.8 L48.8,63.0" vector-effect="non-scaling-stroke"/>
<path d="M9.9,49.2 L7.7,45.8 L7.5,42.0 L8.8,38.4 L6.7,34.9" vector-effect="non-scaling-stroke"/>
<path d="M86.0,69.8 L87.9,73.4 L89.9,76.9 L87.3,80.2 L82.7,81.6" vector-effect="non-scaling-stroke"/>
<path d="M18.2,32.8 L15.3,34.1 L13.1,36.1 L10.1,37.3 L9.5,39.9" vector-effect="non-scaling-stroke"/>
<path d="M55.1,33.4 L58.2,34.3 L61.3,35.3 L64.2,34.1 L67.2,35.3" vector-effect="non-scaling-stroke"/>
<path d="M77.1,70.0 L80.2,69.4 L83.2,70.1 L86.3,69.7 L88.3,67.7" vector-effect="non-scaling-stroke"/>
<path d="M42.7,65.9 L41.9,63.5 L43.6,61.3 L45.6,59.4 L48.4,58.3" vector-effect="non-scaling-stroke"/>
<path d="M11.4,7.0 L8.0,6.1 L6.8,3.4 L6.4,0.6 L8.1,-1.9" vector-effect="non-scaling-stroke"/>
<path d="M10.9,62.1 L15.3,63.3 L19.9,63.3 L24.6,63.7 L27.2,66.8" vector-effect="non-scaling-stroke"/>
<path d="M28.2,11.9 L25.6,13.3 L24.8,15.7 L26.6,17.7 L29.5,18.6" vector-effect="non-scaling-stroke"/>
<path d="M32.3,24.0 L32.5,21.5 L30.7,19.3 L28.2,17.7 L25.1,18.4" vector-effect="non-scaling-stroke"/>
<path d="M26.5,4.1 L24.0,1.7 L21.2,-0.5 L21.6,-3.6 L19.1,-5.9" vector-effect="non-scaling-stroke"/>
<path d="M80.0,32.8 L75.5,33.7 L71.1,34.6 L66.5,34.0 L64.5,30.7" vector-effect="non-scaling-stroke"/>
<path d="M35.2,60.4 L33.4,57.5 L30.5,55.1 L26.5,55.4 L23.7,57.8" vector-effect="non-scaling-stroke"/>
<path d="M9.6,54.1 L11.7,55.7 L12.1,58.1 L10.3,59.9 L7.9,61.3" vector-effect="non-scaling-stroke"/>
<path d="M29.5,19.7 L31.0,22.4 L32.8,24.9 L35.9,26.5 L36.1,29.4" vector-effect="non-scaling-stroke"/>
<path d="M94.4,40.7 L96.4,44.3 L99.6,47.3 L104.5,46.8 L109.0,45.4" vector-effect="non-scaling-stroke"/>
<path d="M47.6,37.7 L51.2,38.5 L54.9,37.9 L56.9,35.3 L58.2,32.5" vector-effect="non-scaling-stroke"/>
<path d="M6.9,4.6 L5.4,6.7 L3.7,8.8 L1.0,10.0 L-2.0,10.4" vector-effect="non-scaling-stroke"/>
<path d="M70.3,63.7 L67.1,62.9 L64.1,64.0 L60.8,64.0 L57.6,63.2" vector-effect="non-scaling-stroke"/>
<path d="M7.1,60.6 L11.1,60.0 L14.8,61.3 L18.7,60.3 L22.6,59.4" vector-effect="non-scaling-stroke"/>
<path d="M50.4,60.6 L52.6,57.4 L57.0,56.4 L61.6,56.8 L65.6,58.5" vector-effect="non-scaling-stroke"/>
<path d="M24.6,5.2 L28.0,5.3 L30.6,7.1 L32.9,9.1 L34.4,11.5" vector-effect="non-scaling-stroke"/>
<path d="M61.9,50.0 L59.7,49.0 L58.4,47.2 L57.1,45.5 L56.0,43.7" vector-effect="non-scaling-stroke"/>
</g>
<path d="M41.4,14.8 L52.3,15.5 L54,25.2 L53.2,35 L64.1,33.3 L65.8,38.2 L57.4,47.9 L43.9,54.4 L40.5,46.3 L38,33.3 L38.8,22 Z" fill="#20D8B8"/>
</g>
<use href="#latS" fill="none" stroke="#555" stroke-width="0.6" vector-effect="non-scaling-stroke"/>
</g>
<g transform="translate(611.70 230.10) scale(0.4270 0.4147)">
<use href="#latS" fill="url(#bg1)"/>
<g clip-path="url(#latC)">
<g fill="none" stroke="#C6C6C6" stroke-width="1.3" stroke-linecap="round" vector-effect="non-scaling-stroke">
<path d="M18.5,50.6 L16.3,50.4 L14.9,49.0 L15.1,47.3 L15.4,45.5" vector-effect="non-scaling-stroke"/>
<path d="M50.5,19.3 L52.5,19.7 L53.8,18.4 L55.8,18.2 L57.2,17.0" vector-effect="non-scaling-stroke"/>
<path d="M24.9,5.9 L26.4,7.6 L27.2,9.6 L29.8,9.7 L32.2,8.9" vector-effect="non-scaling-stroke"/>
<path d="M49.8,11.0 L50.5,9.5 L52.4,8.9 L52.9,7.3 L54.9,6.9" vector-effect="non-scaling-stroke"/>
<path d="M45.6,41.1 L46.1,42.8 L48.3,43.1 L49.3,44.6 L51.4,45.3" vector-effect="non-scaling-stroke"/>
<path d="M76.3,17.4 L78.9,18.4 L80.0,20.5 L80.6,22.7 L79.6,24.8" vector-effect="non-scaling-stroke"/>
<path d="M14.5,35.9 L16.3,35.9 L17.3,37.1 L18.5,38.1 L20.2,38.7" vector-effect="non-scaling-stroke"/>
<path d="M45.4,29.6 L46.1,28.0 L44.6,26.8 L44.3,25.2 L46.1,24.4" vector-effect="non-scaling-stroke"/>
<path d="M49.6,36.9 L47.2,37.7 L44.6,38.0 L42.0,38.0 L39.5,37.2" vector-effect="non-scaling-stroke"/>
<path d="M20.0,14.7 L19.4,17.0 L18.0,19.1 L18.1,21.4 L20.7,22.5" vector-effect="non-scaling-stroke"/>
<path d="M9.2,59.1 L10.4,57.8 L12.3,57.1 L14.0,58.0 L13.6,59.6" vector-effect="non-scaling-stroke"/>
<path d="M41.3,71.2 L43.0,72.6 L44.8,73.8 L47.0,74.6 L49.3,74.1" vector-effect="non-scaling-stroke"/>
<path d="M85.4,14.2 L86.5,16.2 L87.7,18.1 L86.6,20.1 L88.5,21.7" vector-effect="non-scaling-stroke"/>
<path d="M27.2,23.0 L27.3,24.4 L28.1,25.7 L27.2,26.8 L25.5,26.5" vector-effect="non-scaling-stroke"/>
<path d="M73.1,36.0 L72.9,38.4 L71.0,40.2 L72.6,42.2 L75.4,42.9" vector-effect="non-scaling-stroke"/>
<path d="M81.8,57.9 L83.2,56.3 L85.0,55.0 L87.4,55.4 L89.7,54.8" vector-effect="non-scaling-stroke"/>
<path d="M53.2,22.0 L54.1,21.0 L55.6,21.3 L56.3,20.2 L57.4,19.4" vector-effect="non-scaling-stroke"/>
<path d="M63.5,61.8 L61.7,61.3 L61.5,59.8 L63.1,59.0 L63.1,57.5" vector-effect="non-scaling-stroke"/>
<path d="M11.9,9.5 L13.5,8.3 L15.6,8.6 L17.4,9.5 L19.4,8.9" vector-effect="non-scaling-stroke"/>
<path d="M53.6,25.4 L52.5,26.5 L52.8,28.0 L53.6,29.3 L53.5,30.7" vector-effect="non-scaling-stroke"/>
<path d="M54.7,6.2 L56.0,4.2 L58.6,3.4 L58.5,1.2 L58.0,-1.1" vector-effect="non-scaling-stroke"/>
<path d="M9.0,55.7 L11.3,56.6 L12.7,58.3 L15.0,59.3 L16.9,57.9" vector-effect="non-scaling-stroke"/>
<path d="M39.6,24.3 L41.1,23.5 L42.9,22.7 L44.4,23.7 L46.2,23.1" vector-effect="non-scaling-stroke"/>
<path d="M59.5,38.1 L57.9,36.1 L57.7,33.8 L57.6,31.4 L58.1,29.1" vector-effect="non-scaling-stroke"/>
<path d="M9.0,59.2 L10.6,58.3 L12.2,59.3 L14.2,58.7 L14.4,57.1" vector-effect="non-scaling-stroke"/>
<path d="M9.9,59.2 L10.7,57.6 L9.0,56.5 L8.0,54.9 L6.7,53.5" vector-effect="non-scaling-stroke"/>
<path d="M51.6,29.9 L52.0,31.3 L52.7,32.7 L54.3,33.4 L55.3,34.7" vector-effect="non-scaling-stroke"/>
<path d="M79.8,52.9 L78.3,53.7 L76.7,54.6 L75.0,55.0 L73.9,53.8" vector-effect="non-scaling-stroke"/>
<path d="M11.0,36.1 L9.6,34.4 L9.9,32.4 L11.0,30.5 L13.3,29.6" vector-effect="non-scaling-stroke"/>
<path d="M65.8,62.3 L63.7,61.1 L63.9,59.1 L63.5,57.2 L63.7,55.1" vector-effect="non-scaling-stroke"/>
</g>
<g fill="none" stroke="#444444" stroke-width="0.75" stroke-linejoin="round" vector-effect="non-scaling-stroke">
<path d="M30,58 C40,48 52,43 68,41" vector-effect="non-scaling-stroke"/>
<path d="M37,66 C48,59 62,55 80,53" vector-effect="non-scaling-stroke"/>
<path d="M56,2 C53,12 50,23 47,38" vector-effect="non-scaling-stroke"/>
<path d="M33.4,13.4 L32.0,11.6 L30.1,10.1 L27.4,10.4 L24.8,10.7" vector-effect="non-scaling-stroke"/>
<path d="M6.5,32.9 L9.1,33.5 L10.7,35.3 L13.4,35.7 L16.0,34.9" vector-effect="non-scaling-stroke"/>
<path d="M62.0,68.4 L61.5,65.6 L58.5,64.2 L57.4,61.6 L55.0,59.5" vector-effect="non-scaling-stroke"/>
<path d="M16.6,11.1 L17.8,14.6 L18.3,18.2 L17.5,21.8 L17.9,25.4" vector-effect="non-scaling-stroke"/>
<path d="M54.5,7.3 L56.7,9.0 L59.2,10.3 L62.2,10.8 L65.0,11.7" vector-effect="non-scaling-stroke"/>
<path d="M45.6,23.7 L44.6,20.4 L44.3,17.0 L44.1,13.6 L46.9,11.0" vector-effect="non-scaling-stroke"/>
<path d="M71.6,22.9 L74.2,22.2 L77.0,22.7 L79.5,21.7 L81.9,20.7" vector-effect="non-scaling-stroke"/>
<path d="M6.7,49.1 L9.6,47.0 L11.4,44.2 L14.4,42.2 L17.8,40.6" vector-effect="non-scaling-stroke"/>
<path d="M57.5,34.5 L59.9,31.1 L63.5,28.5 L63.3,24.6 L65.1,21.0" vector-effect="non-scaling-stroke"/>
<path d="M63.8,71.5 L64.5,69.0 L66.3,66.8 L65.0,64.5 L63.6,62.2" vector-effect="non-scaling-stroke"/>
<path d="M18.8,11.1 L22.9,9.8 L25.7,7.1 L27.8,3.9 L31.9,2.7" vector-effect="non-scaling-stroke"/>
<path d="M10.6,34.0 L7.8,30.9 L8.3,27.2 L6.8,23.6 L4.5,20.3" vector-effect="non-scaling-stroke"/>
<path d="M36.7,64.0 L38.5,62.2 L38.8,59.9 L37.7,57.8 L36.5,55.7" vector-effect="non-scaling-stroke"/>
<path d="M58.4,21.1 L61.8,20.5 L65.4,20.2 L67.8,22.2 L69.2,24.8" vector-effect="non-scaling-stroke"/>
<path d="M51.5,45.6 L52.3,43.6 L54.4,42.3 L57.0,42.5 L59.1,43.8" vector-effect="non-scaling-stroke"/>
<path d="M39.9,30.5 L43.9,29.8 L45.8,26.9 L45.3,23.7 L42.5,21.3" vector-effect="non-scaling-stroke"/>
<path d="M35.0,6.6 L37.0,5.0 L38.4,3.0 L37.1,0.9 L38.0,-1.3" vector-effect="non-scaling-stroke"/>
<path d="M60.7,13.2 L61.6,15.9 L64.4,17.3 L65.5,19.8 L63.4,22.0" vector-effect="non-scaling-stroke"/>
<path d="M46.8,36.4 L49.5,36.9 L52.2,36.3 L54.7,37.2 L57.3,36.6" vector-effect="non-scaling-stroke"/>
<path d="M5.2,68.6 L2.4,68.0 L0.2,69.5 L-2.1,70.8 L-4.9,70.1" vector-effect="non-scaling-stroke"/>
<path d="M84.2,51.0 L86.1,53.3 L86.2,56.0 L86.2,58.8 L84.4,61.1" vector-effect="non-scaling-stroke"/>
<path d="M34.0,18.4 L38.4,16.6 L43.3,17.1 L46.9,19.8 L48.4,23.6" vector-effect="non-scaling-stroke"/>
<path d="M24.3,38.7 L25.0,40.7 L26.7,42.2 L29.1,43.0 L31.0,44.4" vector-effect="non-scaling-stroke"/>
<path d="M92.9,33.9 L97.2,35.8 L102.1,36.8 L106.8,35.5 L110.0,32.5" vector-effect="non-scaling-stroke"/>
<path d="M21.5,17.1 L21.0,13.3 L20.3,9.6 L21.0,5.8 L24.2,3.0" vector-effect="non-scaling-stroke"/>
<path d="M11.0,48.6 L15.4,48.3 L19.8,47.9 L23.1,45.5 L27.5,44.9" vector-effect="non-scaling-stroke"/>
<path d="M34.3,58.3 L37.5,57.2 L40.5,58.6 L42.5,60.9 L45.8,61.8" vector-effect="non-scaling-stroke"/>
<path d="M14.9,13.4 L16.1,9.9 L19.7,7.7 L24.0,8.8 L27.7,11.0" vector-effect="non-scaling-stroke"/>
<path d="M35.9,40.9 L35.4,42.8 L34.2,44.6 L32.9,46.4 L30.4,46.7" vector-effect="non-scaling-stroke"/>
<path d="M43.8,63.2 L43.7,60.7 L42.5,58.5 L40.0,57.1 L37.9,55.4" vector-effect="non-scaling-stroke"/>
<path d="M27.4,31.9 L31.5,33.8 L35.8,35.5 L39.7,37.7 L40.4,41.5" vector-effect="non-scaling-stroke"/>
<path d="M42.5,66.3 L38.7,66.1 L36.4,68.6 L34.4,71.2 L34.7,74.2" vector-effect="non-scaling-stroke"/>
<path d="M3.4,58.1 L3.5,61.1 L3.2,64.0 L4.2,66.9 L5.1,69.7" vector-effect="non-scaling-stroke"/>
<path d="M55.2,57.1 L59.1,57.6 L62.8,56.8 L66.6,57.6 L70.3,58.4" vector-effect="non-scaling-stroke"/>
<path d="M55.8,55.4 L59.2,54.5 L62.7,53.6 L66.1,52.8 L69.7,53.1" vector-effect="non-scaling-stroke"/>
<path d="M45.5,39.8 L40.8,38.8 L38.3,35.5 L39.8,31.8 L39.1,28.0" vector-effect="non-scaling-stroke"/>
<path d="M55.6,68.1 L55.1,65.9 L54.2,63.7 L51.6,62.8 L48.8,63.0" vector-effect="non-scaling-stroke"/>
<path d="M9.9,49.2 L7.7,45.8 L7.5,42.0 L8.8,38.4 L6.7,34.9" vector-effect="non-scaling-stroke"/>
<path d="M86.0,69.8 L87.9,73.4 L89.9,76.9 L87.3,80.2 L82.7,81.6" vector-effect="non-scaling-stroke"/>
<path d="M18.2,32.8 L15.3,34.1 L13.1,36.1 L10.1,37.3 L9.5,39.9" vector-effect="non-scaling-stroke"/>
<path d="M55.1,33.4 L58.2,34.3 L61.3,35.3 L64.2,34.1 L67.2,35.3" vector-effect="non-scaling-stroke"/>
<path d="M77.1,70.0 L80.2,69.4 L83.2,70.1 L86.3,69.7 L88.3,67.7" vector-effect="non-scaling-stroke"/>
<path d="M42.7,65.9 L41.9,63.5 L43.6,61.3 L45.6,59.4 L48.4,58.3" vector-effect="non-scaling-stroke"/>
<path d="M11.4,7.0 L8.0,6.1 L6.8,3.4 L6.4,0.6 L8.1,-1.9" vector-effect="non-scaling-stroke"/>
<path d="M10.9,62.1 L15.3,63.3 L19.9,63.3 L24.6,63.7 L27.2,66.8" vector-effect="non-scaling-stroke"/>
<path d="M28.2,11.9 L25.6,13.3 L24.8,15.7 L26.6,17.7 L29.5,18.6" vector-effect="non-scaling-stroke"/>
<path d="M32.3,24.0 L32.5,21.5 L30.7,19.3 L28.2,17.7 L25.1,18.4" vector-effect="non-scaling-stroke"/>
<path d="M26.5,4.1 L24.0,1.7 L21.2,-0.5 L21.6,-3.6 L19.1,-5.9" vector-effect="non-scaling-stroke"/>
<path d="M80.0,32.8 L75.5,33.7 L71.1,34.6 L66.5,34.0 L64.5,30.7" vector-effect="non-scaling-stroke"/>
<path d="M35.2,60.4 L33.4,57.5 L30.5,55.1 L26.5,55.4 L23.7,57.8" vector-effect="non-scaling-stroke"/>
<path d="M9.6,54.1 L11.7,55.7 L12.1,58.1 L10.3,59.9 L7.9,61.3" vector-effect="non-scaling-stroke"/>
<path d="M29.5,19.7 L31.0,22.4 L32.8,24.9 L35.9,26.5 L36.1,29.4" vector-effect="non-scaling-stroke"/>
<path d="M94.4,40.7 L96.4,44.3 L99.6,47.3 L104.5,46.8 L109.0,45.4" vector-effect="non-scaling-stroke"/>
<path d="M47.6,37.7 L51.2,38.5 L54.9,37.9 L56.9,35.3 L58.2,32.5" vector-effect="non-scaling-stroke"/>
<path d="M6.9,4.6 L5.4,6.7 L3.7,8.8 L1.0,10.0 L-2.0,10.4" vector-effect="non-scaling-stroke"/>
<path d="M70.3,63.7 L67.1,62.9 L64.1,64.0 L60.8,64.0 L57.6,63.2" vector-effect="non-scaling-stroke"/>
<path d="M7.1,60.6 L11.1,60.0 L14.8,61.3 L18.7,60.3 L22.6,59.4" vector-effect="non-scaling-stroke"/>
<path d="M50.4,60.6 L52.6,57.4 L57.0,56.4 L61.6,56.8 L65.6,58.5" vector-effect="non-scaling-stroke"/>
<path d="M24.6,5.2 L28.0,5.3 L30.6,7.1 L32.9,9.1 L34.4,11.5" vector-effect="non-scaling-stroke"/>
<path d="M61.9,50.0 L59.7,49.0 L58.4,47.2 L57.1,45.5 L56.0,43.7" vector-effect="non-scaling-stroke"/>
</g>
<path d="M39,0 L64,0 L62,12 L54,19 L46,16 L40,10 Z" fill="#3A80B8"/>
</g>
<use href="#latS" fill="none" stroke="#555" stroke-width="0.6" vector-effect="non-scaling-stroke"/>
</g>
<g transform="translate(600.00 263.80) scale(0.3880 0.4307)">
<use href="#latS" fill="url(#bg1)"/>
<g clip-path="url(#latC)">
<g fill="none" stroke="#C6C6C6" stroke-width="1.3" stroke-linecap="round" vector-effect="non-scaling-stroke">
<path d="M18.5,50.6 L16.3,50.4 L14.9,49.0 L15.1,47.3 L15.4,45.5" vector-effect="non-scaling-stroke"/>
<path d="M50.5,19.3 L52.5,19.7 L53.8,18.4 L55.8,18.2 L57.2,17.0" vector-effect="non-scaling-stroke"/>
<path d="M24.9,5.9 L26.4,7.6 L27.2,9.6 L29.8,9.7 L32.2,8.9" vector-effect="non-scaling-stroke"/>
<path d="M49.8,11.0 L50.5,9.5 L52.4,8.9 L52.9,7.3 L54.9,6.9" vector-effect="non-scaling-stroke"/>
<path d="M45.6,41.1 L46.1,42.8 L48.3,43.1 L49.3,44.6 L51.4,45.3" vector-effect="non-scaling-stroke"/>
<path d="M76.3,17.4 L78.9,18.4 L80.0,20.5 L80.6,22.7 L79.6,24.8" vector-effect="non-scaling-stroke"/>
<path d="M14.5,35.9 L16.3,35.9 L17.3,37.1 L18.5,38.1 L20.2,38.7" vector-effect="non-scaling-stroke"/>
<path d="M45.4,29.6 L46.1,28.0 L44.6,26.8 L44.3,25.2 L46.1,24.4" vector-effect="non-scaling-stroke"/>
<path d="M49.6,36.9 L47.2,37.7 L44.6,38.0 L42.0,38.0 L39.5,37.2" vector-effect="non-scaling-stroke"/>
<path d="M20.0,14.7 L19.4,17.0 L18.0,19.1 L18.1,21.4 L20.7,22.5" vector-effect="non-scaling-stroke"/>
<path d="M9.2,59.1 L10.4,57.8 L12.3,57.1 L14.0,58.0 L13.6,59.6" vector-effect="non-scaling-stroke"/>
<path d="M41.3,71.2 L43.0,72.6 L44.8,73.8 L47.0,74.6 L49.3,74.1" vector-effect="non-scaling-stroke"/>
<path d="M85.4,14.2 L86.5,16.2 L87.7,18.1 L86.6,20.1 L88.5,21.7" vector-effect="non-scaling-stroke"/>
<path d="M27.2,23.0 L27.3,24.4 L28.1,25.7 L27.2,26.8 L25.5,26.5" vector-effect="non-scaling-stroke"/>
<path d="M73.1,36.0 L72.9,38.4 L71.0,40.2 L72.6,42.2 L75.4,42.9" vector-effect="non-scaling-stroke"/>
<path d="M81.8,57.9 L83.2,56.3 L85.0,55.0 L87.4,55.4 L89.7,54.8" vector-effect="non-scaling-stroke"/>
<path d="M53.2,22.0 L54.1,21.0 L55.6,21.3 L56.3,20.2 L57.4,19.4" vector-effect="non-scaling-stroke"/>
<path d="M63.5,61.8 L61.7,61.3 L61.5,59.8 L63.1,59.0 L63.1,57.5" vector-effect="non-scaling-stroke"/>
<path d="M11.9,9.5 L13.5,8.3 L15.6,8.6 L17.4,9.5 L19.4,8.9" vector-effect="non-scaling-stroke"/>
<path d="M53.6,25.4 L52.5,26.5 L52.8,28.0 L53.6,29.3 L53.5,30.7" vector-effect="non-scaling-stroke"/>
<path d="M54.7,6.2 L56.0,4.2 L58.6,3.4 L58.5,1.2 L58.0,-1.1" vector-effect="non-scaling-stroke"/>
<path d="M9.0,55.7 L11.3,56.6 L12.7,58.3 L15.0,59.3 L16.9,57.9" vector-effect="non-scaling-stroke"/>
<path d="M39.6,24.3 L41.1,23.5 L42.9,22.7 L44.4,23.7 L46.2,23.1" vector-effect="non-scaling-stroke"/>
<path d="M59.5,38.1 L57.9,36.1 L57.7,33.8 L57.6,31.4 L58.1,29.1" vector-effect="non-scaling-stroke"/>
<path d="M9.0,59.2 L10.6,58.3 L12.2,59.3 L14.2,58.7 L14.4,57.1" vector-effect="non-scaling-stroke"/>
<path d="M9.9,59.2 L10.7,57.6 L9.0,56.5 L8.0,54.9 L6.7,53.5" vector-effect="non-scaling-stroke"/>
<path d="M51.6,29.9 L52.0,31.3 L52.7,32.7 L54.3,33.4 L55.3,34.7" vector-effect="non-scaling-stroke"/>
<path d="M79.8,52.9 L78.3,53.7 L76.7,54.6 L75.0,55.0 L73.9,53.8" vector-effect="non-scaling-stroke"/>
<path d="M11.0,36.1 L9.6,34.4 L9.9,32.4 L11.0,30.5 L13.3,29.6" vector-effect="non-scaling-stroke"/>
<path d="M65.8,62.3 L63.7,61.1 L63.9,59.1 L63.5,57.2 L63.7,55.1" vector-effect="non-scaling-stroke"/>
</g>
<g fill="none" stroke="#444444" stroke-width="0.75" stroke-linejoin="round" vector-effect="non-scaling-stroke">
<path d="M30,58 C40,48 52,43 68,41" vector-effect="non-scaling-stroke"/>
<path d="M37,66 C48,59 62,55 80,53" vector-effect="non-scaling-stroke"/>
<path d="M56,2 C53,12 50,23 47,38" vector-effect="non-scaling-stroke"/>
<path d="M33.4,13.4 L32.0,11.6 L30.1,10.1 L27.4,10.4 L24.8,10.7" vector-effect="non-scaling-stroke"/>
<path d="M6.5,32.9 L9.1,33.5 L10.7,35.3 L13.4,35.7 L16.0,34.9" vector-effect="non-scaling-stroke"/>
<path d="M62.0,68.4 L61.5,65.6 L58.5,64.2 L57.4,61.6 L55.0,59.5" vector-effect="non-scaling-stroke"/>
<path d="M16.6,11.1 L17.8,14.6 L18.3,18.2 L17.5,21.8 L17.9,25.4" vector-effect="non-scaling-stroke"/>
<path d="M54.5,7.3 L56.7,9.0 L59.2,10.3 L62.2,10.8 L65.0,11.7" vector-effect="non-scaling-stroke"/>
<path d="M45.6,23.7 L44.6,20.4 L44.3,17.0 L44.1,13.6 L46.9,11.0" vector-effect="non-scaling-stroke"/>
<path d="M71.6,22.9 L74.2,22.2 L77.0,22.7 L79.5,21.7 L81.9,20.7" vector-effect="non-scaling-stroke"/>
<path d="M6.7,49.1 L9.6,47.0 L11.4,44.2 L14.4,42.2 L17.8,40.6" vector-effect="non-scaling-stroke"/>
<path d="M57.5,34.5 L59.9,31.1 L63.5,28.5 L63.3,24.6 L65.1,21.0" vector-effect="non-scaling-stroke"/>
<path d="M63.8,71.5 L64.5,69.0 L66.3,66.8 L65.0,64.5 L63.6,62.2" vector-effect="non-scaling-stroke"/>
<path d="M18.8,11.1 L22.9,9.8 L25.7,7.1 L27.8,3.9 L31.9,2.7" vector-effect="non-scaling-stroke"/>
<path d="M10.6,34.0 L7.8,30.9 L8.3,27.2 L6.8,23.6 L4.5,20.3" vector-effect="non-scaling-stroke"/>
<path d="M36.7,64.0 L38.5,62.2 L38.8,59.9 L37.7,57.8 L36.5,55.7" vector-effect="non-scaling-stroke"/>
<path d="M58.4,21.1 L61.8,20.5 L65.4,20.2 L67.8,22.2 L69.2,24.8" vector-effect="non-scaling-stroke"/>
<path d="M51.5,45.6 L52.3,43.6 L54.4,42.3 L57.0,42.5 L59.1,43.8" vector-effect="non-scaling-stroke"/>
<path d="M39.9,30.5 L43.9,29.8 L45.8,26.9 L45.3,23.7 L42.5,21.3" vector-effect="non-scaling-stroke"/>
<path d="M35.0,6.6 L37.0,5.0 L38.4,3.0 L37.1,0.9 L38.0,-1.3" vector-effect="non-scaling-stroke"/>
<path d="M60.7,13.2 L61.6,15.9 L64.4,17.3 L65.5,19.8 L63.4,22.0" vector-effect="non-scaling-stroke"/>
<path d="M46.8,36.4 L49.5,36.9 L52.2,36.3 L54.7,37.2 L57.3,36.6" vector-effect="non-scaling-stroke"/>
<path d="M5.2,68.6 L2.4,68.0 L0.2,69.5 L-2.1,70.8 L-4.9,70.1" vector-effect="non-scaling-stroke"/>
<path d="M84.2,51.0 L86.1,53.3 L86.2,56.0 L86.2,58.8 L84.4,61.1" vector-effect="non-scaling-stroke"/>
<path d="M34.0,18.4 L38.4,16.6 L43.3,17.1 L46.9,19.8 L48.4,23.6" vector-effect="non-scaling-stroke"/>
<path d="M24.3,38.7 L25.0,40.7 L26.7,42.2 L29.1,43.0 L31.0,44.4" vector-effect="non-scaling-stroke"/>
<path d="M92.9,33.9 L97.2,35.8 L102.1,36.8 L106.8,35.5 L110.0,32.5" vector-effect="non-scaling-stroke"/>
<path d="M21.5,17.1 L21.0,13.3 L20.3,9.6 L21.0,5.8 L24.2,3.0" vector-effect="non-scaling-stroke"/>
<path d="M11.0,48.6 L15.4,48.3 L19.8,47.9 L23.1,45.5 L27.5,44.9" vector-effect="non-scaling-stroke"/>
<path d="M34.3,58.3 L37.5,57.2 L40.5,58.6 L42.5,60.9 L45.8,61.8" vector-effect="non-scaling-stroke"/>
<path d="M14.9,13.4 L16.1,9.9 L19.7,7.7 L24.0,8.8 L27.7,11.0" vector-effect="non-scaling-stroke"/>
<path d="M35.9,40.9 L35.4,42.8 L34.2,44.6 L32.9,46.4 L30.4,46.7" vector-effect="non-scaling-stroke"/>
<path d="M43.8,63.2 L43.7,60.7 L42.5,58.5 L40.0,57.1 L37.9,55.4" vector-effect="non-scaling-stroke"/>
<path d="M27.4,31.9 L31.5,33.8 L35.8,35.5 L39.7,37.7 L40.4,41.5" vector-effect="non-scaling-stroke"/>
<path d="M42.5,66.3 L38.7,66.1 L36.4,68.6 L34.4,71.2 L34.7,74.2" vector-effect="non-scaling-stroke"/>
<path d="M3.4,58.1 L3.5,61.1 L3.2,64.0 L4.2,66.9 L5.1,69.7" vector-effect="non-scaling-stroke"/>
<path d="M55.2,57.1 L59.1,57.6 L62.8,56.8 L66.6,57.6 L70.3,58.4" vector-effect="non-scaling-stroke"/>
<path d="M55.8,55.4 L59.2,54.5 L62.7,53.6 L66.1,52.8 L69.7,53.1" vector-effect="non-scaling-stroke"/>
<path d="M45.5,39.8 L40.8,38.8 L38.3,35.5 L39.8,31.8 L39.1,28.0" vector-effect="non-scaling-stroke"/>
<path d="M55.6,68.1 L55.1,65.9 L54.2,63.7 L51.6,62.8 L48.8,63.0" vector-effect="non-scaling-stroke"/>
<path d="M9.9,49.2 L7.7,45.8 L7.5,42.0 L8.8,38.4 L6.7,34.9" vector-effect="non-scaling-stroke"/>
<path d="M86.0,69.8 L87.9,73.4 L89.9,76.9 L87.3,80.2 L82.7,81.6" vector-effect="non-scaling-stroke"/>
<path d="M18.2,32.8 L15.3,34.1 L13.1,36.1 L10.1,37.3 L9.5,39.9" vector-effect="non-scaling-stroke"/>
<path d="M55.1,33.4 L58.2,34.3 L61.3,35.3 L64.2,34.1 L67.2,35.3" vector-effect="non-scaling-stroke"/>
<path d="M77.1,70.0 L80.2,69.4 L83.2,70.1 L86.3,69.7 L88.3,67.7" vector-effect="non-scaling-stroke"/>
<path d="M42.7,65.9 L41.9,63.5 L43.6,61.3 L45.6,59.4 L48.4,58.3" vector-effect="non-scaling-stroke"/>
<path d="M11.4,7.0 L8.0,6.1 L6.8,3.4 L6.4,0.6 L8.1,-1.9" vector-effect="non-scaling-stroke"/>
<path d="M10.9,62.1 L15.3,63.3 L19.9,63.3 L24.6,63.7 L27.2,66.8" vector-effect="non-scaling-stroke"/>
<path d="M28.2,11.9 L25.6,13.3 L24.8,15.7 L26.6,17.7 L29.5,18.6" vector-effect="non-scaling-stroke"/>
<path d="M32.3,24.0 L32.5,21.5 L30.7,19.3 L28.2,17.7 L25.1,18.4" vector-effect="non-scaling-stroke"/>
<path d="M26.5,4.1 L24.0,1.7 L21.2,-0.5 L21.6,-3.6 L19.1,-5.9" vector-effect="non-scaling-stroke"/>
<path d="M80.0,32.8 L75.5,33.7 L71.1,34.6 L66.5,34.0 L64.5,30.7" vector-effect="non-scaling-stroke"/>
<path d="M35.2,60.4 L33.4,57.5 L30.5,55.1 L26.5,55.4 L23.7,57.8" vector-effect="non-scaling-stroke"/>
<path d="M9.6,54.1 L11.7,55.7 L12.1,58.1 L10.3,59.9 L7.9,61.3" vector-effect="non-scaling-stroke"/>
<path d="M29.5,19.7 L31.0,22.4 L32.8,24.9 L35.9,26.5 L36.1,29.4" vector-effect="non-scaling-stroke"/>
<path d="M94.4,40.7 L96.4,44.3 L99.6,47.3 L104.5,46.8 L109.0,45.4" vector-effect="non-scaling-stroke"/>
<path d="M47.6,37.7 L51.2,38.5 L54.9,37.9 L56.9,35.3 L58.2,32.5" vector-effect="non-scaling-stroke"/>
<path d="M6.9,4.6 L5.4,6.7 L3.7,8.8 L1.0,10.0 L-2.0,10.4" vector-effect="non-scaling-stroke"/>
<path d="M70.3,63.7 L67.1,62.9 L64.1,64.0 L60.8,64.0 L57.6,63.2" vector-effect="non-scaling-stroke"/>
<path d="M7.1,60.6 L11.1,60.0 L14.8,61.3 L18.7,60.3 L22.6,59.4" vector-effect="non-scaling-stroke"/>
<path d="M50.4,60.6 L52.6,57.4 L57.0,56.4 L61.6,56.8 L65.6,58.5" vector-effect="non-scaling-stroke"/>
<path d="M24.6,5.2 L28.0,5.3 L30.6,7.1 L32.9,9.1 L34.4,11.5" vector-effect="non-scaling-stroke"/>
<path d="M61.9,50.0 L59.7,49.0 L58.4,47.2 L57.1,45.5 L56.0,43.7" vector-effect="non-scaling-stroke"/>
</g>
<path d="M27,55 L45,50 L60,44 L68,36 L74,31 L83,35 L81,46 L70,50 L58,56 L40,60 L28,61 Z" fill="#1E50DC"/>
</g>
<use href="#latS" fill="none" stroke="#555" stroke-width="0.6" vector-effect="non-scaling-stroke"/>
</g>
<g transform="translate(566.40 297.60) scale(0.4080 0.4427)">
<use href="#latS" fill="url(#bg1)"/>
<g clip-path="url(#latC)">
<g fill="none" stroke="#C6C6C6" stroke-width="1.3" stroke-linecap="round" vector-effect="non-scaling-stroke">
<path d="M18.5,50.6 L16.3,50.4 L14.9,49.0 L15.1,47.3 L15.4,45.5" vector-effect="non-scaling-stroke"/>
<path d="M50.5,19.3 L52.5,19.7 L53.8,18.4 L55.8,18.2 L57.2,17.0" vector-effect="non-scaling-stroke"/>
<path d="M24.9,5.9 L26.4,7.6 L27.2,9.6 L29.8,9.7 L32.2,8.9" vector-effect="non-scaling-stroke"/>
<path d="M49.8,11.0 L50.5,9.5 L52.4,8.9 L52.9,7.3 L54.9,6.9" vector-effect="non-scaling-stroke"/>
<path d="M45.6,41.1 L46.1,42.8 L48.3,43.1 L49.3,44.6 L51.4,45.3" vector-effect="non-scaling-stroke"/>
<path d="M76.3,17.4 L78.9,18.4 L80.0,20.5 L80.6,22.7 L79.6,24.8" vector-effect="non-scaling-stroke"/>
<path d="M14.5,35.9 L16.3,35.9 L17.3,37.1 L18.5,38.1 L20.2,38.7" vector-effect="non-scaling-stroke"/>
<path d="M45.4,29.6 L46.1,28.0 L44.6,26.8 L44.3,25.2 L46.1,24.4" vector-effect="non-scaling-stroke"/>
<path d="M49.6,36.9 L47.2,37.7 L44.6,38.0 L42.0,38.0 L39.5,37.2" vector-effect="non-scaling-stroke"/>
<path d="M20.0,14.7 L19.4,17.0 L18.0,19.1 L18.1,21.4 L20.7,22.5" vector-effect="non-scaling-stroke"/>
<path d="M9.2,59.1 L10.4,57.8 L12.3,57.1 L14.0,58.0 L13.6,59.6" vector-effect="non-scaling-stroke"/>
<path d="M41.3,71.2 L43.0,72.6 L44.8,73.8 L47.0,74.6 L49.3,74.1" vector-effect="non-scaling-stroke"/>
<path d="M85.4,14.2 L86.5,16.2 L87.7,18.1 L86.6,20.1 L88.5,21.7" vector-effect="non-scaling-stroke"/>
<path d="M27.2,23.0 L27.3,24.4 L28.1,25.7 L27.2,26.8 L25.5,26.5" vector-effect="non-scaling-stroke"/>
<path d="M73.1,36.0 L72.9,38.4 L71.0,40.2 L72.6,42.2 L75.4,42.9" vector-effect="non-scaling-stroke"/>
<path d="M81.8,57.9 L83.2,56.3 L85.0,55.0 L87.4,55.4 L89.7,54.8" vector-effect="non-scaling-stroke"/>
<path d="M53.2,22.0 L54.1,21.0 L55.6,21.3 L56.3,20.2 L57.4,19.4" vector-effect="non-scaling-stroke"/>
<path d="M63.5,61.8 L61.7,61.3 L61.5,59.8 L63.1,59.0 L63.1,57.5" vector-effect="non-scaling-stroke"/>
<path d="M11.9,9.5 L13.5,8.3 L15.6,8.6 L17.4,9.5 L19.4,8.9" vector-effect="non-scaling-stroke"/>
<path d="M53.6,25.4 L52.5,26.5 L52.8,28.0 L53.6,29.3 L53.5,30.7" vector-effect="non-scaling-stroke"/>
<path d="M54.7,6.2 L56.0,4.2 L58.6,3.4 L58.5,1.2 L58.0,-1.1" vector-effect="non-scaling-stroke"/>
<path d="M9.0,55.7 L11.3,56.6 L12.7,58.3 L15.0,59.3 L16.9,57.9" vector-effect="non-scaling-stroke"/>
<path d="M39.6,24.3 L41.1,23.5 L42.9,22.7 L44.4,23.7 L46.2,23.1" vector-effect="non-scaling-stroke"/>
<path d="M59.5,38.1 L57.9,36.1 L57.7,33.8 L57.6,31.4 L58.1,29.1" vector-effect="non-scaling-stroke"/>
<path d="M9.0,59.2 L10.6,58.3 L12.2,59.3 L14.2,58.7 L14.4,57.1" vector-effect="non-scaling-stroke"/>
<path d="M9.9,59.2 L10.7,57.6 L9.0,56.5 L8.0,54.9 L6.7,53.5" vector-effect="non-scaling-stroke"/>
<path d="M51.6,29.9 L52.0,31.3 L52.7,32.7 L54.3,33.4 L55.3,34.7" vector-effect="non-scaling-stroke"/>
<path d="M79.8,52.9 L78.3,53.7 L76.7,54.6 L75.0,55.0 L73.9,53.8" vector-effect="non-scaling-stroke"/>
<path d="M11.0,36.1 L9.6,34.4 L9.9,32.4 L11.0,30.5 L13.3,29.6" vector-effect="non-scaling-stroke"/>
<path d="M65.8,62.3 L63.7,61.1 L63.9,59.1 L63.5,57.2 L63.7,55.1" vector-effect="non-scaling-stroke"/>
</g>
<g fill="none" stroke="#444444" stroke-width="0.75" stroke-linejoin="round" vector-effect="non-scaling-stroke">
<path d="M30,58 C40,48 52,43 68,41" vector-effect="non-scaling-stroke"/>
<path d="M37,66 C48,59 62,55 80,53" vector-effect="non-scaling-stroke"/>
<path d="M56,2 C53,12 50,23 47,38" vector-effect="non-scaling-stroke"/>
<path d="M33.4,13.4 L32.0,11.6 L30.1,10.1 L27.4,10.4 L24.8,10.7" vector-effect="non-scaling-stroke"/>
<path d="M6.5,32.9 L9.1,33.5 L10.7,35.3 L13.4,35.7 L16.0,34.9" vector-effect="non-scaling-stroke"/>
<path d="M62.0,68.4 L61.5,65.6 L58.5,64.2 L57.4,61.6 L55.0,59.5" vector-effect="non-scaling-stroke"/>
<path d="M16.6,11.1 L17.8,14.6 L18.3,18.2 L17.5,21.8 L17.9,25.4" vector-effect="non-scaling-stroke"/>
<path d="M54.5,7.3 L56.7,9.0 L59.2,10.3 L62.2,10.8 L65.0,11.7" vector-effect="non-scaling-stroke"/>
<path d="M45.6,23.7 L44.6,20.4 L44.3,17.0 L44.1,13.6 L46.9,11.0" vector-effect="non-scaling-stroke"/>
<path d="M71.6,22.9 L74.2,22.2 L77.0,22.7 L79.5,21.7 L81.9,20.7" vector-effect="non-scaling-stroke"/>
<path d="M6.7,49.1 L9.6,47.0 L11.4,44.2 L14.4,42.2 L17.8,40.6" vector-effect="non-scaling-stroke"/>
<path d="M57.5,34.5 L59.9,31.1 L63.5,28.5 L63.3,24.6 L65.1,21.0" vector-effect="non-scaling-stroke"/>
<path d="M63.8,71.5 L64.5,69.0 L66.3,66.8 L65.0,64.5 L63.6,62.2" vector-effect="non-scaling-stroke"/>
<path d="M18.8,11.1 L22.9,9.8 L25.7,7.1 L27.8,3.9 L31.9,2.7" vector-effect="non-scaling-stroke"/>
<path d="M10.6,34.0 L7.8,30.9 L8.3,27.2 L6.8,23.6 L4.5,20.3" vector-effect="non-scaling-stroke"/>
<path d="M36.7,64.0 L38.5,62.2 L38.8,59.9 L37.7,57.8 L36.5,55.7" vector-effect="non-scaling-stroke"/>
<path d="M58.4,21.1 L61.8,20.5 L65.4,20.2 L67.8,22.2 L69.2,24.8" vector-effect="non-scaling-stroke"/>
<path d="M51.5,45.6 L52.3,43.6 L54.4,42.3 L57.0,42.5 L59.1,43.8" vector-effect="non-scaling-stroke"/>
<path d="M39.9,30.5 L43.9,29.8 L45.8,26.9 L45.3,23.7 L42.5,21.3" vector-effect="non-scaling-stroke"/>
<path d="M35.0,6.6 L37.0,5.0 L38.4,3.0 L37.1,0.9 L38.0,-1.3" vector-effect="non-scaling-stroke"/>
<path d="M60.7,13.2 L61.6,15.9 L64.4,17.3 L65.5,19.8 L63.4,22.0" vector-effect="non-scaling-stroke"/>
<path d="M46.8,36.4 L49.5,36.9 L52.2,36.3 L54.7,37.2 L57.3,36.6" vector-effect="non-scaling-stroke"/>
<path d="M5.2,68.6 L2.4,68.0 L0.2,69.5 L-2.1,70.8 L-4.9,70.1" vector-effect="non-scaling-stroke"/>
<path d="M84.2,51.0 L86.1,53.3 L86.2,56.0 L86.2,58.8 L84.4,61.1" vector-effect="non-scaling-stroke"/>
<path d="M34.0,18.4 L38.4,16.6 L43.3,17.1 L46.9,19.8 L48.4,23.6" vector-effect="non-scaling-stroke"/>
<path d="M24.3,38.7 L25.0,40.7 L26.7,42.2 L29.1,43.0 L31.0,44.4" vector-effect="non-scaling-stroke"/>
<path d="M92.9,33.9 L97.2,35.8 L102.1,36.8 L106.8,35.5 L110.0,32.5" vector-effect="non-scaling-stroke"/>
<path d="M21.5,17.1 L21.0,13.3 L20.3,9.6 L21.0,5.8 L24.2,3.0" vector-effect="non-scaling-stroke"/>
<path d="M11.0,48.6 L15.4,48.3 L19.8,47.9 L23.1,45.5 L27.5,44.9" vector-effect="non-scaling-stroke"/>
<path d="M34.3,58.3 L37.5,57.2 L40.5,58.6 L42.5,60.9 L45.8,61.8" vector-effect="non-scaling-stroke"/>
<path d="M14.9,13.4 L16.1,9.9 L19.7,7.7 L24.0,8.8 L27.7,11.0" vector-effect="non-scaling-stroke"/>
<path d="M35.9,40.9 L35.4,42.8 L34.2,44.6 L32.9,46.4 L30.4,46.7" vector-effect="non-scaling-stroke"/>
<path d="M43.8,63.2 L43.7,60.7 L42.5,58.5 L40.0,57.1 L37.9,55.4" vector-effect="non-scaling-stroke"/>
<path d="M27.4,31.9 L31.5,33.8 L35.8,35.5 L39.7,37.7 L40.4,41.5" vector-effect="non-scaling-stroke"/>
<path d="M42.5,66.3 L38.7,66.1 L36.4,68.6 L34.4,71.2 L34.7,74.2" vector-effect="non-scaling-stroke"/>
<path d="M3.4,58.1 L3.5,61.1 L3.2,64.0 L4.2,66.9 L5.1,69.7" vector-effect="non-scaling-stroke"/>
<path d="M55.2,57.1 L59.1,57.6 L62.8,56.8 L66.6,57.6 L70.3,58.4" vector-effect="non-scaling-stroke"/>
<path d="M55.8,55.4 L59.2,54.5 L62.7,53.6 L66.1,52.8 L69.7,53.1" vector-effect="non-scaling-stroke"/>
<path d="M45.5,39.8 L40.8,38.8 L38.3,35.5 L39.8,31.8 L39.1,28.0" vector-effect="non-scaling-stroke"/>
<path d="M55.6,68.1 L55.1,65.9 L54.2,63.7 L51.6,62.8 L48.8,63.0" vector-effect="non-scaling-stroke"/>
<path d="M9.9,49.2 L7.7,45.8 L7.5,42.0 L8.8,38.4 L6.7,34.9" vector-effect="non-scaling-stroke"/>
<path d="M86.0,69.8 L87.9,73.4 L89.9,76.9 L87.3,80.2 L82.7,81.6" vector-effect="non-scaling-stroke"/>
<path d="M18.2,32.8 L15.3,34.1 L13.1,36.1 L10.1,37.3 L9.5,39.9" vector-effect="non-scaling-stroke"/>
<path d="M55.1,33.4 L58.2,34.3 L61.3,35.3 L64.2,34.1 L67.2,35.3" vector-effect="non-scaling-stroke"/>
<path d="M77.1,70.0 L80.2,69.4 L83.2,70.1 L86.3,69.7 L88.3,67.7" vector-effect="non-scaling-stroke"/>
<path d="M42.7,65.9 L41.9,63.5 L43.6,61.3 L45.6,59.4 L48.4,58.3" vector-effect="non-scaling-stroke"/>
<path d="M11.4,7.0 L8.0,6.1 L6.8,3.4 L6.4,0.6 L8.1,-1.9" vector-effect="non-scaling-stroke"/>
<path d="M10.9,62.1 L15.3,63.3 L19.9,63.3 L24.6,63.7 L27.2,66.8" vector-effect="non-scaling-stroke"/>
<path d="M28.2,11.9 L25.6,13.3 L24.8,15.7 L26.6,17.7 L29.5,18.6" vector-effect="non-scaling-stroke"/>
<path d="M32.3,24.0 L32.5,21.5 L30.7,19.3 L28.2,17.7 L25.1,18.4" vector-effect="non-scaling-stroke"/>
<path d="M26.5,4.1 L24.0,1.7 L21.2,-0.5 L21.6,-3.6 L19.1,-5.9" vector-effect="non-scaling-stroke"/>
<path d="M80.0,32.8 L75.5,33.7 L71.1,34.6 L66.5,34.0 L64.5,30.7" vector-effect="non-scaling-stroke"/>
<path d="M35.2,60.4 L33.4,57.5 L30.5,55.1 L26.5,55.4 L23.7,57.8" vector-effect="non-scaling-stroke"/>
<path d="M9.6,54.1 L11.7,55.7 L12.1,58.1 L10.3,59.9 L7.9,61.3" vector-effect="non-scaling-stroke"/>
<path d="M29.5,19.7 L31.0,22.4 L32.8,24.9 L35.9,26.5 L36.1,29.4" vector-effect="non-scaling-stroke"/>
<path d="M94.4,40.7 L96.4,44.3 L99.6,47.3 L104.5,46.8 L109.0,45.4" vector-effect="non-scaling-stroke"/>
<path d="M47.6,37.7 L51.2,38.5 L54.9,37.9 L56.9,35.3 L58.2,32.5" vector-effect="non-scaling-stroke"/>
<path d="M6.9,4.6 L5.4,6.7 L3.7,8.8 L1.0,10.0 L-2.0,10.4" vector-effect="non-scaling-stroke"/>
<path d="M70.3,63.7 L67.1,62.9 L64.1,64.0 L60.8,64.0 L57.6,63.2" vector-effect="non-scaling-stroke"/>
<path d="M7.1,60.6 L11.1,60.0 L14.8,61.3 L18.7,60.3 L22.6,59.4" vector-effect="non-scaling-stroke"/>
<path d="M50.4,60.6 L52.6,57.4 L57.0,56.4 L61.6,56.8 L65.6,58.5" vector-effect="non-scaling-stroke"/>
<path d="M24.6,5.2 L28.0,5.3 L30.6,7.1 L32.9,9.1 L34.4,11.5" vector-effect="non-scaling-stroke"/>
<path d="M61.9,50.0 L59.7,49.0 L58.4,47.2 L57.1,45.5 L56.0,43.7" vector-effect="non-scaling-stroke"/>
</g>
<path d="M30,32 L40,30 L44,40 L48,46 L44,54 L32,54 L28,44 Z" fill="#E448F4"/>
<path d="M52,26 L62,22 L66,32 L54,35 Z" fill="#E448F4"/>
</g>
<use href="#latS" fill="none" stroke="#555" stroke-width="0.6" vector-effect="non-scaling-stroke"/>
</g>
<g transform="translate(481.50 327.30) scale(0.4210 0.4440)">
<use href="#latS" fill="url(#bg1)"/>
<g clip-path="url(#latC)">
<g fill="none" stroke="#C6C6C6" stroke-width="1.3" stroke-linecap="round" vector-effect="non-scaling-stroke">
<path d="M18.5,50.6 L16.3,50.4 L14.9,49.0 L15.1,47.3 L15.4,45.5" vector-effect="non-scaling-stroke"/>
<path d="M50.5,19.3 L52.5,19.7 L53.8,18.4 L55.8,18.2 L57.2,17.0" vector-effect="non-scaling-stroke"/>
<path d="M24.9,5.9 L26.4,7.6 L27.2,9.6 L29.8,9.7 L32.2,8.9" vector-effect="non-scaling-stroke"/>
<path d="M49.8,11.0 L50.5,9.5 L52.4,8.9 L52.9,7.3 L54.9,6.9" vector-effect="non-scaling-stroke"/>
<path d="M45.6,41.1 L46.1,42.8 L48.3,43.1 L49.3,44.6 L51.4,45.3" vector-effect="non-scaling-stroke"/>
<path d="M76.3,17.4 L78.9,18.4 L80.0,20.5 L80.6,22.7 L79.6,24.8" vector-effect="non-scaling-stroke"/>
<path d="M14.5,35.9 L16.3,35.9 L17.3,37.1 L18.5,38.1 L20.2,38.7" vector-effect="non-scaling-stroke"/>
<path d="M45.4,29.6 L46.1,28.0 L44.6,26.8 L44.3,25.2 L46.1,24.4" vector-effect="non-scaling-stroke"/>
<path d="M49.6,36.9 L47.2,37.7 L44.6,38.0 L42.0,38.0 L39.5,37.2" vector-effect="non-scaling-stroke"/>
<path d="M20.0,14.7 L19.4,17.0 L18.0,19.1 L18.1,21.4 L20.7,22.5" vector-effect="non-scaling-stroke"/>
<path d="M9.2,59.1 L10.4,57.8 L12.3,57.1 L14.0,58.0 L13.6,59.6" vector-effect="non-scaling-stroke"/>
<path d="M41.3,71.2 L43.0,72.6 L44.8,73.8 L47.0,74.6 L49.3,74.1" vector-effect="non-scaling-stroke"/>
<path d="M85.4,14.2 L86.5,16.2 L87.7,18.1 L86.6,20.1 L88.5,21.7" vector-effect="non-scaling-stroke"/>
<path d="M27.2,23.0 L27.3,24.4 L28.1,25.7 L27.2,26.8 L25.5,26.5" vector-effect="non-scaling-stroke"/>
<path d="M73.1,36.0 L72.9,38.4 L71.0,40.2 L72.6,42.2 L75.4,42.9" vector-effect="non-scaling-stroke"/>
<path d="M81.8,57.9 L83.2,56.3 L85.0,55.0 L87.4,55.4 L89.7,54.8" vector-effect="non-scaling-stroke"/>
<path d="M53.2,22.0 L54.1,21.0 L55.6,21.3 L56.3,20.2 L57.4,19.4" vector-effect="non-scaling-stroke"/>
<path d="M63.5,61.8 L61.7,61.3 L61.5,59.8 L63.1,59.0 L63.1,57.5" vector-effect="non-scaling-stroke"/>
<path d="M11.9,9.5 L13.5,8.3 L15.6,8.6 L17.4,9.5 L19.4,8.9" vector-effect="non-scaling-stroke"/>
<path d="M53.6,25.4 L52.5,26.5 L52.8,28.0 L53.6,29.3 L53.5,30.7" vector-effect="non-scaling-stroke"/>
<path d="M54.7,6.2 L56.0,4.2 L58.6,3.4 L58.5,1.2 L58.0,-1.1" vector-effect="non-scaling-stroke"/>
<path d="M9.0,55.7 L11.3,56.6 L12.7,58.3 L15.0,59.3 L16.9,57.9" vector-effect="non-scaling-stroke"/>
<path d="M39.6,24.3 L41.1,23.5 L42.9,22.7 L44.4,23.7 L46.2,23.1" vector-effect="non-scaling-stroke"/>
<path d="M59.5,38.1 L57.9,36.1 L57.7,33.8 L57.6,31.4 L58.1,29.1" vector-effect="non-scaling-stroke"/>
<path d="M9.0,59.2 L10.6,58.3 L12.2,59.3 L14.2,58.7 L14.4,57.1" vector-effect="non-scaling-stroke"/>
<path d="M9.9,59.2 L10.7,57.6 L9.0,56.5 L8.0,54.9 L6.7,53.5" vector-effect="non-scaling-stroke"/>
<path d="M51.6,29.9 L52.0,31.3 L52.7,32.7 L54.3,33.4 L55.3,34.7" vector-effect="non-scaling-stroke"/>
<path d="M79.8,52.9 L78.3,53.7 L76.7,54.6 L75.0,55.0 L73.9,53.8" vector-effect="non-scaling-stroke"/>
<path d="M11.0,36.1 L9.6,34.4 L9.9,32.4 L11.0,30.5 L13.3,29.6" vector-effect="non-scaling-stroke"/>
<path d="M65.8,62.3 L63.7,61.1 L63.9,59.1 L63.5,57.2 L63.7,55.1" vector-effect="non-scaling-stroke"/>
</g>
<g fill="none" stroke="#444444" stroke-width="0.75" stroke-linejoin="round" vector-effect="non-scaling-stroke">
<path d="M30,58 C40,48 52,43 68,41" vector-effect="non-scaling-stroke"/>
<path d="M37,66 C48,59 62,55 80,53" vector-effect="non-scaling-stroke"/>
<path d="M56,2 C53,12 50,23 47,38" vector-effect="non-scaling-stroke"/>
<path d="M33.4,13.4 L32.0,11.6 L30.1,10.1 L27.4,10.4 L24.8,10.7" vector-effect="non-scaling-stroke"/>
<path d="M6.5,32.9 L9.1,33.5 L10.7,35.3 L13.4,35.7 L16.0,34.9" vector-effect="non-scaling-stroke"/>
<path d="M62.0,68.4 L61.5,65.6 L58.5,64.2 L57.4,61.6 L55.0,59.5" vector-effect="non-scaling-stroke"/>
<path d="M16.6,11.1 L17.8,14.6 L18.3,18.2 L17.5,21.8 L17.9,25.4" vector-effect="non-scaling-stroke"/>
<path d="M54.5,7.3 L56.7,9.0 L59.2,10.3 L62.2,10.8 L65.0,11.7" vector-effect="non-scaling-stroke"/>
<path d="M45.6,23.7 L44.6,20.4 L44.3,17.0 L44.1,13.6 L46.9,11.0" vector-effect="non-scaling-stroke"/>
<path d="M71.6,22.9 L74.2,22.2 L77.0,22.7 L79.5,21.7 L81.9,20.7" vector-effect="non-scaling-stroke"/>
<path d="M6.7,49.1 L9.6,47.0 L11.4,44.2 L14.4,42.2 L17.8,40.6" vector-effect="non-scaling-stroke"/>
<path d="M57.5,34.5 L59.9,31.1 L63.5,28.5 L63.3,24.6 L65.1,21.0" vector-effect="non-scaling-stroke"/>
<path d="M63.8,71.5 L64.5,69.0 L66.3,66.8 L65.0,64.5 L63.6,62.2" vector-effect="non-scaling-stroke"/>
<path d="M18.8,11.1 L22.9,9.8 L25.7,7.1 L27.8,3.9 L31.9,2.7" vector-effect="non-scaling-stroke"/>
<path d="M10.6,34.0 L7.8,30.9 L8.3,27.2 L6.8,23.6 L4.5,20.3" vector-effect="non-scaling-stroke"/>
<path d="M36.7,64.0 L38.5,62.2 L38.8,59.9 L37.7,57.8 L36.5,55.7" vector-effect="non-scaling-stroke"/>
<path d="M58.4,21.1 L61.8,20.5 L65.4,20.2 L67.8,22.2 L69.2,24.8" vector-effect="non-scaling-stroke"/>
<path d="M51.5,45.6 L52.3,43.6 L54.4,42.3 L57.0,42.5 L59.1,43.8" vector-effect="non-scaling-stroke"/>
<path d="M39.9,30.5 L43.9,29.8 L45.8,26.9 L45.3,23.7 L42.5,21.3" vector-effect="non-scaling-stroke"/>
<path d="M35.0,6.6 L37.0,5.0 L38.4,3.0 L37.1,0.9 L38.0,-1.3" vector-effect="non-scaling-stroke"/>
<path d="M60.7,13.2 L61.6,15.9 L64.4,17.3 L65.5,19.8 L63.4,22.0" vector-effect="non-scaling-stroke"/>
<path d="M46.8,36.4 L49.5,36.9 L52.2,36.3 L54.7,37.2 L57.3,36.6" vector-effect="non-scaling-stroke"/>
<path d="M5.2,68.6 L2.4,68.0 L0.2,69.5 L-2.1,70.8 L-4.9,70.1" vector-effect="non-scaling-stroke"/>
<path d="M84.2,51.0 L86.1,53.3 L86.2,56.0 L86.2,58.8 L84.4,61.1" vector-effect="non-scaling-stroke"/>
<path d="M34.0,18.4 L38.4,16.6 L43.3,17.1 L46.9,19.8 L48.4,23.6" vector-effect="non-scaling-stroke"/>
<path d="M24.3,38.7 L25.0,40.7 L26.7,42.2 L29.1,43.0 L31.0,44.4" vector-effect="non-scaling-stroke"/>
<path d="M92.9,33.9 L97.2,35.8 L102.1,36.8 L106.8,35.5 L110.0,32.5" vector-effect="non-scaling-stroke"/>
<path d="M21.5,17.1 L21.0,13.3 L20.3,9.6 L21.0,5.8 L24.2,3.0" vector-effect="non-scaling-stroke"/>
<path d="M11.0,48.6 L15.4,48.3 L19.8,47.9 L23.1,45.5 L27.5,44.9" vector-effect="non-scaling-stroke"/>
<path d="M34.3,58.3 L37.5,57.2 L40.5,58.6 L42.5,60.9 L45.8,61.8" vector-effect="non-scaling-stroke"/>
<path d="M14.9,13.4 L16.1,9.9 L19.7,7.7 L24.0,8.8 L27.7,11.0" vector-effect="non-scaling-stroke"/>
<path d="M35.9,40.9 L35.4,42.8 L34.2,44.6 L32.9,46.4 L30.4,46.7" vector-effect="non-scaling-stroke"/>
<path d="M43.8,63.2 L43.7,60.7 L42.5,58.5 L40.0,57.1 L37.9,55.4" vector-effect="non-scaling-stroke"/>
<path d="M27.4,31.9 L31.5,33.8 L35.8,35.5 L39.7,37.7 L40.4,41.5" vector-effect="non-scaling-stroke"/>
<path d="M42.5,66.3 L38.7,66.1 L36.4,68.6 L34.4,71.2 L34.7,74.2" vector-effect="non-scaling-stroke"/>
<path d="M3.4,58.1 L3.5,61.1 L3.2,64.0 L4.2,66.9 L5.1,69.7" vector-effect="non-scaling-stroke"/>
<path d="M55.2,57.1 L59.1,57.6 L62.8,56.8 L66.6,57.6 L70.3,58.4" vector-effect="non-scaling-stroke"/>
<path d="M55.8,55.4 L59.2,54.5 L62.7,53.6 L66.1,52.8 L69.7,53.1" vector-effect="non-scaling-stroke"/>
<path d="M45.5,39.8 L40.8,38.8 L38.3,35.5 L39.8,31.8 L39.1,28.0" vector-effect="non-scaling-stroke"/>
<path d="M55.6,68.1 L55.1,65.9 L54.2,63.7 L51.6,62.8 L48.8,63.0" vector-effect="non-scaling-stroke"/>
<path d="M9.9,49.2 L7.7,45.8 L7.5,42.0 L8.8,38.4 L6.7,34.9" vector-effect="non-scaling-stroke"/>
<path d="M86.0,69.8 L87.9,73.4 L89.9,76.9 L87.3,80.2 L82.7,81.6" vector-effect="non-scaling-stroke"/>
<path d="M18.2,32.8 L15.3,34.1 L13.1,36.1 L10.1,37.3 L9.5,39.9" vector-effect="non-scaling-stroke"/>
<path d="M55.1,33.4 L58.2,34.3 L61.3,35.3 L64.2,34.1 L67.2,35.3" vector-effect="non-scaling-stroke"/>
<path d="M77.1,70.0 L80.2,69.4 L83.2,70.1 L86.3,69.7 L88.3,67.7" vector-effect="non-scaling-stroke"/>
<path d="M42.7,65.9 L41.9,63.5 L43.6,61.3 L45.6,59.4 L48.4,58.3" vector-effect="non-scaling-stroke"/>
<path d="M11.4,7.0 L8.0,6.1 L6.8,3.4 L6.4,0.6 L8.1,-1.9" vector-effect="non-scaling-stroke"/>
<path d="M10.9,62.1 L15.3,63.3 L19.9,63.3 L24.6,63.7 L27.2,66.8" vector-effect="non-scaling-stroke"/>
<path d="M28.2,11.9 L25.6,13.3 L24.8,15.7 L26.6,17.7 L29.5,18.6" vector-effect="non-scaling-stroke"/>
<path d="M32.3,24.0 L32.5,21.5 L30.7,19.3 L28.2,17.7 L25.1,18.4" vector-effect="non-scaling-stroke"/>
<path d="M26.5,4.1 L24.0,1.7 L21.2,-0.5 L21.6,-3.6 L19.1,-5.9" vector-effect="non-scaling-stroke"/>
<path d="M80.0,32.8 L75.5,33.7 L71.1,34.6 L66.5,34.0 L64.5,30.7" vector-effect="non-scaling-stroke"/>
<path d="M35.2,60.4 L33.4,57.5 L30.5,55.1 L26.5,55.4 L23.7,57.8" vector-effect="non-scaling-stroke"/>
<path d="M9.6,54.1 L11.7,55.7 L12.1,58.1 L10.3,59.9 L7.9,61.3" vector-effect="non-scaling-stroke"/>
<path d="M29.5,19.7 L31.0,22.4 L32.8,24.9 L35.9,26.5 L36.1,29.4" vector-effect="non-scaling-stroke"/>
<path d="M94.4,40.7 L96.4,44.3 L99.6,47.3 L104.5,46.8 L109.0,45.4" vector-effect="non-scaling-stroke"/>
<path d="M47.6,37.7 L51.2,38.5 L54.9,37.9 L56.9,35.3 L58.2,32.5" vector-effect="non-scaling-stroke"/>
<path d="M6.9,4.6 L5.4,6.7 L3.7,8.8 L1.0,10.0 L-2.0,10.4" vector-effect="non-scaling-stroke"/>
<path d="M70.3,63.7 L67.1,62.9 L64.1,64.0 L60.8,64.0 L57.6,63.2" vector-effect="non-scaling-stroke"/>
<path d="M7.1,60.6 L11.1,60.0 L14.8,61.3 L18.7,60.3 L22.6,59.4" vector-effect="non-scaling-stroke"/>
<path d="M50.4,60.6 L52.6,57.4 L57.0,56.4 L61.6,56.8 L65.6,58.5" vector-effect="non-scaling-stroke"/>
<path d="M24.6,5.2 L28.0,5.3 L30.6,7.1 L32.9,9.1 L34.4,11.5" vector-effect="non-scaling-stroke"/>
<path d="M61.9,50.0 L59.7,49.0 L58.4,47.2 L57.1,45.5 L56.0,43.7" vector-effect="non-scaling-stroke"/>
</g>
<path d="M8.0,34.0 A5.0,6.0 0 1 1 18.0,34.0 A5.0,6.0 0 1 1 8.0,34.0 Z" fill="#F0A0E0"/>
<path d="M16.0,54.0 A6.0,6.0 0 1 1 28.0,54.0 A6.0,6.0 0 1 1 16.0,54.0 Z" fill="#F0A0E0"/>
</g>
<use href="#latS" fill="none" stroke="#555" stroke-width="0.6" vector-effect="non-scaling-stroke"/>
</g>
<g transform="translate(423.20 319.00) scale(0.4080 0.4267)">
<use href="#medS" fill="url(#bg1)"/>
<g clip-path="url(#medC)">
<g fill="none" stroke="#C6C6C6" stroke-width="1.3" stroke-linecap="round" vector-effect="non-scaling-stroke">
<path d="M89.9,68.5 L91.4,67.9 L92.7,67.1 L94.1,66.4 L94.2,65.1" vector-effect="non-scaling-stroke"/>
<path d="M21.0,33.7 L23.2,33.9 L24.5,32.5 L26.5,31.9 L28.4,30.9" vector-effect="non-scaling-stroke"/>
<path d="M51.2,53.7 L49.6,53.8 L48.0,53.7 L46.6,53.1 L45.5,52.2" vector-effect="non-scaling-stroke"/>
<path d="M94.2,28.0 L94.8,26.4 L96.0,25.1 L96.4,23.5 L94.8,22.5" vector-effect="non-scaling-stroke"/>
<path d="M47.6,52.5 L46.3,51.1 L44.1,50.9 L42.5,52.1 L41.7,53.7" vector-effect="non-scaling-stroke"/>
<path d="M79.7,16.5 L81.2,15.9 L82.0,14.7 L83.0,13.7 L84.7,13.7" vector-effect="non-scaling-stroke"/>
<path d="M34.1,28.5 L32.5,29.4 L30.8,30.1 L29.9,31.5 L30.9,32.9" vector-effect="non-scaling-stroke"/>
<path d="M76.7,51.8 L77.7,50.6 L79.6,50.8 L81.3,51.3 L81.4,52.8" vector-effect="non-scaling-stroke"/>
<path d="M18.7,70.3 L20.1,69.0 L22.2,68.8 L24.1,69.5 L24.0,71.2" vector-effect="non-scaling-stroke"/>
<path d="M78.7,68.5 L76.8,66.6 L74.2,65.5 L74.6,63.1 L74.1,60.8" vector-effect="non-scaling-stroke"/>
<path d="M21.2,8.2 L20.1,7.1 L21.0,5.8 L20.6,4.4 L18.9,4.0" vector-effect="non-scaling-stroke"/>
<path d="M52.7,14.7 L50.2,15.5 L47.9,16.7 L45.5,15.7 L42.9,15.0" vector-effect="non-scaling-stroke"/>
<path d="M35.2,64.6 L37.4,63.1 L39.2,61.3 L41.8,60.4 L44.3,61.4" vector-effect="non-scaling-stroke"/>
<path d="M63.1,19.5 L61.3,20.4 L59.4,21.1 L57.4,21.6 L55.6,20.7" vector-effect="non-scaling-stroke"/>
<path d="M13.2,46.6 L10.9,46.9 L9.3,48.3 L7.1,47.7 L5.4,48.9" vector-effect="non-scaling-stroke"/>
<path d="M55.8,40.4 L56.2,42.2 L56.9,44.0 L56.3,45.8 L58.3,46.8" vector-effect="non-scaling-stroke"/>
<path d="M38.5,57.2 L41.2,57.5 L43.6,58.7 L46.3,58.2 L48.9,57.3" vector-effect="non-scaling-stroke"/>
<path d="M42.7,8.6 L43.1,6.9 L43.7,5.2 L44.6,3.6 L45.7,2.0" vector-effect="non-scaling-stroke"/>
<path d="M31.0,65.0 L31.2,67.3 L31.5,69.5 L29.8,71.3 L27.3,72.4" vector-effect="non-scaling-stroke"/>
<path d="M59.9,23.1 L60.0,24.7 L58.2,25.4 L56.9,26.7 L56.1,28.2" vector-effect="non-scaling-stroke"/>
<path d="M42.4,59.3 L40.8,60.6 L40.3,62.5 L42.0,63.7 L44.4,63.7" vector-effect="non-scaling-stroke"/>
<path d="M27.8,61.8 L26.1,61.9 L25.3,63.1 L24.3,64.1 L23.5,65.3" vector-effect="non-scaling-stroke"/>
</g>
<g fill="none" stroke="#444444" stroke-width="0.75" stroke-linejoin="round" vector-effect="non-scaling-stroke">
<path d="M20,20 C35,14 55,13 75,18 C84,21 90,26 94,32" vector-effect="non-scaling-stroke"/>
<path d="M14,34 C24,26 40,22 56,22" vector-effect="non-scaling-stroke"/>
<path d="M45.5,41.6 L48.8,40.3 L52.3,39.5 L54.6,37.2 L56.9,34.9" vector-effect="non-scaling-stroke"/>
<path d="M62.2,57.7 L65.4,57.1 L68.4,58.1 L70.7,60.0 L73.9,59.6" vector-effect="non-scaling-stroke"/>
<path d="M95.3,69.6 L91.4,68.7 L88.3,70.7 L85.1,72.6 L84.8,75.9" vector-effect="non-scaling-stroke"/>
<path d="M20.9,19.7 L24.5,19.9 L27.2,21.9 L29.8,24.0 L31.5,26.6" vector-effect="non-scaling-stroke"/>
<path d="M50.0,48.7 L47.6,47.0 L48.1,44.5 L50.4,42.8 L53.4,41.9" vector-effect="non-scaling-stroke"/>
<path d="M32.6,18.8 L30.8,20.4 L29.3,22.2 L26.7,22.8 L24.4,23.9" vector-effect="non-scaling-stroke"/>
<path d="M93.1,61.5 L95.1,63.2 L97.3,64.9 L96.8,67.3 L97.0,69.7" vector-effect="non-scaling-stroke"/>
<path d="M9.9,46.4 L8.0,44.4 L5.3,43.0 L5.1,40.5 L6.6,38.2" vector-effect="non-scaling-stroke"/>
<path d="M14.1,20.0 L15.0,22.0 L17.2,23.2 L19.2,24.5 L21.4,25.7" vector-effect="non-scaling-stroke"/>
<path d="M20.9,53.5 L25.0,53.7 L29.1,53.3 L32.3,51.3 L34.0,48.3" vector-effect="non-scaling-stroke"/>
<path d="M94.3,58.4 L95.4,62.1 L97.4,65.5 L96.2,69.1 L93.8,72.4" vector-effect="non-scaling-stroke"/>
<path d="M12.4,71.3 L11.5,73.7 L11.5,76.2 L12.9,78.5 L15.9,79.2" vector-effect="non-scaling-stroke"/>
<path d="M11.5,43.2 L12.7,46.3 L14.2,49.2 L12.2,52.0 L10.3,54.8" vector-effect="non-scaling-stroke"/>
<path d="M57.0,62.8 L55.9,64.9 L53.4,66.1 L52.0,68.1 L52.2,70.4" vector-effect="non-scaling-stroke"/>
<path d="M72.5,67.9 L70.5,71.4 L67.6,74.6 L65.3,78.0 L66.8,81.7" vector-effect="non-scaling-stroke"/>
<path d="M6.6,69.4 L8.9,72.3 L8.5,75.7 L7.3,79.0 L7.9,82.4" vector-effect="non-scaling-stroke"/>
<path d="M19.5,52.7 L22.1,54.0 L23.1,56.3 L23.3,58.8 L24.9,60.9" vector-effect="non-scaling-stroke"/>
<path d="M89.2,17.1 L92.4,17.1 L94.4,15.1 L94.5,12.6 L93.8,10.1" vector-effect="non-scaling-stroke"/>
<path d="M56.8,12.1 L52.1,11.7 L47.7,10.2 L44.4,7.5 L41.7,4.4" vector-effect="non-scaling-stroke"/>
<path d="M16.2,5.4 L20.4,7.3 L21.0,11.1 L25.2,12.9 L28.7,15.5" vector-effect="non-scaling-stroke"/>
<path d="M48.3,53.4 L50.4,57.1 L51.9,60.9 L51.2,64.8 L47.1,67.1" vector-effect="non-scaling-stroke"/>
<path d="M72.3,51.6 L72.2,47.7 L73.8,44.1 L78.2,42.5 L82.7,43.7" vector-effect="non-scaling-stroke"/>
<path d="M42.2,57.5 L45.4,55.8 L48.1,53.4 L51.1,51.4 L54.6,50.0" vector-effect="non-scaling-stroke"/>
<path d="M10.5,47.1 L14.8,48.6 L19.5,49.3 L23.2,51.7 L26.4,54.4" vector-effect="non-scaling-stroke"/>
<path d="M44.4,60.8 L48.4,59.4 L52.7,58.7 L56.9,57.8 L60.0,55.4" vector-effect="non-scaling-stroke"/>
<path d="M68.6,37.3 L64.0,36.4 L60.4,39.0 L58.5,42.5 L55.1,45.3" vector-effect="non-scaling-stroke"/>
<path d="M22.0,14.7 L25.2,12.5 L29.3,12.8 L33.3,11.9 L37.5,12.1" vector-effect="non-scaling-stroke"/>
<path d="M21.7,32.7 L26.0,31.0 L29.6,28.6 L33.8,26.7 L36.8,23.7" vector-effect="non-scaling-stroke"/>
<path d="M15.8,37.3 L19.6,35.2 L24.0,36.3 L28.6,35.7 L31.8,33.0" vector-effect="non-scaling-stroke"/>
<path d="M45.4,22.0 L45.3,24.8 L45.2,27.6 L46.5,30.3 L45.3,33.0" vector-effect="non-scaling-stroke"/>
<path d="M95.3,34.2 L96.2,36.2 L98.7,36.8 L100.6,38.1 L102.3,39.7" vector-effect="non-scaling-stroke"/>
<path d="M32.0,57.6 L34.9,57.7 L36.6,55.9 L39.3,55.3 L41.4,53.7" vector-effect="non-scaling-stroke"/>
<path d="M16.2,6.2 L14.5,3.7 L13.8,0.9 L15.3,-1.8 L18.8,-2.4" vector-effect="non-scaling-stroke"/>
<path d="M67.3,16.8 L66.1,18.9 L65.0,21.1 L62.9,22.7 L62.4,25.0" vector-effect="non-scaling-stroke"/>
<path d="M28.6,26.9 L28.2,23.8 L29.7,21.0 L30.5,18.1 L33.2,15.9" vector-effect="non-scaling-stroke"/>
<path d="M88.2,9.0 L89.9,5.9 L91.2,2.6 L93.5,-0.3 L97.8,-1.0" vector-effect="non-scaling-stroke"/>
<path d="M38.4,42.2 L42.9,42.7 L47.4,42.9 L51.6,44.2 L55.9,43.4" vector-effect="non-scaling-stroke"/>
<path d="M70.9,59.5 L66.8,58.4 L64.9,55.3 L67.0,52.3 L71.2,51.9" vector-effect="non-scaling-stroke"/>
<path d="M53.5,57.6 L49.1,59.1 L45.5,61.6 L45.4,65.4 L45.9,69.2" vector-effect="non-scaling-stroke"/>
<path d="M54.7,56.0 L52.5,55.0 L50.1,55.6 L47.6,55.1 L45.2,55.9" vector-effect="non-scaling-stroke"/>
<path d="M34.5,57.4 L36.2,59.2 L36.8,61.4 L35.5,63.5 L33.4,65.0" vector-effect="non-scaling-stroke"/>
<path d="M91.9,37.0 L93.6,35.3 L95.5,33.7 L96.4,31.7 L98.3,30.1" vector-effect="non-scaling-stroke"/>
<path d="M63.1,39.1 L63.9,36.0 L63.8,32.9 L66.2,30.4 L70.1,30.1" vector-effect="non-scaling-stroke"/>
<path d="M22.6,61.7 L26.4,61.5 L29.4,59.7 L32.6,58.0 L35.8,56.4" vector-effect="non-scaling-stroke"/>
</g>
<path d="M8,14 C18,8 32,8 44,12 L42,22 C32,20 22,22 14,30 L8,26 Z" fill="#7898C8"/>
<path d="M34,33 C42,29.5 52,28.5 62,29 C67,29.3 71,30 73,31.5 L72.5,35 L77,36.5 L75.5,40.5 L79,43 L76.5,47 L78.5,50 L73.5,53 L72.5,58 L69.5,62 C66,66 61,69 56,69.5 C50,67.5 44,63 40,58.5 C35.5,53 32.5,46 32.2,40 C32,37 32.8,34.6 34,33 Z" fill="#222"/>
</g>
<use href="#medS" fill="none" stroke="#555" stroke-width="0.6" vector-effect="non-scaling-stroke"/>
</g>
<g transform="translate(379.40 288.50) scale(0.4160 0.4253)">
<use href="#latS" fill="url(#bg1)"/>
<g clip-path="url(#latC)">
<g fill="none" stroke="#C6C6C6" stroke-width="1.3" stroke-linecap="round" vector-effect="non-scaling-stroke">
<path d="M18.5,50.6 L16.3,50.4 L14.9,49.0 L15.1,47.3 L15.4,45.5" vector-effect="non-scaling-stroke"/>
<path d="M50.5,19.3 L52.5,19.7 L53.8,18.4 L55.8,18.2 L57.2,17.0" vector-effect="non-scaling-stroke"/>
<path d="M24.9,5.9 L26.4,7.6 L27.2,9.6 L29.8,9.7 L32.2,8.9" vector-effect="non-scaling-stroke"/>
<path d="M49.8,11.0 L50.5,9.5 L52.4,8.9 L52.9,7.3 L54.9,6.9" vector-effect="non-scaling-stroke"/>
<path d="M45.6,41.1 L46.1,42.8 L48.3,43.1 L49.3,44.6 L51.4,45.3" vector-effect="non-scaling-stroke"/>
<path d="M76.3,17.4 L78.9,18.4 L80.0,20.5 L80.6,22.7 L79.6,24.8" vector-effect="non-scaling-stroke"/>
<path d="M14.5,35.9 L16.3,35.9 L17.3,37.1 L18.5,38.1 L20.2,38.7" vector-effect="non-scaling-stroke"/>
<path d="M45.4,29.6 L46.1,28.0 L44.6,26.8 L44.3,25.2 L46.1,24.4" vector-effect="non-scaling-stroke"/>
<path d="M49.6,36.9 L47.2,37.7 L44.6,38.0 L42.0,38.0 L39.5,37.2" vector-effect="non-scaling-stroke"/>
<path d="M20.0,14.7 L19.4,17.0 L18.0,19.1 L18.1,21.4 L20.7,22.5" vector-effect="non-scaling-stroke"/>
<path d="M9.2,59.1 L10.4,57.8 L12.3,57.1 L14.0,58.0 L13.6,59.6" vector-effect="non-scaling-stroke"/>
<path d="M41.3,71.2 L43.0,72.6 L44.8,73.8 L47.0,74.6 L49.3,74.1" vector-effect="non-scaling-stroke"/>
<path d="M85.4,14.2 L86.5,16.2 L87.7,18.1 L86.6,20.1 L88.5,21.7" vector-effect="non-scaling-stroke"/>
<path d="M27.2,23.0 L27.3,24.4 L28.1,25.7 L27.2,26.8 L25.5,26.5" vector-effect="non-scaling-stroke"/>
<path d="M73.1,36.0 L72.9,38.4 L71.0,40.2 L72.6,42.2 L75.4,42.9" vector-effect="non-scaling-stroke"/>
<path d="M81.8,57.9 L83.2,56.3 L85.0,55.0 L87.4,55.4 L89.7,54.8" vector-effect="non-scaling-stroke"/>
<path d="M53.2,22.0 L54.1,21.0 L55.6,21.3 L56.3,20.2 L57.4,19.4" vector-effect="non-scaling-stroke"/>
<path d="M63.5,61.8 L61.7,61.3 L61.5,59.8 L63.1,59.0 L63.1,57.5" vector-effect="non-scaling-stroke"/>
<path d="M11.9,9.5 L13.5,8.3 L15.6,8.6 L17.4,9.5 L19.4,8.9" vector-effect="non-scaling-stroke"/>
<path d="M53.6,25.4 L52.5,26.5 L52.8,28.0 L53.6,29.3 L53.5,30.7" vector-effect="non-scaling-stroke"/>
<path d="M54.7,6.2 L56.0,4.2 L58.6,3.4 L58.5,1.2 L58.0,-1.1" vector-effect="non-scaling-stroke"/>
<path d="M9.0,55.7 L11.3,56.6 L12.7,58.3 L15.0,59.3 L16.9,57.9" vector-effect="non-scaling-stroke"/>
<path d="M39.6,24.3 L41.1,23.5 L42.9,22.7 L44.4,23.7 L46.2,23.1" vector-effect="non-scaling-stroke"/>
<path d="M59.5,38.1 L57.9,36.1 L57.7,33.8 L57.6,31.4 L58.1,29.1" vector-effect="non-scaling-stroke"/>
<path d="M9.0,59.2 L10.6,58.3 L12.2,59.3 L14.2,58.7 L14.4,57.1" vector-effect="non-scaling-stroke"/>
<path d="M9.9,59.2 L10.7,57.6 L9.0,56.5 L8.0,54.9 L6.7,53.5" vector-effect="non-scaling-stroke"/>
<path d="M51.6,29.9 L52.0,31.3 L52.7,32.7 L54.3,33.4 L55.3,34.7" vector-effect="non-scaling-stroke"/>
<path d="M79.8,52.9 L78.3,53.7 L76.7,54.6 L75.0,55.0 L73.9,53.8" vector-effect="non-scaling-stroke"/>
<path d="M11.0,36.1 L9.6,34.4 L9.9,32.4 L11.0,30.5 L13.3,29.6" vector-effect="non-scaling-stroke"/>
<path d="M65.8,62.3 L63.7,61.1 L63.9,59.1 L63.5,57.2 L63.7,55.1" vector-effect="non-scaling-stroke"/>
</g>
<g fill="none" stroke="#444444" stroke-width="0.75" stroke-linejoin="round" vector-effect="non-scaling-stroke">
<path d="M30,58 C40,48 52,43 68,41" vector-effect="non-scaling-stroke"/>
<path d="M37,66 C48,59 62,55 80,53" vector-effect="non-scaling-stroke"/>
<path d="M56,2 C53,12 50,23 47,38" vector-effect="non-scaling-stroke"/>
<path d="M33.4,13.4 L32.0,11.6 L30.1,10.1 L27.4,10.4 L24.8,10.7" vector-effect="non-scaling-stroke"/>
<path d="M6.5,32.9 L9.1,33.5 L10.7,35.3 L13.4,35.7 L16.0,34.9" vector-effect="non-scaling-stroke"/>
<path d="M62.0,68.4 L61.5,65.6 L58.5,64.2 L57.4,61.6 L55.0,59.5" vector-effect="non-scaling-stroke"/>
<path d="M16.6,11.1 L17.8,14.6 L18.3,18.2 L17.5,21.8 L17.9,25.4" vector-effect="non-scaling-stroke"/>
<path d="M54.5,7.3 L56.7,9.0 L59.2,10.3 L62.2,10.8 L65.0,11.7" vector-effect="non-scaling-stroke"/>
<path d="M45.6,23.7 L44.6,20.4 L44.3,17.0 L44.1,13.6 L46.9,11.0" vector-effect="non-scaling-stroke"/>
<path d="M71.6,22.9 L74.2,22.2 L77.0,22.7 L79.5,21.7 L81.9,20.7" vector-effect="non-scaling-stroke"/>
<path d="M6.7,49.1 L9.6,47.0 L11.4,44.2 L14.4,42.2 L17.8,40.6" vector-effect="non-scaling-stroke"/>
<path d="M57.5,34.5 L59.9,31.1 L63.5,28.5 L63.3,24.6 L65.1,21.0" vector-effect="non-scaling-stroke"/>
<path d="M63.8,71.5 L64.5,69.0 L66.3,66.8 L65.0,64.5 L63.6,62.2" vector-effect="non-scaling-stroke"/>
<path d="M18.8,11.1 L22.9,9.8 L25.7,7.1 L27.8,3.9 L31.9,2.7" vector-effect="non-scaling-stroke"/>
<path d="M10.6,34.0 L7.8,30.9 L8.3,27.2 L6.8,23.6 L4.5,20.3" vector-effect="non-scaling-stroke"/>
<path d="M36.7,64.0 L38.5,62.2 L38.8,59.9 L37.7,57.8 L36.5,55.7" vector-effect="non-scaling-stroke"/>
<path d="M58.4,21.1 L61.8,20.5 L65.4,20.2 L67.8,22.2 L69.2,24.8" vector-effect="non-scaling-stroke"/>
<path d="M51.5,45.6 L52.3,43.6 L54.4,42.3 L57.0,42.5 L59.1,43.8" vector-effect="non-scaling-stroke"/>
<path d="M39.9,30.5 L43.9,29.8 L45.8,26.9 L45.3,23.7 L42.5,21.3" vector-effect="non-scaling-stroke"/>
<path d="M35.0,6.6 L37.0,5.0 L38.4,3.0 L37.1,0.9 L38.0,-1.3" vector-effect="non-scaling-stroke"/>
<path d="M60.7,13.2 L61.6,15.9 L64.4,17.3 L65.5,19.8 L63.4,22.0" vector-effect="non-scaling-stroke"/>
<path d="M46.8,36.4 L49.5,36.9 L52.2,36.3 L54.7,37.2 L57.3,36.6" vector-effect="non-scaling-stroke"/>
<path d="M5.2,68.6 L2.4,68.0 L0.2,69.5 L-2.1,70.8 L-4.9,70.1" vector-effect="non-scaling-stroke"/>
<path d="M84.2,51.0 L86.1,53.3 L86.2,56.0 L86.2,58.8 L84.4,61.1" vector-effect="non-scaling-stroke"/>
<path d="M34.0,18.4 L38.4,16.6 L43.3,17.1 L46.9,19.8 L48.4,23.6" vector-effect="non-scaling-stroke"/>
<path d="M24.3,38.7 L25.0,40.7 L26.7,42.2 L29.1,43.0 L31.0,44.4" vector-effect="non-scaling-stroke"/>
<path d="M92.9,33.9 L97.2,35.8 L102.1,36.8 L106.8,35.5 L110.0,32.5" vector-effect="non-scaling-stroke"/>
<path d="M21.5,17.1 L21.0,13.3 L20.3,9.6 L21.0,5.8 L24.2,3.0" vector-effect="non-scaling-stroke"/>
<path d="M11.0,48.6 L15.4,48.3 L19.8,47.9 L23.1,45.5 L27.5,44.9" vector-effect="non-scaling-stroke"/>
<path d="M34.3,58.3 L37.5,57.2 L40.5,58.6 L42.5,60.9 L45.8,61.8" vector-effect="non-scaling-stroke"/>
<path d="M14.9,13.4 L16.1,9.9 L19.7,7.7 L24.0,8.8 L27.7,11.0" vector-effect="non-scaling-stroke"/>
<path d="M35.9,40.9 L35.4,42.8 L34.2,44.6 L32.9,46.4 L30.4,46.7" vector-effect="non-scaling-stroke"/>
<path d="M43.8,63.2 L43.7,60.7 L42.5,58.5 L40.0,57.1 L37.9,55.4" vector-effect="non-scaling-stroke"/>
<path d="M27.4,31.9 L31.5,33.8 L35.8,35.5 L39.7,37.7 L40.4,41.5" vector-effect="non-scaling-stroke"/>
<path d="M42.5,66.3 L38.7,66.1 L36.4,68.6 L34.4,71.2 L34.7,74.2" vector-effect="non-scaling-stroke"/>
<path d="M3.4,58.1 L3.5,61.1 L3.2,64.0 L4.2,66.9 L5.1,69.7" vector-effect="non-scaling-stroke"/>
<path d="M55.2,57.1 L59.1,57.6 L62.8,56.8 L66.6,57.6 L70.3,58.4" vector-effect="non-scaling-stroke"/>
<path d="M55.8,55.4 L59.2,54.5 L62.7,53.6 L66.1,52.8 L69.7,53.1" vector-effect="non-scaling-stroke"/>
<path d="M45.5,39.8 L40.8,38.8 L38.3,35.5 L39.8,31.8 L39.1,28.0" vector-effect="non-scaling-stroke"/>
<path d="M55.6,68.1 L55.1,65.9 L54.2,63.7 L51.6,62.8 L48.8,63.0" vector-effect="non-scaling-stroke"/>
<path d="M9.9,49.2 L7.7,45.8 L7.5,42.0 L8.8,38.4 L6.7,34.9" vector-effect="non-scaling-stroke"/>
<path d="M86.0,69.8 L87.9,73.4 L89.9,76.9 L87.3,80.2 L82.7,81.6" vector-effect="non-scaling-stroke"/>
<path d="M18.2,32.8 L15.3,34.1 L13.1,36.1 L10.1,37.3 L9.5,39.9" vector-effect="non-scaling-stroke"/>
<path d="M55.1,33.4 L58.2,34.3 L61.3,35.3 L64.2,34.1 L67.2,35.3" vector-effect="non-scaling-stroke"/>
<path d="M77.1,70.0 L80.2,69.4 L83.2,70.1 L86.3,69.7 L88.3,67.7" vector-effect="non-scaling-stroke"/>
<path d="M42.7,65.9 L41.9,63.5 L43.6,61.3 L45.6,59.4 L48.4,58.3" vector-effect="non-scaling-stroke"/>
<path d="M11.4,7.0 L8.0,6.1 L6.8,3.4 L6.4,0.6 L8.1,-1.9" vector-effect="non-scaling-stroke"/>
<path d="M10.9,62.1 L15.3,63.3 L19.9,63.3 L24.6,63.7 L27.2,66.8" vector-effect="non-scaling-stroke"/>
<path d="M28.2,11.9 L25.6,13.3 L24.8,15.7 L26.6,17.7 L29.5,18.6" vector-effect="non-scaling-stroke"/>
<path d="M32.3,24.0 L32.5,21.5 L30.7,19.3 L28.2,17.7 L25.1,18.4" vector-effect="non-scaling-stroke"/>
<path d="M26.5,4.1 L24.0,1.7 L21.2,-0.5 L21.6,-3.6 L19.1,-5.9" vector-effect="non-scaling-stroke"/>
<path d="M80.0,32.8 L75.5,33.7 L71.1,34.6 L66.5,34.0 L64.5,30.7" vector-effect="non-scaling-stroke"/>
<path d="M35.2,60.4 L33.4,57.5 L30.5,55.1 L26.5,55.4 L23.7,57.8" vector-effect="non-scaling-stroke"/>
<path d="M9.6,54.1 L11.7,55.7 L12.1,58.1 L10.3,59.9 L7.9,61.3" vector-effect="non-scaling-stroke"/>
<path d="M29.5,19.7 L31.0,22.4 L32.8,24.9 L35.9,26.5 L36.1,29.4" vector-effect="non-scaling-stroke"/>
<path d="M94.4,40.7 L96.4,44.3 L99.6,47.3 L104.5,46.8 L109.0,45.4" vector-effect="non-scaling-stroke"/>
<path d="M47.6,37.7 L51.2,38.5 L54.9,37.9 L56.9,35.3 L58.2,32.5" vector-effect="non-scaling-stroke"/>
<path d="M6.9,4.6 L5.4,6.7 L3.7,8.8 L1.0,10.0 L-2.0,10.4" vector-effect="non-scaling-stroke"/>
<path d="M70.3,63.7 L67.1,62.9 L64.1,64.0 L60.8,64.0 L57.6,63.2" vector-effect="non-scaling-stroke"/>
<path d="M7.1,60.6 L11.1,60.0 L14.8,61.3 L18.7,60.3 L22.6,59.4" vector-effect="non-scaling-stroke"/>
<path d="M50.4,60.6 L52.6,57.4 L57.0,56.4 L61.6,56.8 L65.6,58.5" vector-effect="non-scaling-stroke"/>
<path d="M24.6,5.2 L28.0,5.3 L30.6,7.1 L32.9,9.1 L34.4,11.5" vector-effect="non-scaling-stroke"/>
<path d="M61.9,50.0 L59.7,49.0 L58.4,47.2 L57.1,45.5 L56.0,43.7" vector-effect="non-scaling-stroke"/>
</g>
<path d="M6,14 L18,10 L22,22 L14,38 L8,40 L4,30 Z" fill="#F0A030"/>
<path d="M55.0,15.0 A6.0,5.0 0 1 1 67.0,15.0 A6.0,5.0 0 1 1 55.0,15.0 Z" fill="#F0A030"/>
<path d="M52.0,58.0 A5.0,6.0 0 1 1 62.0,58.0 A5.0,6.0 0 1 1 52.0,58.0 Z" fill="#F0A030"/>
</g>
<use href="#latS" fill="none" stroke="#555" stroke-width="0.6" vector-effect="non-scaling-stroke"/>
</g>
<g transform="translate(344.70 227.50) scale(0.4020 0.4253)">
<use href="#latS" fill="url(#bg1)"/>
<g clip-path="url(#latC)">
<g fill="none" stroke="#C6C6C6" stroke-width="1.3" stroke-linecap="round" vector-effect="non-scaling-stroke">
<path d="M18.5,50.6 L16.3,50.4 L14.9,49.0 L15.1,47.3 L15.4,45.5" vector-effect="non-scaling-stroke"/>
<path d="M50.5,19.3 L52.5,19.7 L53.8,18.4 L55.8,18.2 L57.2,17.0" vector-effect="non-scaling-stroke"/>
<path d="M24.9,5.9 L26.4,7.6 L27.2,9.6 L29.8,9.7 L32.2,8.9" vector-effect="non-scaling-stroke"/>
<path d="M49.8,11.0 L50.5,9.5 L52.4,8.9 L52.9,7.3 L54.9,6.9" vector-effect="non-scaling-stroke"/>
<path d="M45.6,41.1 L46.1,42.8 L48.3,43.1 L49.3,44.6 L51.4,45.3" vector-effect="non-scaling-stroke"/>
<path d="M76.3,17.4 L78.9,18.4 L80.0,20.5 L80.6,22.7 L79.6,24.8" vector-effect="non-scaling-stroke"/>
<path d="M14.5,35.9 L16.3,35.9 L17.3,37.1 L18.5,38.1 L20.2,38.7" vector-effect="non-scaling-stroke"/>
<path d="M45.4,29.6 L46.1,28.0 L44.6,26.8 L44.3,25.2 L46.1,24.4" vector-effect="non-scaling-stroke"/>
<path d="M49.6,36.9 L47.2,37.7 L44.6,38.0 L42.0,38.0 L39.5,37.2" vector-effect="non-scaling-stroke"/>
<path d="M20.0,14.7 L19.4,17.0 L18.0,19.1 L18.1,21.4 L20.7,22.5" vector-effect="non-scaling-stroke"/>
<path d="M9.2,59.1 L10.4,57.8 L12.3,57.1 L14.0,58.0 L13.6,59.6" vector-effect="non-scaling-stroke"/>
<path d="M41.3,71.2 L43.0,72.6 L44.8,73.8 L47.0,74.6 L49.3,74.1" vector-effect="non-scaling-stroke"/>
<path d="M85.4,14.2 L86.5,16.2 L87.7,18.1 L86.6,20.1 L88.5,21.7" vector-effect="non-scaling-stroke"/>
<path d="M27.2,23.0 L27.3,24.4 L28.1,25.7 L27.2,26.8 L25.5,26.5" vector-effect="non-scaling-stroke"/>
<path d="M73.1,36.0 L72.9,38.4 L71.0,40.2 L72.6,42.2 L75.4,42.9" vector-effect="non-scaling-stroke"/>
<path d="M81.8,57.9 L83.2,56.3 L85.0,55.0 L87.4,55.4 L89.7,54.8" vector-effect="non-scaling-stroke"/>
<path d="M53.2,22.0 L54.1,21.0 L55.6,21.3 L56.3,20.2 L57.4,19.4" vector-effect="non-scaling-stroke"/>
<path d="M63.5,61.8 L61.7,61.3 L61.5,59.8 L63.1,59.0 L63.1,57.5" vector-effect="non-scaling-stroke"/>
<path d="M11.9,9.5 L13.5,8.3 L15.6,8.6 L17.4,9.5 L19.4,8.9" vector-effect="non-scaling-stroke"/>
<path d="M53.6,25.4 L52.5,26.5 L52.8,28.0 L53.6,29.3 L53.5,30.7" vector-effect="non-scaling-stroke"/>
<path d="M54.7,6.2 L56.0,4.2 L58.6,3.4 L58.5,1.2 L58.0,-1.1" vector-effect="non-scaling-stroke"/>
<path d="M9.0,55.7 L11.3,56.6 L12.7,58.3 L15.0,59.3 L16.9,57.9" vector-effect="non-scaling-stroke"/>
<path d="M39.6,24.3 L41.1,23.5 L42.9,22.7 L44.4,23.7 L46.2,23.1" vector-effect="non-scaling-stroke"/>
<path d="M59.5,38.1 L57.9,36.1 L57.7,33.8 L57.6,31.4 L58.1,29.1" vector-effect="non-scaling-stroke"/>
<path d="M9.0,59.2 L10.6,58.3 L12.2,59.3 L14.2,58.7 L14.4,57.1" vector-effect="non-scaling-stroke"/>
<path d="M9.9,59.2 L10.7,57.6 L9.0,56.5 L8.0,54.9 L6.7,53.5" vector-effect="non-scaling-stroke"/>
<path d="M51.6,29.9 L52.0,31.3 L52.7,32.7 L54.3,33.4 L55.3,34.7" vector-effect="non-scaling-stroke"/>
<path d="M79.8,52.9 L78.3,53.7 L76.7,54.6 L75.0,55.0 L73.9,53.8" vector-effect="non-scaling-stroke"/>
<path d="M11.0,36.1 L9.6,34.4 L9.9,32.4 L11.0,30.5 L13.3,29.6" vector-effect="non-scaling-stroke"/>
<path d="M65.8,62.3 L63.7,61.1 L63.9,59.1 L63.5,57.2 L63.7,55.1" vector-effect="non-scaling-stroke"/>
</g>
<g fill="none" stroke="#444444" stroke-width="0.75" stroke-linejoin="round" vector-effect="non-scaling-stroke">
<path d="M30,58 C40,48 52,43 68,41" vector-effect="non-scaling-stroke"/>
<path d="M37,66 C48,59 62,55 80,53" vector-effect="non-scaling-stroke"/>
<path d="M56,2 C53,12 50,23 47,38" vector-effect="non-scaling-stroke"/>
<path d="M33.4,13.4 L32.0,11.6 L30.1,10.1 L27.4,10.4 L24.8,10.7" vector-effect="non-scaling-stroke"/>
<path d="M6.5,32.9 L9.1,33.5 L10.7,35.3 L13.4,35.7 L16.0,34.9" vector-effect="non-scaling-stroke"/>
<path d="M62.0,68.4 L61.5,65.6 L58.5,64.2 L57.4,61.6 L55.0,59.5" vector-effect="non-scaling-stroke"/>
<path d="M16.6,11.1 L17.8,14.6 L18.3,18.2 L17.5,21.8 L17.9,25.4" vector-effect="non-scaling-stroke"/>
<path d="M54.5,7.3 L56.7,9.0 L59.2,10.3 L62.2,10.8 L65.0,11.7" vector-effect="non-scaling-stroke"/>
<path d="M45.6,23.7 L44.6,20.4 L44.3,17.0 L44.1,13.6 L46.9,11.0" vector-effect="non-scaling-stroke"/>
<path d="M71.6,22.9 L74.2,22.2 L77.0,22.7 L79.5,21.7 L81.9,20.7" vector-effect="non-scaling-stroke"/>
<path d="M6.7,49.1 L9.6,47.0 L11.4,44.2 L14.4,42.2 L17.8,40.6" vector-effect="non-scaling-stroke"/>
<path d="M57.5,34.5 L59.9,31.1 L63.5,28.5 L63.3,24.6 L65.1,21.0" vector-effect="non-scaling-stroke"/>
<path d="M63.8,71.5 L64.5,69.0 L66.3,66.8 L65.0,64.5 L63.6,62.2" vector-effect="non-scaling-stroke"/>
<path d="M18.8,11.1 L22.9,9.8 L25.7,7.1 L27.8,3.9 L31.9,2.7" vector-effect="non-scaling-stroke"/>
<path d="M10.6,34.0 L7.8,30.9 L8.3,27.2 L6.8,23.6 L4.5,20.3" vector-effect="non-scaling-stroke"/>
<path d="M36.7,64.0 L38.5,62.2 L38.8,59.9 L37.7,57.8 L36.5,55.7" vector-effect="non-scaling-stroke"/>
<path d="M58.4,21.1 L61.8,20.5 L65.4,20.2 L67.8,22.2 L69.2,24.8" vector-effect="non-scaling-stroke"/>
<path d="M51.5,45.6 L52.3,43.6 L54.4,42.3 L57.0,42.5 L59.1,43.8" vector-effect="non-scaling-stroke"/>
<path d="M39.9,30.5 L43.9,29.8 L45.8,26.9 L45.3,23.7 L42.5,21.3" vector-effect="non-scaling-stroke"/>
<path d="M35.0,6.6 L37.0,5.0 L38.4,3.0 L37.1,0.9 L38.0,-1.3" vector-effect="non-scaling-stroke"/>
<path d="M60.7,13.2 L61.6,15.9 L64.4,17.3 L65.5,19.8 L63.4,22.0" vector-effect="non-scaling-stroke"/>
<path d="M46.8,36.4 L49.5,36.9 L52.2,36.3 L54.7,37.2 L57.3,36.6" vector-effect="non-scaling-stroke"/>
<path d="M5.2,68.6 L2.4,68.0 L0.2,69.5 L-2.1,70.8 L-4.9,70.1" vector-effect="non-scaling-stroke"/>
<path d="M84.2,51.0 L86.1,53.3 L86.2,56.0 L86.2,58.8 L84.4,61.1" vector-effect="non-scaling-stroke"/>
<path d="M34.0,18.4 L38.4,16.6 L43.3,17.1 L46.9,19.8 L48.4,23.6" vector-effect="non-scaling-stroke"/>
<path d="M24.3,38.7 L25.0,40.7 L26.7,42.2 L29.1,43.0 L31.0,44.4" vector-effect="non-scaling-stroke"/>
<path d="M92.9,33.9 L97.2,35.8 L102.1,36.8 L106.8,35.5 L110.0,32.5" vector-effect="non-scaling-stroke"/>
<path d="M21.5,17.1 L21.0,13.3 L20.3,9.6 L21.0,5.8 L24.2,3.0" vector-effect="non-scaling-stroke"/>
<path d="M11.0,48.6 L15.4,48.3 L19.8,47.9 L23.1,45.5 L27.5,44.9" vector-effect="non-scaling-stroke"/>
<path d="M34.3,58.3 L37.5,57.2 L40.5,58.6 L42.5,60.9 L45.8,61.8" vector-effect="non-scaling-stroke"/>
<path d="M14.9,13.4 L16.1,9.9 L19.7,7.7 L24.0,8.8 L27.7,11.0" vector-effect="non-scaling-stroke"/>
<path d="M35.9,40.9 L35.4,42.8 L34.2,44.6 L32.9,46.4 L30.4,46.7" vector-effect="non-scaling-stroke"/>
<path d="M43.8,63.2 L43.7,60.7 L42.5,58.5 L40.0,57.1 L37.9,55.4" vector-effect="non-scaling-stroke"/>
<path d="M27.4,31.9 L31.5,33.8 L35.8,35.5 L39.7,37.7 L40.4,41.5" vector-effect="non-scaling-stroke"/>
<path d="M42.5,66.3 L38.7,66.1 L36.4,68.6 L34.4,71.2 L34.7,74.2" vector-effect="non-scaling-stroke"/>
<path d="M3.4,58.1 L3.5,61.1 L3.2,64.0 L4.2,66.9 L5.1,69.7" vector-effect="non-scaling-stroke"/>
<path d="M55.2,57.1 L59.1,57.6 L62.8,56.8 L66.6,57.6 L70.3,58.4" vector-effect="non-scaling-stroke"/>
<path d="M55.8,55.4 L59.2,54.5 L62.7,53.6 L66.1,52.8 L69.7,53.1" vector-effect="non-scaling-stroke"/>
<path d="M45.5,39.8 L40.8,38.8 L38.3,35.5 L39.8,31.8 L39.1,28.0" vector-effect="non-scaling-stroke"/>
<path d="M55.6,68.1 L55.1,65.9 L54.2,63.7 L51.6,62.8 L48.8,63.0" vector-effect="non-scaling-stroke"/>
<path d="M9.9,49.2 L7.7,45.8 L7.5,42.0 L8.8,38.4 L6.7,34.9" vector-effect="non-scaling-stroke"/>
<path d="M86.0,69.8 L87.9,73.4 L89.9,76.9 L87.3,80.2 L82.7,81.6" vector-effect="non-scaling-stroke"/>
<path d="M18.2,32.8 L15.3,34.1 L13.1,36.1 L10.1,37.3 L9.5,39.9" vector-effect="non-scaling-stroke"/>
<path d="M55.1,33.4 L58.2,34.3 L61.3,35.3 L64.2,34.1 L67.2,35.3" vector-effect="non-scaling-stroke"/>
<path d="M77.1,70.0 L80.2,69.4 L83.2,70.1 L86.3,69.7 L88.3,67.7" vector-effect="non-scaling-stroke"/>
<path d="M42.7,65.9 L41.9,63.5 L43.6,61.3 L45.6,59.4 L48.4,58.3" vector-effect="non-scaling-stroke"/>
<path d="M11.4,7.0 L8.0,6.1 L6.8,3.4 L6.4,0.6 L8.1,-1.9" vector-effect="non-scaling-stroke"/>
<path d="M10.9,62.1 L15.3,63.3 L19.9,63.3 L24.6,63.7 L27.2,66.8" vector-effect="non-scaling-stroke"/>
<path d="M28.2,11.9 L25.6,13.3 L24.8,15.7 L26.6,17.7 L29.5,18.6" vector-effect="non-scaling-stroke"/>
<path d="M32.3,24.0 L32.5,21.5 L30.7,19.3 L28.2,17.7 L25.1,18.4" vector-effect="non-scaling-stroke"/>
<path d="M26.5,4.1 L24.0,1.7 L21.2,-0.5 L21.6,-3.6 L19.1,-5.9" vector-effect="non-scaling-stroke"/>
<path d="M80.0,32.8 L75.5,33.7 L71.1,34.6 L66.5,34.0 L64.5,30.7" vector-effect="non-scaling-stroke"/>
<path d="M35.2,60.4 L33.4,57.5 L30.5,55.1 L26.5,55.4 L23.7,57.8" vector-effect="non-scaling-stroke"/>
<path d="M9.6,54.1 L11.7,55.7 L12.1,58.1 L10.3,59.9 L7.9,61.3" vector-effect="non-scaling-stroke"/>
<path d="M29.5,19.7 L31.0,22.4 L32.8,24.9 L35.9,26.5 L36.1,29.4" vector-effect="non-scaling-stroke"/>
<path d="M94.4,40.7 L96.4,44.3 L99.6,47.3 L104.5,46.8 L109.0,45.4" vector-effect="non-scaling-stroke"/>
<path d="M47.6,37.7 L51.2,38.5 L54.9,37.9 L56.9,35.3 L58.2,32.5" vector-effect="non-scaling-stroke"/>
<path d="M6.9,4.6 L5.4,6.7 L3.7,8.8 L1.0,10.0 L-2.0,10.4" vector-effect="non-scaling-stroke"/>
<path d="M70.3,63.7 L67.1,62.9 L64.1,64.0 L60.8,64.0 L57.6,63.2" vector-effect="non-scaling-stroke"/>
<path d="M7.1,60.6 L11.1,60.0 L14.8,61.3 L18.7,60.3 L22.6,59.4" vector-effect="non-scaling-stroke"/>
<path d="M50.4,60.6 L52.6,57.4 L57.0,56.4 L61.6,56.8 L65.6,58.5" vector-effect="non-scaling-stroke"/>
<path d="M24.6,5.2 L28.0,5.3 L30.6,7.1 L32.9,9.1 L34.4,11.5" vector-effect="non-scaling-stroke"/>
<path d="M61.9,50.0 L59.7,49.0 L58.4,47.2 L57.1,45.5 L56.0,43.7" vector-effect="non-scaling-stroke"/>
</g>
<path d="M20.0,19.0 A6.0,5.0 0 1 1 32.0,19.0 A6.0,5.0 0 1 1 20.0,19.0 Z" fill="#A83050"/>
<path d="M0.0,51.0 A5.0,11.0 0 1 1 10.0,51.0 A5.0,11.0 0 1 1 0.0,51.0 Z" fill="#A83050"/>
<path d="M56.0,54.0 A6.0,6.0 0 1 1 68.0,54.0 A6.0,6.0 0 1 1 56.0,54.0 Z" fill="#A83050"/>
<path d="M62.0,21.0 A5.0,5.0 0 1 1 72.0,21.0 A5.0,5.0 0 1 1 62.0,21.0 Z" fill="#A83050"/>
</g>
<use href="#latS" fill="none" stroke="#555" stroke-width="0.6" vector-effect="non-scaling-stroke"/>
</g>
<g transform="translate(338.00 186.00) scale(0.4110 0.4373)">
<use href="#medS" fill="url(#bg1)"/>
<g clip-path="url(#medC)">
<g fill="none" stroke="#C6C6C6" stroke-width="1.3" stroke-linecap="round" vector-effect="non-scaling-stroke">
<path d="M89.9,68.5 L91.4,67.9 L92.7,67.1 L94.1,66.4 L94.2,65.1" vector-effect="non-scaling-stroke"/>
<path d="M21.0,33.7 L23.2,33.9 L24.5,32.5 L26.5,31.9 L28.4,30.9" vector-effect="non-scaling-stroke"/>
<path d="M51.2,53.7 L49.6,53.8 L48.0,53.7 L46.6,53.1 L45.5,52.2" vector-effect="non-scaling-stroke"/>
<path d="M94.2,28.0 L94.8,26.4 L96.0,25.1 L96.4,23.5 L94.8,22.5" vector-effect="non-scaling-stroke"/>
<path d="M47.6,52.5 L46.3,51.1 L44.1,50.9 L42.5,52.1 L41.7,53.7" vector-effect="non-scaling-stroke"/>
<path d="M79.7,16.5 L81.2,15.9 L82.0,14.7 L83.0,13.7 L84.7,13.7" vector-effect="non-scaling-stroke"/>
<path d="M34.1,28.5 L32.5,29.4 L30.8,30.1 L29.9,31.5 L30.9,32.9" vector-effect="non-scaling-stroke"/>
<path d="M76.7,51.8 L77.7,50.6 L79.6,50.8 L81.3,51.3 L81.4,52.8" vector-effect="non-scaling-stroke"/>
<path d="M18.7,70.3 L20.1,69.0 L22.2,68.8 L24.1,69.5 L24.0,71.2" vector-effect="non-scaling-stroke"/>
<path d="M78.7,68.5 L76.8,66.6 L74.2,65.5 L74.6,63.1 L74.1,60.8" vector-effect="non-scaling-stroke"/>
<path d="M21.2,8.2 L20.1,7.1 L21.0,5.8 L20.6,4.4 L18.9,4.0" vector-effect="non-scaling-stroke"/>
<path d="M52.7,14.7 L50.2,15.5 L47.9,16.7 L45.5,15.7 L42.9,15.0" vector-effect="non-scaling-stroke"/>
<path d="M35.2,64.6 L37.4,63.1 L39.2,61.3 L41.8,60.4 L44.3,61.4" vector-effect="non-scaling-stroke"/>
<path d="M63.1,19.5 L61.3,20.4 L59.4,21.1 L57.4,21.6 L55.6,20.7" vector-effect="non-scaling-stroke"/>
<path d="M13.2,46.6 L10.9,46.9 L9.3,48.3 L7.1,47.7 L5.4,48.9" vector-effect="non-scaling-stroke"/>
<path d="M55.8,40.4 L56.2,42.2 L56.9,44.0 L56.3,45.8 L58.3,46.8" vector-effect="non-scaling-stroke"/>
<path d="M38.5,57.2 L41.2,57.5 L43.6,58.7 L46.3,58.2 L48.9,57.3" vector-effect="non-scaling-stroke"/>
<path d="M42.7,8.6 L43.1,6.9 L43.7,5.2 L44.6,3.6 L45.7,2.0" vector-effect="non-scaling-stroke"/>
<path d="M31.0,65.0 L31.2,67.3 L31.5,69.5 L29.8,71.3 L27.3,72.4" vector-effect="non-scaling-stroke"/>
<path d="M59.9,23.1 L60.0,24.7 L58.2,25.4 L56.9,26.7 L56.1,28.2" vector-effect="non-scaling-stroke"/>
<path d="M42.4,59.3 L40.8,60.6 L40.3,62.5 L42.0,63.7 L44.4,63.7" vector-effect="non-scaling-stroke"/>
<path d="M27.8,61.8 L26.1,61.9 L25.3,63.1 L24.3,64.1 L23.5,65.3" vector-effect="non-scaling-stroke"/>
</g>
<g fill="none" stroke="#444444" stroke-width="0.75" stroke-linejoin="round" vector-effect="non-scaling-stroke">
<path d="M20,20 C35,14 55,13 75,18 C84,21 90,26 94,32" vector-effect="non-scaling-stroke"/>
<path d="M14,34 C24,26 40,22 56,22" vector-effect="non-scaling-stroke"/>
<path d="M45.5,41.6 L48.8,40.3 L52.3,39.5 L54.6,37.2 L56.9,34.9" vector-effect="non-scaling-stroke"/>
<path d="M62.2,57.7 L65.4,57.1 L68.4,58.1 L70.7,60.0 L73.9,59.6" vector-effect="non-scaling-stroke"/>
<path d="M95.3,69.6 L91.4,68.7 L88.3,70.7 L85.1,72.6 L84.8,75.9" vector-effect="non-scaling-stroke"/>
<path d="M20.9,19.7 L24.5,19.9 L27.2,21.9 L29.8,24.0 L31.5,26.6" vector-effect="non-scaling-stroke"/>
<path d="M50.0,48.7 L47.6,47.0 L48.1,44.5 L50.4,42.8 L53.4,41.9" vector-effect="non-scaling-stroke"/>
<path d="M32.6,18.8 L30.8,20.4 L29.3,22.2 L26.7,22.8 L24.4,23.9" vector-effect="non-scaling-stroke"/>
<path d="M93.1,61.5 L95.1,63.2 L97.3,64.9 L96.8,67.3 L97.0,69.7" vector-effect="non-scaling-stroke"/>
<path d="M9.9,46.4 L8.0,44.4 L5.3,43.0 L5.1,40.5 L6.6,38.2" vector-effect="non-scaling-stroke"/>
<path d="M14.1,20.0 L15.0,22.0 L17.2,23.2 L19.2,24.5 L21.4,25.7" vector-effect="non-scaling-stroke"/>
<path d="M20.9,53.5 L25.0,53.7 L29.1,53.3 L32.3,51.3 L34.0,48.3" vector-effect="non-scaling-stroke"/>
<path d="M94.3,58.4 L95.4,62.1 L97.4,65.5 L96.2,69.1 L93.8,72.4" vector-effect="non-scaling-stroke"/>
<path d="M12.4,71.3 L11.5,73.7 L11.5,76.2 L12.9,78.5 L15.9,79.2" vector-effect="non-scaling-stroke"/>
<path d="M11.5,43.2 L12.7,46.3 L14.2,49.2 L12.2,52.0 L10.3,54.8" vector-effect="non-scaling-stroke"/>
<path d="M57.0,62.8 L55.9,64.9 L53.4,66.1 L52.0,68.1 L52.2,70.4" vector-effect="non-scaling-stroke"/>
<path d="M72.5,67.9 L70.5,71.4 L67.6,74.6 L65.3,78.0 L66.8,81.7" vector-effect="non-scaling-stroke"/>
<path d="M6.6,69.4 L8.9,72.3 L8.5,75.7 L7.3,79.0 L7.9,82.4" vector-effect="non-scaling-stroke"/>
<path d="M19.5,52.7 L22.1,54.0 L23.1,56.3 L23.3,58.8 L24.9,60.9" vector-effect="non-scaling-stroke"/>
<path d="M89.2,17.1 L92.4,17.1 L94.4,15.1 L94.5,12.6 L93.8,10.1" vector-effect="non-scaling-stroke"/>
<path d="M56.8,12.1 L52.1,11.7 L47.7,10.2 L44.4,7.5 L41.7,4.4" vector-effect="non-scaling-stroke"/>
<path d="M16.2,5.4 L20.4,7.3 L21.0,11.1 L25.2,12.9 L28.7,15.5" vector-effect="non-scaling-stroke"/>
<path d="M48.3,53.4 L50.4,57.1 L51.9,60.9 L51.2,64.8 L47.1,67.1" vector-effect="non-scaling-stroke"/>
<path d="M72.3,51.6 L72.2,47.7 L73.8,44.1 L78.2,42.5 L82.7,43.7" vector-effect="non-scaling-stroke"/>
<path d="M42.2,57.5 L45.4,55.8 L48.1,53.4 L51.1,51.4 L54.6,50.0" vector-effect="non-scaling-stroke"/>
<path d="M10.5,47.1 L14.8,48.6 L19.5,49.3 L23.2,51.7 L26.4,54.4" vector-effect="non-scaling-stroke"/>
<path d="M44.4,60.8 L48.4,59.4 L52.7,58.7 L56.9,57.8 L60.0,55.4" vector-effect="non-scaling-stroke"/>
<path d="M68.6,37.3 L64.0,36.4 L60.4,39.0 L58.5,42.5 L55.1,45.3" vector-effect="non-scaling-stroke"/>
<path d="M22.0,14.7 L25.2,12.5 L29.3,12.8 L33.3,11.9 L37.5,12.1" vector-effect="non-scaling-stroke"/>
<path d="M21.7,32.7 L26.0,31.0 L29.6,28.6 L33.8,26.7 L36.8,23.7" vector-effect="non-scaling-stroke"/>
<path d="M15.8,37.3 L19.6,35.2 L24.0,36.3 L28.6,35.7 L31.8,33.0" vector-effect="non-scaling-stroke"/>
<path d="M45.4,22.0 L45.3,24.8 L45.2,27.6 L46.5,30.3 L45.3,33.0" vector-effect="non-scaling-stroke"/>
<path d="M95.3,34.2 L96.2,36.2 L98.7,36.8 L100.6,38.1 L102.3,39.7" vector-effect="non-scaling-stroke"/>
<path d="M32.0,57.6 L34.9,57.7 L36.6,55.9 L39.3,55.3 L41.4,53.7" vector-effect="non-scaling-stroke"/>
<path d="M16.2,6.2 L14.5,3.7 L13.8,0.9 L15.3,-1.8 L18.8,-2.4" vector-effect="non-scaling-stroke"/>
<path d="M67.3,16.8 L66.1,18.9 L65.0,21.1 L62.9,22.7 L62.4,25.0" vector-effect="non-scaling-stroke"/>
<path d="M28.6,26.9 L28.2,23.8 L29.7,21.0 L30.5,18.1 L33.2,15.9" vector-effect="non-scaling-stroke"/>
<path d="M88.2,9.0 L89.9,5.9 L91.2,2.6 L93.5,-0.3 L97.8,-1.0" vector-effect="non-scaling-stroke"/>
<path d="M38.4,42.2 L42.9,42.7 L47.4,42.9 L51.6,44.2 L55.9,43.4" vector-effect="non-scaling-stroke"/>
<path d="M70.9,59.5 L66.8,58.4 L64.9,55.3 L67.0,52.3 L71.2,51.9" vector-effect="non-scaling-stroke"/>
<path d="M53.5,57.6 L49.1,59.1 L45.5,61.6 L45.4,65.4 L45.9,69.2" vector-effect="non-scaling-stroke"/>
<path d="M54.7,56.0 L52.5,55.0 L50.1,55.6 L47.6,55.1 L45.2,55.9" vector-effect="non-scaling-stroke"/>
<path d="M34.5,57.4 L36.2,59.2 L36.8,61.4 L35.5,63.5 L33.4,65.0" vector-effect="non-scaling-stroke"/>
<path d="M91.9,37.0 L93.6,35.3 L95.5,33.7 L96.4,31.7 L98.3,30.1" vector-effect="non-scaling-stroke"/>
<path d="M63.1,39.1 L63.9,36.0 L63.8,32.9 L66.2,30.4 L70.1,30.1" vector-effect="non-scaling-stroke"/>
<path d="M22.6,61.7 L26.4,61.5 L29.4,59.7 L32.6,58.0 L35.8,56.4" vector-effect="non-scaling-stroke"/>
</g>
<path d="M48,62 L70,60 L72,72 L54,74 Z" fill="#D0F0A0"/>
<path d="M34,33 C42,29.5 52,28.5 62,29 C67,29.3 71,30 73,31.5 L72.5,35 L77,36.5 L75.5,40.5 L79,43 L76.5,47 L78.5,50 L73.5,53 L72.5,58 L69.5,62 C66,66 61,69 56,69.5 C50,67.5 44,63 40,58.5 C35.5,53 32.5,46 32.2,40 C32,37 32.8,34.6 34,33 Z" fill="#222"/>
</g>
<use href="#medS" fill="none" stroke="#555" stroke-width="0.6" vector-effect="non-scaling-stroke"/>
</g>
<g transform="translate(342.20 152.10) scale(0.4110 0.4240)">
<use href="#medS" fill="url(#bg1)"/>
<g clip-path="url(#medC)">
<g fill="none" stroke="#C6C6C6" stroke-width="1.3" stroke-linecap="round" vector-effect="non-scaling-stroke">
<path d="M89.9,68.5 L91.4,67.9 L92.7,67.1 L94.1,66.4 L94.2,65.1" vector-effect="non-scaling-stroke"/>
<path d="M21.0,33.7 L23.2,33.9 L24.5,32.5 L26.5,31.9 L28.4,30.9" vector-effect="non-scaling-stroke"/>
<path d="M51.2,53.7 L49.6,53.8 L48.0,53.7 L46.6,53.1 L45.5,52.2" vector-effect="non-scaling-stroke"/>
<path d="M94.2,28.0 L94.8,26.4 L96.0,25.1 L96.4,23.5 L94.8,22.5" vector-effect="non-scaling-stroke"/>
<path d="M47.6,52.5 L46.3,51.1 L44.1,50.9 L42.5,52.1 L41.7,53.7" vector-effect="non-scaling-stroke"/>
<path d="M79.7,16.5 L81.2,15.9 L82.0,14.7 L83.0,13.7 L84.7,13.7" vector-effect="non-scaling-stroke"/>
<path d="M34.1,28.5 L32.5,29.4 L30.8,30.1 L29.9,31.5 L30.9,32.9" vector-effect="non-scaling-stroke"/>
<path d="M76.7,51.8 L77.7,50.6 L79.6,50.8 L81.3,51.3 L81.4,52.8" vector-effect="non-scaling-stroke"/>
<path d="M18.7,70.3 L20.1,69.0 L22.2,68.8 L24.1,69.5 L24.0,71.2" vector-effect="non-scaling-stroke"/>
<path d="M78.7,68.5 L76.8,66.6 L74.2,65.5 L74.6,63.1 L74.1,60.8" vector-effect="non-scaling-stroke"/>
<path d="M21.2,8.2 L20.1,7.1 L21.0,5.8 L20.6,4.4 L18.9,4.0" vector-effect="non-scaling-stroke"/>
<path d="M52.7,14.7 L50.2,15.5 L47.9,16.7 L45.5,15.7 L42.9,15.0" vector-effect="non-scaling-stroke"/>
<path d="M35.2,64.6 L37.4,63.1 L39.2,61.3 L41.8,60.4 L44.3,61.4" vector-effect="non-scaling-stroke"/>
<path d="M63.1,19.5 L61.3,20.4 L59.4,21.1 L57.4,21.6 L55.6,20.7" vector-effect="non-scaling-stroke"/>
<path d="M13.2,46.6 L10.9,46.9 L9.3,48.3 L7.1,47.7 L5.4,48.9" vector-effect="non-scaling-stroke"/>
<path d="M55.8,40.4 L56.2,42.2 L56.9,44.0 L56.3,45.8 L58.3,46.8" vector-effect="non-scaling-stroke"/>
<path d="M38.5,57.2 L41.2,57.5 L43.6,58.7 L46.3,58.2 L48.9,57.3" vector-effect="non-scaling-stroke"/>
<path d="M42.7,8.6 L43.1,6.9 L43.7,5.2 L44.6,3.6 L45.7,2.0" vector-effect="non-scaling-stroke"/>
<path d="M31.0,65.0 L31.2,67.3 L31.5,69.5 L29.8,71.3 L27.3,72.4" vector-effect="non-scaling-stroke"/>
<path d="M59.9,23.1 L60.0,24.7 L58.2,25.4 L56.9,26.7 L56.1,28.2" vector-effect="non-scaling-stroke"/>
<path d="M42.4,59.3 L40.8,60.6 L40.3,62.5 L42.0,63.7 L44.4,63.7" vector-effect="non-scaling-stroke"/>
<path d="M27.8,61.8 L26.1,61.9 L25.3,63.1 L24.3,64.1 L23.5,65.3" vector-effect="non-scaling-stroke"/>
</g>
<g fill="none" stroke="#444444" stroke-width="0.75" stroke-linejoin="round" vector-effect="non-scaling-stroke">
<path d="M20,20 C35,14 55,13 75,18 C84,21 90,26 94,32" vector-effect="non-scaling-stroke"/>
<path d="M14,34 C24,26 40,22 56,22" vector-effect="non-scaling-stroke"/>
<path d="M45.5,41.6 L48.8,40.3 L52.3,39.5 L54.6,37.2 L56.9,34.9" vector-effect="non-scaling-stroke"/>
<path d="M62.2,57.7 L65.4,57.1 L68.4,58.1 L70.7,60.0 L73.9,59.6" vector-effect="non-scaling-stroke"/>
<path d="M95.3,69.6 L91.4,68.7 L88.3,70.7 L85.1,72.6 L84.8,75.9" vector-effect="non-scaling-stroke"/>
<path d="M20.9,19.7 L24.5,19.9 L27.2,21.9 L29.8,24.0 L31.5,26.6" vector-effect="non-scaling-stroke"/>
<path d="M50.0,48.7 L47.6,47.0 L48.1,44.5 L50.4,42.8 L53.4,41.9" vector-effect="non-scaling-stroke"/>
<path d="M32.6,18.8 L30.8,20.4 L29.3,22.2 L26.7,22.8 L24.4,23.9" vector-effect="non-scaling-stroke"/>
<path d="M93.1,61.5 L95.1,63.2 L97.3,64.9 L96.8,67.3 L97.0,69.7" vector-effect="non-scaling-stroke"/>
<path d="M9.9,46.4 L8.0,44.4 L5.3,43.0 L5.1,40.5 L6.6,38.2" vector-effect="non-scaling-stroke"/>
<path d="M14.1,20.0 L15.0,22.0 L17.2,23.2 L19.2,24.5 L21.4,25.7" vector-effect="non-scaling-stroke"/>
<path d="M20.9,53.5 L25.0,53.7 L29.1,53.3 L32.3,51.3 L34.0,48.3" vector-effect="non-scaling-stroke"/>
<path d="M94.3,58.4 L95.4,62.1 L97.4,65.5 L96.2,69.1 L93.8,72.4" vector-effect="non-scaling-stroke"/>
<path d="M12.4,71.3 L11.5,73.7 L11.5,76.2 L12.9,78.5 L15.9,79.2" vector-effect="non-scaling-stroke"/>
<path d="M11.5,43.2 L12.7,46.3 L14.2,49.2 L12.2,52.0 L10.3,54.8" vector-effect="non-scaling-stroke"/>
<path d="M57.0,62.8 L55.9,64.9 L53.4,66.1 L52.0,68.1 L52.2,70.4" vector-effect="non-scaling-stroke"/>
<path d="M72.5,67.9 L70.5,71.4 L67.6,74.6 L65.3,78.0 L66.8,81.7" vector-effect="non-scaling-stroke"/>
<path d="M6.6,69.4 L8.9,72.3 L8.5,75.7 L7.3,79.0 L7.9,82.4" vector-effect="non-scaling-stroke"/>
<path d="M19.5,52.7 L22.1,54.0 L23.1,56.3 L23.3,58.8 L24.9,60.9" vector-effect="non-scaling-stroke"/>
<path d="M89.2,17.1 L92.4,17.1 L94.4,15.1 L94.5,12.6 L93.8,10.1" vector-effect="non-scaling-stroke"/>
<path d="M56.8,12.1 L52.1,11.7 L47.7,10.2 L44.4,7.5 L41.7,4.4" vector-effect="non-scaling-stroke"/>
<path d="M16.2,5.4 L20.4,7.3 L21.0,11.1 L25.2,12.9 L28.7,15.5" vector-effect="non-scaling-stroke"/>
<path d="M48.3,53.4 L50.4,57.1 L51.9,60.9 L51.2,64.8 L47.1,67.1" vector-effect="non-scaling-stroke"/>
<path d="M72.3,51.6 L72.2,47.7 L73.8,44.1 L78.2,42.5 L82.7,43.7" vector-effect="non-scaling-stroke"/>
<path d="M42.2,57.5 L45.4,55.8 L48.1,53.4 L51.1,51.4 L54.6,50.0" vector-effect="non-scaling-stroke"/>
<path d="M10.5,47.1 L14.8,48.6 L19.5,49.3 L23.2,51.7 L26.4,54.4" vector-effect="non-scaling-stroke"/>
<path d="M44.4,60.8 L48.4,59.4 L52.7,58.7 L56.9,57.8 L60.0,55.4" vector-effect="non-scaling-stroke"/>
<path d="M68.6,37.3 L64.0,36.4 L60.4,39.0 L58.5,42.5 L55.1,45.3" vector-effect="non-scaling-stroke"/>
<path d="M22.0,14.7 L25.2,12.5 L29.3,12.8 L33.3,11.9 L37.5,12.1" vector-effect="non-scaling-stroke"/>
<path d="M21.7,32.7 L26.0,31.0 L29.6,28.6 L33.8,26.7 L36.8,23.7" vector-effect="non-scaling-stroke"/>
<path d="M15.8,37.3 L19.6,35.2 L24.0,36.3 L28.6,35.7 L31.8,33.0" vector-effect="non-scaling-stroke"/>
<path d="M45.4,22.0 L45.3,24.8 L45.2,27.6 L46.5,30.3 L45.3,33.0" vector-effect="non-scaling-stroke"/>
<path d="M95.3,34.2 L96.2,36.2 L98.7,36.8 L100.6,38.1 L102.3,39.7" vector-effect="non-scaling-stroke"/>
<path d="M32.0,57.6 L34.9,57.7 L36.6,55.9 L39.3,55.3 L41.4,53.7" vector-effect="non-scaling-stroke"/>
<path d="M16.2,6.2 L14.5,3.7 L13.8,0.9 L15.3,-1.8 L18.8,-2.4" vector-effect="non-scaling-stroke"/>
<path d="M67.3,16.8 L66.1,18.9 L65.0,21.1 L62.9,22.7 L62.4,25.0" vector-effect="non-scaling-stroke"/>
<path d="M28.6,26.9 L28.2,23.8 L29.7,21.0 L30.5,18.1 L33.2,15.9" vector-effect="non-scaling-stroke"/>
<path d="M88.2,9.0 L89.9,5.9 L91.2,2.6 L93.5,-0.3 L97.8,-1.0" vector-effect="non-scaling-stroke"/>
<path d="M38.4,42.2 L42.9,42.7 L47.4,42.9 L51.6,44.2 L55.9,43.4" vector-effect="non-scaling-stroke"/>
<path d="M70.9,59.5 L66.8,58.4 L64.9,55.3 L67.0,52.3 L71.2,51.9" vector-effect="non-scaling-stroke"/>
<path d="M53.5,57.6 L49.1,59.1 L45.5,61.6 L45.4,65.4 L45.9,69.2" vector-effect="non-scaling-stroke"/>
<path d="M54.7,56.0 L52.5,55.0 L50.1,55.6 L47.6,55.1 L45.2,55.9" vector-effect="non-scaling-stroke"/>
<path d="M34.5,57.4 L36.2,59.2 L36.8,61.4 L35.5,63.5 L33.4,65.0" vector-effect="non-scaling-stroke"/>
<path d="M91.9,37.0 L93.6,35.3 L95.5,33.7 L96.4,31.7 L98.3,30.1" vector-effect="non-scaling-stroke"/>
<path d="M63.1,39.1 L63.9,36.0 L63.8,32.9 L66.2,30.4 L70.1,30.1" vector-effect="non-scaling-stroke"/>
<path d="M22.6,61.7 L26.4,61.5 L29.4,59.7 L32.6,58.0 L35.8,56.4" vector-effect="non-scaling-stroke"/>
</g>
<path d="M66,50 L98,48 L96,60 L72,64 Z" fill="#A8B858"/>
<path d="M34,33 C42,29.5 52,28.5 62,29 C67,29.3 71,30 73,31.5 L72.5,35 L77,36.5 L75.5,40.5 L79,43 L76.5,47 L78.5,50 L73.5,53 L72.5,58 L69.5,62 C66,66 61,69 56,69.5 C50,67.5 44,63 40,58.5 C35.5,53 32.5,46 32.2,40 C32,37 32.8,34.6 34,33 Z" fill="#222"/>
</g>
<use href="#medS" fill="none" stroke="#555" stroke-width="0.6" vector-effect="non-scaling-stroke"/>
</g>
<g transform="translate(357.60 118.20) scale(0.4110 0.4373)">
<use href="#medS" fill="url(#bg1)"/>
<g clip-path="url(#medC)">
<g fill="none" stroke="#C6C6C6" stroke-width="1.3" stroke-linecap="round" vector-effect="non-scaling-stroke">
<path d="M89.9,68.5 L91.4,67.9 L92.7,67.1 L94.1,66.4 L94.2,65.1" vector-effect="non-scaling-stroke"/>
<path d="M21.0,33.7 L23.2,33.9 L24.5,32.5 L26.5,31.9 L28.4,30.9" vector-effect="non-scaling-stroke"/>
<path d="M51.2,53.7 L49.6,53.8 L48.0,53.7 L46.6,53.1 L45.5,52.2" vector-effect="non-scaling-stroke"/>
<path d="M94.2,28.0 L94.8,26.4 L96.0,25.1 L96.4,23.5 L94.8,22.5" vector-effect="non-scaling-stroke"/>
<path d="M47.6,52.5 L46.3,51.1 L44.1,50.9 L42.5,52.1 L41.7,53.7" vector-effect="non-scaling-stroke"/>
<path d="M79.7,16.5 L81.2,15.9 L82.0,14.7 L83.0,13.7 L84.7,13.7" vector-effect="non-scaling-stroke"/>
<path d="M34.1,28.5 L32.5,29.4 L30.8,30.1 L29.9,31.5 L30.9,32.9" vector-effect="non-scaling-stroke"/>
<path d="M76.7,51.8 L77.7,50.6 L79.6,50.8 L81.3,51.3 L81.4,52.8" vector-effect="non-scaling-stroke"/>
<path d="M18.7,70.3 L20.1,69.0 L22.2,68.8 L24.1,69.5 L24.0,71.2" vector-effect="non-scaling-stroke"/>
<path d="M78.7,68.5 L76.8,66.6 L74.2,65.5 L74.6,63.1 L74.1,60.8" vector-effect="non-scaling-stroke"/>
<path d="M21.2,8.2 L20.1,7.1 L21.0,5.8 L20.6,4.4 L18.9,4.0" vector-effect="non-scaling-stroke"/>
<path d="M52.7,14.7 L50.2,15.5 L47.9,16.7 L45.5,15.7 L42.9,15.0" vector-effect="non-scaling-stroke"/>
<path d="M35.2,64.6 L37.4,63.1 L39.2,61.3 L41.8,60.4 L44.3,61.4" vector-effect="non-scaling-stroke"/>
<path d="M63.1,19.5 L61.3,20.4 L59.4,21.1 L57.4,21.6 L55.6,20.7" vector-effect="non-scaling-stroke"/>
<path d="M13.2,46.6 L10.9,46.9 L9.3,48.3 L7.1,47.7 L5.4,48.9" vector-effect="non-scaling-stroke"/>
<path d="M55.8,40.4 L56.2,42.2 L56.9,44.0 L56.3,45.8 L58.3,46.8" vector-effect="non-scaling-stroke"/>
<path d="M38.5,57.2 L41.2,57.5 L43.6,58.7 L46.3,58.2 L48.9,57.3" vector-effect="non-scaling-stroke"/>
<path d="M42.7,8.6 L43.1,6.9 L43.7,5.2 L44.6,3.6 L45.7,2.0" vector-effect="non-scaling-stroke"/>
<path d="M31.0,65.0 L31.2,67.3 L31.5,69.5 L29.8,71.3 L27.3,72.4" vector-effect="non-scaling-stroke"/>
<path d="M59.9,23.1 L60.0,24.7 L58.2,25.4 L56.9,26.7 L56.1,28.2" vector-effect="non-scaling-stroke"/>
<path d="M42.4,59.3 L40.8,60.6 L40.3,62.5 L42.0,63.7 L44.4,63.7" vector-effect="non-scaling-stroke"/>
<path d="M27.8,61.8 L26.1,61.9 L25.3,63.1 L24.3,64.1 L23.5,65.3" vector-effect="non-scaling-stroke"/>
</g>
<g fill="none" stroke="#444444" stroke-width="0.75" stroke-linejoin="round" vector-effect="non-scaling-stroke">
<path d="M20,20 C35,14 55,13 75,18 C84,21 90,26 94,32" vector-effect="non-scaling-stroke"/>
<path d="M14,34 C24,26 40,22 56,22" vector-effect="non-scaling-stroke"/>
<path d="M45.5,41.6 L48.8,40.3 L52.3,39.5 L54.6,37.2 L56.9,34.9" vector-effect="non-scaling-stroke"/>
<path d="M62.2,57.7 L65.4,57.1 L68.4,58.1 L70.7,60.0 L73.9,59.6" vector-effect="non-scaling-stroke"/>
<path d="M95.3,69.6 L91.4,68.7 L88.3,70.7 L85.1,72.6 L84.8,75.9" vector-effect="non-scaling-stroke"/>
<path d="M20.9,19.7 L24.5,19.9 L27.2,21.9 L29.8,24.0 L31.5,26.6" vector-effect="non-scaling-stroke"/>
<path d="M50.0,48.7 L47.6,47.0 L48.1,44.5 L50.4,42.8 L53.4,41.9" vector-effect="non-scaling-stroke"/>
<path d="M32.6,18.8 L30.8,20.4 L29.3,22.2 L26.7,22.8 L24.4,23.9" vector-effect="non-scaling-stroke"/>
<path d="M93.1,61.5 L95.1,63.2 L97.3,64.9 L96.8,67.3 L97.0,69.7" vector-effect="non-scaling-stroke"/>
<path d="M9.9,46.4 L8.0,44.4 L5.3,43.0 L5.1,40.5 L6.6,38.2" vector-effect="non-scaling-stroke"/>
<path d="M14.1,20.0 L15.0,22.0 L17.2,23.2 L19.2,24.5 L21.4,25.7" vector-effect="non-scaling-stroke"/>
<path d="M20.9,53.5 L25.0,53.7 L29.1,53.3 L32.3,51.3 L34.0,48.3" vector-effect="non-scaling-stroke"/>
<path d="M94.3,58.4 L95.4,62.1 L97.4,65.5 L96.2,69.1 L93.8,72.4" vector-effect="non-scaling-stroke"/>
<path d="M12.4,71.3 L11.5,73.7 L11.5,76.2 L12.9,78.5 L15.9,79.2" vector-effect="non-scaling-stroke"/>
<path d="M11.5,43.2 L12.7,46.3 L14.2,49.2 L12.2,52.0 L10.3,54.8" vector-effect="non-scaling-stroke"/>
<path d="M57.0,62.8 L55.9,64.9 L53.4,66.1 L52.0,68.1 L52.2,70.4" vector-effect="non-scaling-stroke"/>
<path d="M72.5,67.9 L70.5,71.4 L67.6,74.6 L65.3,78.0 L66.8,81.7" vector-effect="non-scaling-stroke"/>
<path d="M6.6,69.4 L8.9,72.3 L8.5,75.7 L7.3,79.0 L7.9,82.4" vector-effect="non-scaling-stroke"/>
<path d="M19.5,52.7 L22.1,54.0 L23.1,56.3 L23.3,58.8 L24.9,60.9" vector-effect="non-scaling-stroke"/>
<path d="M89.2,17.1 L92.4,17.1 L94.4,15.1 L94.5,12.6 L93.8,10.1" vector-effect="non-scaling-stroke"/>
<path d="M56.8,12.1 L52.1,11.7 L47.7,10.2 L44.4,7.5 L41.7,4.4" vector-effect="non-scaling-stroke"/>
<path d="M16.2,5.4 L20.4,7.3 L21.0,11.1 L25.2,12.9 L28.7,15.5" vector-effect="non-scaling-stroke"/>
<path d="M48.3,53.4 L50.4,57.1 L51.9,60.9 L51.2,64.8 L47.1,67.1" vector-effect="non-scaling-stroke"/>
<path d="M72.3,51.6 L72.2,47.7 L73.8,44.1 L78.2,42.5 L82.7,43.7" vector-effect="non-scaling-stroke"/>
<path d="M42.2,57.5 L45.4,55.8 L48.1,53.4 L51.1,51.4 L54.6,50.0" vector-effect="non-scaling-stroke"/>
<path d="M10.5,47.1 L14.8,48.6 L19.5,49.3 L23.2,51.7 L26.4,54.4" vector-effect="non-scaling-stroke"/>
<path d="M44.4,60.8 L48.4,59.4 L52.7,58.7 L56.9,57.8 L60.0,55.4" vector-effect="non-scaling-stroke"/>
<path d="M68.6,37.3 L64.0,36.4 L60.4,39.0 L58.5,42.5 L55.1,45.3" vector-effect="non-scaling-stroke"/>
<path d="M22.0,14.7 L25.2,12.5 L29.3,12.8 L33.3,11.9 L37.5,12.1" vector-effect="non-scaling-stroke"/>
<path d="M21.7,32.7 L26.0,31.0 L29.6,28.6 L33.8,26.7 L36.8,23.7" vector-effect="non-scaling-stroke"/>
<path d="M15.8,37.3 L19.6,35.2 L24.0,36.3 L28.6,35.7 L31.8,33.0" vector-effect="non-scaling-stroke"/>
<path d="M45.4,22.0 L45.3,24.8 L45.2,27.6 L46.5,30.3 L45.3,33.0" vector-effect="non-scaling-stroke"/>
<path d="M95.3,34.2 L96.2,36.2 L98.7,36.8 L100.6,38.1 L102.3,39.7" vector-effect="non-scaling-stroke"/>
<path d="M32.0,57.6 L34.9,57.7 L36.6,55.9 L39.3,55.3 L41.4,53.7" vector-effect="non-scaling-stroke"/>
<path d="M16.2,6.2 L14.5,3.7 L13.8,0.9 L15.3,-1.8 L18.8,-2.4" vector-effect="non-scaling-stroke"/>
<path d="M67.3,16.8 L66.1,18.9 L65.0,21.1 L62.9,22.7 L62.4,25.0" vector-effect="non-scaling-stroke"/>
<path d="M28.6,26.9 L28.2,23.8 L29.7,21.0 L30.5,18.1 L33.2,15.9" vector-effect="non-scaling-stroke"/>
<path d="M88.2,9.0 L89.9,5.9 L91.2,2.6 L93.5,-0.3 L97.8,-1.0" vector-effect="non-scaling-stroke"/>
<path d="M38.4,42.2 L42.9,42.7 L47.4,42.9 L51.6,44.2 L55.9,43.4" vector-effect="non-scaling-stroke"/>
<path d="M70.9,59.5 L66.8,58.4 L64.9,55.3 L67.0,52.3 L71.2,51.9" vector-effect="non-scaling-stroke"/>
<path d="M53.5,57.6 L49.1,59.1 L45.5,61.6 L45.4,65.4 L45.9,69.2" vector-effect="non-scaling-stroke"/>
<path d="M54.7,56.0 L52.5,55.0 L50.1,55.6 L47.6,55.1 L45.2,55.9" vector-effect="non-scaling-stroke"/>
<path d="M34.5,57.4 L36.2,59.2 L36.8,61.4 L35.5,63.5 L33.4,65.0" vector-effect="non-scaling-stroke"/>
<path d="M91.9,37.0 L93.6,35.3 L95.5,33.7 L96.4,31.7 L98.3,30.1" vector-effect="non-scaling-stroke"/>
<path d="M63.1,39.1 L63.9,36.0 L63.8,32.9 L66.2,30.4 L70.1,30.1" vector-effect="non-scaling-stroke"/>
<path d="M22.6,61.7 L26.4,61.5 L29.4,59.7 L32.6,58.0 L35.8,56.4" vector-effect="non-scaling-stroke"/>
</g>
<path d="M14,38 L34,36 L34,46 L16,48 Z" fill="#1A1A90"/>
<path d="M30,58 L50,60 L48,70 L32,68 Z" fill="#1A1A90"/>
<path d="M34,33 C42,29.5 52,28.5 62,29 C67,29.3 71,30 73,31.5 L72.5,35 L77,36.5 L75.5,40.5 L79,43 L76.5,47 L78.5,50 L73.5,53 L72.5,58 L69.5,62 C66,66 61,69 56,69.5 C50,67.5 44,63 40,58.5 C35.5,53 32.5,46 32.2,40 C32,37 32.8,34.6 34,33 Z" fill="#222"/>
</g>
<use href="#medS" fill="none" stroke="#555" stroke-width="0.6" vector-effect="non-scaling-stroke"/>
</g>
<defs><filter id="blr" x="-10%" y="-10%" width="120%" height="120%"><feGaussianBlur stdDeviation="0.9"/></filter><filter id="blr2" x="-30%" y="-50%" width="160%" height="200%"><feGaussianBlur stdDeviation="2.5"/></filter></defs>
<g transform="translate(382.00 388.00) scale(1.1450 1.0600)">
<use href="#latS" fill="url(#bg2)"/>
<g clip-path="url(#latC)">
<ellipse cx="50" cy="50" rx="22" ry="7" fill="#8A8A8A" opacity="0.8" filter="url(#blr2)" transform="rotate(-12 50 50)"/>
<g fill="none" stroke="#888888" stroke-width="3.6" vector-effect="non-scaling-stroke" opacity="0.8" filter="url(#blr)">
<path d="M30,58 C40,48 52,43 68,41" vector-effect="non-scaling-stroke"/>
<path d="M37,66 C48,59 62,55 80,53" vector-effect="non-scaling-stroke"/>
<path d="M56,2 C53,12 50,23 47,38" vector-effect="non-scaling-stroke"/>
<path d="M46,4 C42,14 39,25 36,40" vector-effect="non-scaling-stroke"/>
<path d="M66,5 C62,15 59,25 57,39" vector-effect="non-scaling-stroke"/>
<path d="M18,12 C28,11 37,13 45,17" vector-effect="non-scaling-stroke"/>
<path d="M8,30 C18,25 28,25 38,28" vector-effect="non-scaling-stroke"/>
<path d="M66,24 C76,23 86,27 94,34" vector-effect="non-scaling-stroke"/>
<path d="M44,71 C56,67 70,63 88,61" vector-effect="non-scaling-stroke"/>
<path d="M12,45 C18,40 24,42 30,46" vector-effect="non-scaling-stroke"/>
<path d="M75,40 C82,38 90,42 97,47" vector-effect="non-scaling-stroke"/>
<path d="M24,18 C28,24 30,30 28,38" vector-effect="non-scaling-stroke"/>
<path d="M80,14 C78,22 80,30 86,36" vector-effect="non-scaling-stroke"/>
<path d="M52,50 C60,47 66,48 74,46" vector-effect="non-scaling-stroke"/>
<path d="M20,52 C24,50 26,54 30,55" vector-effect="non-scaling-stroke"/>
</g>
<path d="M3.56,38.75 C4.45,37.08 6.33,36.84 7.54,37.31 C8.76,37.79 10.20,39.70 10.86,41.62 C11.53,43.53 11.53,46.63 11.53,48.78 C11.53,50.93 11.53,53.44 10.86,54.52 C10.20,55.59 8.65,55.47 7.54,55.24 C6.44,55.00 5.11,54.40 4.23,53.09 C3.34,51.77 2.35,49.74 2.24,47.35 C2.12,44.96 2.68,40.42 3.56,38.75 Z" fill="#EE2622" stroke="#3A3A3A" stroke-width="0.6" vector-effect="non-scaling-stroke"/>
<path d="M10.86,31.58 C11.64,30.15 12.96,28.11 14.18,28.00 C15.40,27.88 17.39,29.55 18.16,30.86 C18.94,32.18 19.05,34.33 18.83,35.88 C18.61,37.43 17.83,38.99 16.84,40.18 C15.84,41.38 13.96,42.81 12.85,43.05 C11.75,43.29 10.75,42.69 10.20,41.62 C9.65,40.54 9.42,38.27 9.54,36.60 C9.65,34.92 10.09,33.01 10.86,31.58 Z" fill="#EE2622" stroke="#3A3A3A" stroke-width="0.6" vector-effect="non-scaling-stroke"/>
<path d="M25.46,10.79 C26.02,9.71 28.67,9.95 30.11,10.07 C31.55,10.19 33.32,10.55 34.09,11.51 C34.86,12.46 35.42,14.73 34.75,15.81 C34.09,16.88 31.44,17.84 30.11,17.96 C28.78,18.08 27.56,17.72 26.79,16.53 C26.02,15.33 24.91,11.87 25.46,10.79 Z" fill="#EE2622" stroke="#3A3A3A" stroke-width="0.6" vector-effect="non-scaling-stroke"/>
<path d="M15.51,23.69 C16.17,23.22 17.94,22.74 19.49,22.98 C21.04,23.22 23.03,25.49 24.80,25.13 C26.57,24.77 28.67,22.14 30.11,20.83 C31.55,19.51 32.54,17.72 33.43,17.24 C34.31,16.76 35.31,16.76 35.42,17.96 C35.53,19.15 34.75,22.38 34.09,24.41 C33.43,26.44 32.21,28.35 31.44,30.15 C30.66,31.94 30.11,34.33 29.44,35.16 C28.78,36.00 28.12,36.00 27.45,35.16 C26.79,34.33 26.35,31.22 25.46,30.15 C24.58,29.07 23.36,29.07 22.14,28.71 C20.93,28.35 19.27,28.47 18.16,28.00 C17.06,27.52 15.95,26.56 15.51,25.84 C15.07,25.13 14.84,24.17 15.51,23.69 Z" fill="#FFC400" stroke="#3A3A3A" stroke-width="0.6" vector-effect="non-scaling-stroke"/>
<path d="M19.49,31.58 C20.26,30.50 21.92,31.58 22.81,32.30 C23.69,33.01 24.80,34.57 24.80,35.88 C24.80,37.19 23.58,38.75 22.81,40.18 C22.03,41.62 20.82,43.05 20.15,44.48 C19.49,45.92 18.83,47.23 18.83,48.78 C18.83,50.34 19.16,52.37 20.15,53.80 C21.15,55.24 23.69,56.19 24.80,57.39 C25.91,58.58 26.90,60.25 26.79,60.97 C26.68,61.69 25.35,62.05 24.14,61.69 C22.92,61.33 21.15,60.02 19.49,58.82 C17.83,57.63 15.40,55.95 14.18,54.52 C12.96,53.09 12.08,51.89 12.19,50.22 C12.30,48.55 13.85,46.39 14.84,44.48 C15.84,42.57 17.39,40.90 18.16,38.75 C18.94,36.60 18.72,32.65 19.49,31.58 Z" fill="#FFF500" stroke="#3A3A3A" stroke-width="0.6" vector-effect="non-scaling-stroke"/>
<path d="M40.98,2.90 C41.64,2.07 44.52,1.83 46.29,1.47 C48.06,1.11 50.27,0.52 51.60,0.75 C52.92,0.99 52.92,3.02 54.25,2.90 C55.58,2.79 57.57,0.40 59.56,0.04 C61.55,-0.32 64.87,0.04 66.20,0.75 C67.52,1.47 67.97,3.38 67.52,4.34 C67.08,5.29 65.31,6.25 63.54,6.49 C61.77,6.73 58.68,5.65 56.91,5.77 C55.14,5.89 54.25,7.21 52.92,7.21 C51.60,7.21 50.71,5.89 48.94,5.77 C47.17,5.65 43.63,6.97 42.31,6.49 C40.98,6.01 40.32,3.74 40.98,2.90 Z" fill="#C4C000" stroke="#3A3A3A" stroke-width="0.6" vector-effect="non-scaling-stroke"/>
<path d="M70.84,8.64 C71.95,7.68 73.83,6.97 75.49,7.21 C77.15,7.44 79.03,8.64 80.80,10.07 C82.57,11.51 84.34,13.66 86.11,15.81 C87.88,17.96 90.31,20.59 91.42,22.98 C92.52,25.37 92.96,28.47 92.74,30.15 C92.52,31.82 90.97,33.73 90.09,33.01 C89.20,32.30 88.54,28.00 87.43,25.84 C86.33,23.69 85.00,21.78 83.45,20.11 C81.90,18.44 79.91,16.76 78.14,15.81 C76.37,14.85 74.38,14.85 72.83,14.37 C71.29,13.90 69.18,13.90 68.85,12.94 C68.52,11.99 69.74,9.60 70.84,8.64 Z" fill="#EE2622" stroke="#3A3A3A" stroke-width="0.6" vector-effect="non-scaling-stroke"/>
<path d="M88.76,34.45 C89.43,33.01 91.42,31.10 92.74,31.58 C94.07,32.06 95.62,35.16 96.73,37.31 C97.83,39.46 98.94,42.09 99.38,44.48 C99.82,46.87 99.82,49.50 99.38,51.65 C98.94,53.80 97.83,55.71 96.73,57.39 C95.62,59.06 94.07,60.85 92.74,61.69 C91.42,62.52 89.87,63.12 88.76,62.40 C87.66,61.69 86.33,59.18 86.11,57.39 C85.89,55.59 86.77,53.56 87.43,51.65 C88.10,49.74 89.87,47.83 90.09,45.92 C90.31,44.01 88.98,42.09 88.76,40.18 C88.54,38.27 88.10,35.88 88.76,34.45 Z" fill="#EE2622" stroke="#3A3A3A" stroke-width="0.6" vector-effect="non-scaling-stroke"/>
<path d="M62.22,17.24 C62.88,16.17 66.53,15.69 67.52,16.53 C68.52,17.36 68.85,21.18 68.19,22.26 C67.52,23.34 64.54,23.81 63.54,22.98 C62.55,22.14 61.55,18.32 62.22,17.24 Z" fill="#EE2622" stroke="#3A3A3A" stroke-width="0.6" vector-effect="non-scaling-stroke"/>
<path d="M66.20,18.68 C67.30,17.60 71.18,17.24 72.83,17.24 C74.49,17.24 75.93,17.48 76.15,18.68 C76.37,19.87 75.27,23.22 74.16,24.41 C73.06,25.61 70.84,25.96 69.52,25.84 C68.19,25.72 66.75,24.89 66.20,23.69 C65.64,22.50 65.09,19.75 66.20,18.68 Z" fill="#FF7A10" stroke="#3A3A3A" stroke-width="0.6" vector-effect="non-scaling-stroke"/>
<path d="M51.60,25.84 C52.48,24.53 55.58,24.89 56.91,24.41 C58.23,23.93 58.57,22.74 59.56,22.98 C60.56,23.22 62.11,24.53 62.88,25.84 C63.65,27.16 64.76,29.79 64.21,30.86 C63.65,31.94 61.22,31.82 59.56,32.30 C57.90,32.77 55.58,33.73 54.25,33.73 C52.92,33.73 52.04,33.61 51.60,32.30 C51.15,30.98 50.71,27.16 51.60,25.84 Z" fill="#FFF500" stroke="#3A3A3A" stroke-width="0.6" vector-effect="non-scaling-stroke"/>
<path d="M48.94,43.05 C49.61,42.09 51.60,40.66 52.92,40.18 C54.25,39.70 56.46,39.46 56.91,40.18 C57.35,40.90 56.46,43.41 55.58,44.48 C54.69,45.56 52.70,46.39 51.60,46.63 C50.49,46.87 49.39,46.51 48.94,45.92 C48.50,45.32 48.28,44.01 48.94,43.05 Z" fill="#EE2622" stroke="#3A3A3A" stroke-width="0.6" vector-effect="non-scaling-stroke"/>
<path d="M64.87,54.52 C66.20,52.85 68.63,50.70 70.18,50.22 C71.73,49.74 73.06,50.46 74.16,51.65 C75.27,52.85 76.59,55.47 76.82,57.39 C77.04,59.30 76.37,61.69 75.49,63.12 C74.60,64.56 73.06,65.39 71.51,65.99 C69.96,66.59 67.97,66.94 66.20,66.71 C64.43,66.47 61.55,65.63 60.89,64.56 C60.22,63.48 61.55,61.93 62.22,60.25 C62.88,58.58 63.54,56.19 64.87,54.52 Z" fill="#EE2622" stroke="#3A3A3A" stroke-width="0.6" vector-effect="non-scaling-stroke"/>
<path d="M30.13,61.70 C31.35,60.61 33.35,60.25 36.77,58.77 C40.19,57.30 45.75,54.50 50.66,52.83 C55.56,51.16 63.28,48.96 66.20,48.77 C69.13,48.58 68.65,50.50 68.21,51.70 C67.77,52.89 65.24,54.51 63.58,55.94 C61.92,57.37 60.03,58.85 58.25,60.28 C56.48,61.71 54.92,63.33 52.93,64.53 C50.93,65.72 48.98,66.49 46.29,67.45 C43.60,68.41 39.24,70.05 36.77,70.28 C34.29,70.52 32.66,69.70 31.44,68.87 C30.22,68.03 29.65,66.48 29.43,65.28 C29.21,64.09 28.91,62.78 30.13,61.70 Z" fill="#FFF500" stroke="#3A3A3A" stroke-width="0.6" vector-effect="non-scaling-stroke"/>
<path d="M46.04,13.66 C46.15,13.18 47.47,12.70 48.03,12.94 C48.58,13.18 49.46,14.61 49.35,15.09 C49.24,15.57 47.92,16.05 47.36,15.81 C46.81,15.57 45.93,14.14 46.04,13.66 Z" fill="#FF7A10" stroke="#3A3A3A" stroke-width="0.6" vector-effect="non-scaling-stroke"/>
<g fill="none" stroke="#3A3A3A" stroke-width="0.55" vector-effect="non-scaling-stroke">
<path d="M-9.9,22.3 L2.8,17.5 L14.1,10.0" vector-effect="non-scaling-stroke"/>
<path d="M86.8,67.9 L94.8,56.2 L105.8,46.1" vector-effect="non-scaling-stroke"/>
<path d="M86.8,67.9 L80.3,68.2 L71.3,66.3" vector-effect="non-scaling-stroke"/>
<path d="M42.6,68.0 L44.2,67.8 L47.1,64.7" vector-effect="non-scaling-stroke"/>
<path d="M47.1,64.7 L50.6,67.1 L55.0,68.6" vector-effect="non-scaling-stroke"/>
<path d="M20.6,73.0 L32.7,71.8 L42.6,68.0" vector-effect="non-scaling-stroke"/>
<path d="M-9.9,22.3 L-4.4,26.8 L0.4,28.3" vector-effect="non-scaling-stroke"/>
<path d="M0.4,28.3 L5.4,40.7 L9.2,53.2" vector-effect="non-scaling-stroke"/>
<path d="M71.3,66.3 L69.6,65.8 L69.0,64.4" vector-effect="non-scaling-stroke"/>
<path d="M55.0,68.6 L59.8,67.2 L66.6,64.2" vector-effect="non-scaling-stroke"/>
<path d="M66.6,64.2 L67.7,64.9 L69.0,64.4" vector-effect="non-scaling-stroke"/>
<path d="M14.1,10.0 L22.0,11.8 L30.1,13.6" vector-effect="non-scaling-stroke"/>
<path d="M30.1,13.6 L30.0,11.5 L31.8,11.1" vector-effect="non-scaling-stroke"/>
<path d="M52.9,-14.7 L53.5,-3.9 L51.4,6.6" vector-effect="non-scaling-stroke"/>
<path d="M52.9,-14.7 L48.4,-3.5 L43.2,10.6" vector-effect="non-scaling-stroke"/>
<path d="M51.4,6.6 L50.0,8.8 L47.7,11.7" vector-effect="non-scaling-stroke"/>
<path d="M43.2,10.6 L45.7,12.5 L47.7,11.7" vector-effect="non-scaling-stroke"/>
<path d="M31.8,11.1 L36.3,11.2 L43.2,10.6" vector-effect="non-scaling-stroke"/>
<path d="M55.1,29.8 L64.4,28.2 L71.2,26.6" vector-effect="non-scaling-stroke"/>
<path d="M55.1,29.8 L53.9,25.8 L53.7,19.7" vector-effect="non-scaling-stroke"/>
<path d="M53.7,19.7 L52.8,18.7 L54.1,17.8" vector-effect="non-scaling-stroke"/>
<path d="M54.1,17.8 L63.3,12.6 L70.5,9.4" vector-effect="non-scaling-stroke"/>
<path d="M70.5,9.4 L72.0,18.6 L71.2,26.6" vector-effect="non-scaling-stroke"/>
<path d="M51.4,6.6 L63.8,4.6 L73.4,4.0" vector-effect="non-scaling-stroke"/>
<path d="M47.7,11.7 L49.6,16.2 L54.1,17.8" vector-effect="non-scaling-stroke"/>
<path d="M70.5,9.4 L70.7,7.0 L73.4,4.0" vector-effect="non-scaling-stroke"/>
<path d="M87.7,8.5 L84.0,2.6 L78.3,-2.9" vector-effect="non-scaling-stroke"/>
<path d="M78.3,-2.9 L75.1,1.8 L73.4,4.0" vector-effect="non-scaling-stroke"/>
<path d="M55.0,30.1 L58.8,35.6 L60.4,38.4" vector-effect="non-scaling-stroke"/>
<path d="M55.0,30.1 L55.5,31.3 L55.1,29.8" vector-effect="non-scaling-stroke"/>
<path d="M60.4,38.4 L66.4,35.2 L71.6,34.2" vector-effect="non-scaling-stroke"/>
<path d="M71.6,34.2 L72.6,31.2 L73.6,29.7" vector-effect="non-scaling-stroke"/>
<path d="M73.6,29.7 L72.7,27.9 L71.2,26.6" vector-effect="non-scaling-stroke"/>
<path d="M60.9,42.5 L63.8,43.8 L64.7,44.9" vector-effect="non-scaling-stroke"/>
<path d="M60.9,42.5 L57.7,45.0 L54.8,46.6" vector-effect="non-scaling-stroke"/>
<path d="M64.7,44.9 L60.6,48.7 L59.3,54.6" vector-effect="non-scaling-stroke"/>
<path d="M54.8,46.6 L53.0,49.6 L52.7,49.8" vector-effect="non-scaling-stroke"/>
<path d="M59.3,54.6 L55.1,53.2 L52.7,49.8" vector-effect="non-scaling-stroke"/>
<path d="M60.4,38.4 L59.3,41.4 L60.9,42.5" vector-effect="non-scaling-stroke"/>
<path d="M71.4,46.7 L66.9,44.8 L64.7,44.9" vector-effect="non-scaling-stroke"/>
<path d="M71.4,46.7 L72.9,40.6 L71.6,34.2" vector-effect="non-scaling-stroke"/>
<path d="M55.0,30.1 L51.7,31.7 L48.7,33.4" vector-effect="non-scaling-stroke"/>
<path d="M48.7,33.4 L50.8,40.5 L54.8,46.6" vector-effect="non-scaling-stroke"/>
<path d="M73.0,48.5 L70.9,57.3 L69.0,64.4" vector-effect="non-scaling-stroke"/>
<path d="M73.0,48.5 L71.0,48.9 L71.4,46.7" vector-effect="non-scaling-stroke"/>
<path d="M66.6,64.2 L62.1,58.0 L59.3,54.6" vector-effect="non-scaling-stroke"/>
<path d="M20.6,73.0 L20.3,73.3 L20.5,71.4" vector-effect="non-scaling-stroke"/>
<path d="M9.2,53.2 L11.2,53.6 L12.0,54.3" vector-effect="non-scaling-stroke"/>
<path d="M12.0,54.3 L14.1,55.1 L13.8,56.8" vector-effect="non-scaling-stroke"/>
<path d="M20.5,71.4 L16.0,63.6 L13.8,56.8" vector-effect="non-scaling-stroke"/>
<path d="M32.2,46.0 L36.3,42.7 L41.2,41.4" vector-effect="non-scaling-stroke"/>
<path d="M32.2,46.0 L26.2,41.2 L22.6,38.8" vector-effect="non-scaling-stroke"/>
<path d="M43.3,34.6 L42.0,37.1 L41.2,41.4" vector-effect="non-scaling-stroke"/>
<path d="M43.3,34.6 L39.4,30.0 L34.1,25.0" vector-effect="non-scaling-stroke"/>
<path d="M34.1,25.0 L30.6,22.4 L30.0,22.3" vector-effect="non-scaling-stroke"/>
<path d="M30.0,22.3 L25.3,25.6 L21.0,31.1" vector-effect="non-scaling-stroke"/>
<path d="M21.0,31.1 L23.2,33.8 L22.6,38.8" vector-effect="non-scaling-stroke"/>
<path d="M12.0,54.3 L17.1,47.6 L22.6,38.8" vector-effect="non-scaling-stroke"/>
<path d="M32.1,48.1 L21.5,53.9 L13.8,56.8" vector-effect="non-scaling-stroke"/>
<path d="M32.1,48.1 L31.2,48.5 L32.2,46.0" vector-effect="non-scaling-stroke"/>
<path d="M48.7,33.4 L46.9,34.0 L43.3,34.6" vector-effect="non-scaling-stroke"/>
<path d="M48.7,51.0 L45.5,44.8 L41.2,41.4" vector-effect="non-scaling-stroke"/>
<path d="M48.7,51.0 L50.2,51.8 L52.7,49.8" vector-effect="non-scaling-stroke"/>
<path d="M53.7,19.7 L43.4,21.0 L34.1,25.0" vector-effect="non-scaling-stroke"/>
<path d="M30.1,13.6 L30.4,17.9 L30.0,22.3" vector-effect="non-scaling-stroke"/>
<path d="M0.4,28.3 L12.2,29.7 L21.0,31.1" vector-effect="non-scaling-stroke"/>
<path d="M105.8,46.1 L100.2,44.7 L97.4,43.2" vector-effect="non-scaling-stroke"/>
<path d="M73.0,48.5 L84.6,44.3 L95.7,42.9" vector-effect="non-scaling-stroke"/>
<path d="M95.7,42.9 L96.7,43.5 L97.4,43.2" vector-effect="non-scaling-stroke"/>
<path d="M33.0,56.2 L33.1,53.0 L32.9,51.8" vector-effect="non-scaling-stroke"/>
<path d="M33.0,56.2 L38.5,58.4 L45.8,60.4" vector-effect="non-scaling-stroke"/>
<path d="M32.9,51.8 L41.2,51.9 L48.2,52.0" vector-effect="non-scaling-stroke"/>
<path d="M45.8,60.4 L45.6,56.8 L48.2,52.0" vector-effect="non-scaling-stroke"/>
<path d="M32.1,48.1 L32.2,50.4 L32.9,51.8" vector-effect="non-scaling-stroke"/>
<path d="M20.5,71.4 L26.1,64.2 L33.0,56.2" vector-effect="non-scaling-stroke"/>
<path d="M47.1,64.7 L45.8,62.5 L45.8,60.4" vector-effect="non-scaling-stroke"/>
<path d="M48.7,51.0 L48.5,52.7 L48.2,52.0" vector-effect="non-scaling-stroke"/>
<path d="M86.1,18.6 L80.4,24.8 L76.7,30.2" vector-effect="non-scaling-stroke"/>
<path d="M86.1,18.6 L86.8,18.6 L86.5,19.9" vector-effect="non-scaling-stroke"/>
<path d="M86.5,19.9 L84.1,25.8 L83.5,34.1" vector-effect="non-scaling-stroke"/>
<path d="M76.7,30.2 L80.4,30.9 L83.5,34.1" vector-effect="non-scaling-stroke"/>
<path d="M87.7,8.5 L87.1,12.9 L86.1,18.6" vector-effect="non-scaling-stroke"/>
<path d="M73.6,29.7 L76.4,28.6 L76.7,30.2" vector-effect="non-scaling-stroke"/>
<path d="M97.4,43.2 L91.3,31.4 L86.5,19.9" vector-effect="non-scaling-stroke"/>
<path d="M95.7,42.9 L88.7,37.1 L83.5,34.1" vector-effect="non-scaling-stroke"/>
<path d="M20.82,12.94 L24.80,18.68 L26.13,25.84" vector-effect="non-scaling-stroke"/>
<path d="M38.07,5.77 L36.74,14.37 L35.42,22.98 L38.07,34.45 L42.05,40.18" vector-effect="non-scaling-stroke"/>
<path d="M28.78,37.31 L34.09,40.18 L38.07,45.92 L43.38,48.78" vector-effect="non-scaling-stroke"/>
<path d="M6.22,30.15 L10.20,25.84 L15.51,21.54" vector-effect="non-scaling-stroke"/>
<path d="M67.52,27.28 L72.83,31.58 L79.47,34.45 L86.11,31.58" vector-effect="non-scaling-stroke"/>
<path d="M79.47,34.45 L80.80,43.05 L86.11,48.78 L87.43,57.39" vector-effect="non-scaling-stroke"/>
<path d="M67.52,31.58 L68.85,40.18 L72.83,45.92 L80.80,45.92" vector-effect="non-scaling-stroke"/>
<path d="M54.25,10.07 L55.58,18.68 L54.25,24.41" vector-effect="non-scaling-stroke"/>
<path d="M60.89,5.77 L62.22,12.94" vector-effect="non-scaling-stroke"/>
<path d="M46.29,37.31 L54.25,35.88 L62.22,37.31 L67.52,40.18" vector-effect="non-scaling-stroke"/>
<path d="M76.82,20.11 L79.47,30.15" vector-effect="non-scaling-stroke"/>
</g>
</g>
<use href="#latS" fill="none" stroke="#777" stroke-width="0.6" vector-effect="non-scaling-stroke"/>
</g>
<g transform="translate(617.70 387.70) scale(-1.1410 1.0413)">
<use href="#latS" fill="url(#bg2)"/>
<g clip-path="url(#latC)">
<ellipse cx="50" cy="50" rx="22" ry="7" fill="#8A8A8A" opacity="0.8" filter="url(#blr2)" transform="rotate(-12 50 50)"/>
<g fill="none" stroke="#888888" stroke-width="3.6" vector-effect="non-scaling-stroke" opacity="0.8" filter="url(#blr)">
<path d="M30,58 C40,48 52,43 68,41" vector-effect="non-scaling-stroke"/>
<path d="M37,66 C48,59 62,55 80,53" vector-effect="non-scaling-stroke"/>
<path d="M56,2 C53,12 50,23 47,38" vector-effect="non-scaling-stroke"/>
<path d="M46,4 C42,14 39,25 36,40" vector-effect="non-scaling-stroke"/>
<path d="M66,5 C62,15 59,25 57,39" vector-effect="non-scaling-stroke"/>
<path d="M18,12 C28,11 37,13 45,17" vector-effect="non-scaling-stroke"/>
<path d="M8,30 C18,25 28,25 38,28" vector-effect="non-scaling-stroke"/>
<path d="M66,24 C76,23 86,27 94,34" vector-effect="non-scaling-stroke"/>
<path d="M44,71 C56,67 70,63 88,61" vector-effect="non-scaling-stroke"/>
<path d="M12,45 C18,40 24,42 30,46" vector-effect="non-scaling-stroke"/>
<path d="M75,40 C82,38 90,42 97,47" vector-effect="non-scaling-stroke"/>
<path d="M24,18 C28,24 30,30 28,38" vector-effect="non-scaling-stroke"/>
<path d="M80,14 C78,22 80,30 86,36" vector-effect="non-scaling-stroke"/>
<path d="M52,50 C60,47 66,48 74,46" vector-effect="non-scaling-stroke"/>
<path d="M20,52 C24,50 26,54 30,55" vector-effect="non-scaling-stroke"/>
</g>
<path d="M98.74,41.19 C98.18,39.00 97.07,36.33 96.07,33.89 C95.08,31.46 93.74,27.08 92.74,26.60 C91.75,26.11 90.86,28.78 90.08,30.97 C89.30,33.16 88.64,37.30 88.08,39.73 C87.53,42.16 87.42,44.23 86.75,45.57 C86.08,46.91 84.75,46.54 84.09,47.76 C83.42,48.97 83.75,51.04 82.75,52.87 C81.76,54.69 79.43,57.73 78.09,58.70 C76.76,59.68 75.76,57.97 74.76,58.70 C73.76,59.43 73.21,62.11 72.10,63.08 C70.99,64.05 68.99,63.81 68.10,64.54 C67.22,65.27 65.66,67.22 66.77,67.46 C67.88,67.70 72.32,66.61 74.76,66.00 C77.21,65.39 79.20,64.54 81.42,63.81 C83.64,63.08 86.08,62.47 88.08,61.62 C90.08,60.77 91.86,59.92 93.41,58.70 C94.96,57.49 96.41,56.27 97.41,54.33 C98.41,52.38 99.18,49.22 99.40,47.03 C99.63,44.84 99.29,43.38 98.74,41.19 Z" fill="#EE2622" stroke="#3A3A3A" stroke-width="0.6" vector-effect="non-scaling-stroke"/>
<path d="M81.42,16.38 C80.09,15.16 76.98,15.04 74.76,14.92 C72.54,14.80 70.10,15.16 68.10,15.65 C66.11,16.14 63.44,16.99 62.78,17.84 C62.11,18.69 63.11,20.03 64.11,20.76 C65.11,21.49 67.88,20.51 68.77,22.22 C69.66,23.92 68.66,29.27 69.44,30.97 C70.21,32.68 72.32,33.16 73.43,32.43 C74.54,31.70 74.99,27.93 76.10,26.60 C77.21,25.26 78.98,25.14 80.09,24.41 C81.20,23.68 82.53,23.56 82.75,22.22 C82.98,20.88 82.75,17.60 81.42,16.38 Z" fill="#EE2622" stroke="#3A3A3A" stroke-width="0.6" vector-effect="non-scaling-stroke"/>
<path d="M67.44,23.68 C66.77,22.22 64.88,21.97 64.11,22.22 C63.33,22.46 62.78,23.43 62.78,25.14 C62.78,26.84 63.44,30.85 64.11,32.43 C64.77,34.01 66.11,34.87 66.77,34.62 C67.44,34.38 67.99,32.80 68.10,30.97 C68.21,29.15 68.10,25.14 67.44,23.68 Z" fill="#FFC400" stroke="#3A3A3A" stroke-width="0.6" vector-effect="non-scaling-stroke"/>
<path d="M90.08,28.78 C89.97,27.20 88.86,26.35 88.08,27.33 C87.31,28.30 85.75,32.80 85.42,34.62 C85.09,36.45 85.53,37.91 86.08,38.27 C86.64,38.64 88.08,38.39 88.75,36.81 C89.41,35.23 90.19,30.37 90.08,28.78 Z" fill="#FFC400" stroke="#3A3A3A" stroke-width="0.6" vector-effect="non-scaling-stroke"/>
<path d="M68.10,3.24 C67.44,2.27 63.89,1.30 62.78,1.79 C61.67,2.27 60.78,5.19 61.44,6.16 C62.11,7.14 65.66,8.11 66.77,7.62 C67.88,7.14 68.77,4.22 68.10,3.24 Z" fill="#C4C000" stroke="#3A3A3A" stroke-width="0.6" vector-effect="non-scaling-stroke"/>
<path d="M58.78,3.24 C58.11,2.39 54.56,1.42 53.45,1.79 C52.34,2.15 51.45,4.58 52.12,5.43 C52.79,6.29 56.34,7.26 57.45,6.89 C58.56,6.53 59.45,4.10 58.78,3.24 Z" fill="#C4C000" stroke="#3A3A3A" stroke-width="0.6" vector-effect="non-scaling-stroke"/>
<path d="M84.09,49.95 C83.42,48.00 80.31,48.24 78.76,48.49 C77.21,48.73 75.65,49.70 74.76,51.41 C73.88,53.11 72.77,57.00 73.43,58.70 C74.10,60.41 77.21,61.38 78.76,61.62 C80.31,61.87 81.87,62.11 82.75,60.16 C83.64,58.22 84.75,51.89 84.09,49.95 Z" fill="#EE2622" stroke="#3A3A3A" stroke-width="0.6" vector-effect="non-scaling-stroke"/>
<path d="M72.77,53.60 C71.99,52.14 69.10,52.01 68.10,52.87 C67.10,53.72 66.55,57.00 66.77,58.70 C66.99,60.41 68.44,62.60 69.44,63.08 C70.43,63.57 72.21,63.20 72.77,61.62 C73.32,60.04 73.54,55.05 72.77,53.60 Z" fill="#EE2622" stroke="#3A3A3A" stroke-width="0.6" vector-effect="non-scaling-stroke"/>
<path d="M24.35,10.54 C23.57,10.06 21.02,10.30 19.02,11.27 C17.03,12.24 14.36,14.56 12.36,16.38 C10.37,18.20 8.26,20.03 7.04,22.22 C5.82,24.41 5.26,27.33 5.04,29.51 C4.82,31.70 5.15,34.14 5.70,35.35 C6.26,36.57 7.26,37.54 8.37,36.81 C9.48,36.08 11.03,33.16 12.36,30.97 C13.70,28.78 15.03,25.87 16.36,23.68 C17.69,21.49 19.13,19.42 20.36,17.84 C21.58,16.26 23.02,15.41 23.69,14.19 C24.35,12.97 25.13,11.03 24.35,10.54 Z" fill="#EE2622" stroke="#3A3A3A" stroke-width="0.6" vector-effect="non-scaling-stroke"/>
<path d="M37.01,19.30 C36.78,17.72 35.12,16.62 34.34,18.57 C33.56,20.51 32.45,28.54 32.34,30.97 C32.23,33.41 33.12,33.65 33.68,33.16 C34.23,32.68 35.12,30.37 35.67,28.06 C36.23,25.74 37.23,20.88 37.01,19.30 Z" fill="#EE2622" stroke="#3A3A3A" stroke-width="0.6" vector-effect="non-scaling-stroke"/>
<path d="M23.02,39.00 C22.58,38.03 20.69,37.42 19.69,38.27 C18.69,39.12 17.36,42.53 17.03,44.11 C16.69,45.69 18.02,46.66 17.69,47.76 C17.36,48.85 15.92,49.83 15.03,50.68 C14.14,51.53 12.70,51.89 12.36,52.87 C12.03,53.84 12.25,55.54 13.03,56.51 C13.81,57.49 15.58,58.10 17.03,58.70 C18.47,59.31 20.13,59.80 21.69,60.16 C23.24,60.53 25.46,61.14 26.35,60.89 C27.24,60.65 27.79,59.43 27.02,58.70 C26.24,57.97 23.02,57.37 21.69,56.51 C20.36,55.66 19.25,54.93 19.02,53.60 C18.80,52.26 19.80,50.07 20.36,48.49 C20.91,46.91 21.91,45.69 22.35,44.11 C22.80,42.53 23.46,39.97 23.02,39.00 Z" fill="#FFC400" stroke="#3A3A3A" stroke-width="0.6" vector-effect="non-scaling-stroke"/>
<path d="M47.66,9.81 C47.44,9.20 46.11,8.72 45.66,9.08 C45.22,9.45 44.77,11.39 45.00,12.00 C45.22,12.61 46.55,13.10 46.99,12.73 C47.44,12.37 47.88,10.42 47.66,9.81 Z" fill="#FF7A10" stroke="#3A3A3A" stroke-width="0.6" vector-effect="non-scaling-stroke"/>
<path d="M52.32,44.11 C51.43,43.99 48.77,45.93 46.99,47.03 C45.22,48.12 42.33,49.83 41.67,50.68 C41.00,51.53 41.89,52.38 43.00,52.14 C44.11,51.89 46.77,49.95 48.33,49.22 C49.88,48.49 51.66,48.61 52.32,47.76 C52.99,46.91 53.21,44.23 52.32,44.11 Z" fill="#EE2622" stroke="#3A3A3A" stroke-width="0.6" vector-effect="non-scaling-stroke"/>
<g fill="none" stroke="#3A3A3A" stroke-width="0.55" vector-effect="non-scaling-stroke">
<path d="M36.2,16.1 L34.7,16.8 L33.6,19.3" vector-effect="non-scaling-stroke"/>
<path d="M33.6,19.3 L22.7,17.7 L14.3,15.0" vector-effect="non-scaling-stroke"/>
<path d="M-85.8,52.5 L-41.3,43.2 L3.9,36.3" vector-effect="non-scaling-stroke"/>
<path d="M3.9,36.3 L9.6,26.8 L14.3,15.0" vector-effect="non-scaling-stroke"/>
<path d="M97.6,9.4 L99.0,8.4 L98.2,9.9" vector-effect="non-scaling-stroke"/>
<path d="M98.2,9.9 L95.5,16.6 L93.3,23.3" vector-effect="non-scaling-stroke"/>
<path d="M98.7,26.2 L97.4,24.2 L93.3,23.3" vector-effect="non-scaling-stroke"/>
<path d="M85.8,23.6 L83.8,19.5 L82.5,16.7" vector-effect="non-scaling-stroke"/>
<path d="M85.8,23.6 L88.4,24.2 L92.3,23.6" vector-effect="non-scaling-stroke"/>
<path d="M97.6,9.4 L93.4,6.0 L92.0,5.4" vector-effect="non-scaling-stroke"/>
<path d="M92.0,5.4 L86.7,9.8 L82.5,16.7" vector-effect="non-scaling-stroke"/>
<path d="M92.3,23.6 L93.2,24.5 L93.3,23.3" vector-effect="non-scaling-stroke"/>
<path d="M50.7,67.8 L41.0,67.5 L31.2,68.6" vector-effect="non-scaling-stroke"/>
<path d="M31.2,68.6 L27.0,84.5 L23.1,98.9" vector-effect="non-scaling-stroke"/>
<path d="M-85.8,52.5 L-54.2,58.8 L-20.3,64.4" vector-effect="non-scaling-stroke"/>
<path d="M-20.3,64.4 L-2.4,71.8 L13.3,79.5" vector-effect="non-scaling-stroke"/>
<path d="M13.3,79.5 L18.9,90.5 L23.1,98.9" vector-effect="non-scaling-stroke"/>
<path d="M58.3,25.0 L62.6,25.6 L65.7,24.0" vector-effect="non-scaling-stroke"/>
<path d="M58.3,25.0 L51.9,17.1 L48.2,7.0" vector-effect="non-scaling-stroke"/>
<path d="M65.7,24.0 L69.8,15.0 L71.1,5.7" vector-effect="non-scaling-stroke"/>
<path d="M48.2,7.0 L56.7,-10.5 L65.1,-29.9" vector-effect="non-scaling-stroke"/>
<path d="M71.1,5.7 L67.4,-11.8 L65.9,-27.7" vector-effect="non-scaling-stroke"/>
<path d="M65.1,-29.9 L64.4,-28.9 L65.9,-27.7" vector-effect="non-scaling-stroke"/>
<path d="M57.4,25.8 L58.0,26.1 L58.3,25.0" vector-effect="non-scaling-stroke"/>
<path d="M57.4,25.8 L55.9,37.5 L57.0,48.1" vector-effect="non-scaling-stroke"/>
<path d="M57.0,48.1 L67.2,44.6 L75.6,39.0" vector-effect="non-scaling-stroke"/>
<path d="M75.3,32.3 L69.1,28.3 L65.7,24.0" vector-effect="non-scaling-stroke"/>
<path d="M75.3,32.3 L75.6,35.0 L75.6,39.0" vector-effect="non-scaling-stroke"/>
<path d="M36.2,16.1 L42.5,11.5 L48.2,7.0" vector-effect="non-scaling-stroke"/>
<path d="M33.6,19.3 L36.6,25.4 L38.3,30.6" vector-effect="non-scaling-stroke"/>
<path d="M38.3,30.6 L46.9,28.5 L57.4,25.8" vector-effect="non-scaling-stroke"/>
<path d="M75.3,32.3 L79.1,28.5 L85.8,23.6" vector-effect="non-scaling-stroke"/>
<path d="M82.5,16.7 L76.4,11.7 L71.1,5.7" vector-effect="non-scaling-stroke"/>
<path d="M92.0,5.4 L80.3,-10.8 L65.9,-27.7" vector-effect="non-scaling-stroke"/>
<path d="M43.6,48.3 L38.3,53.3 L31.0,55.2" vector-effect="non-scaling-stroke"/>
<path d="M43.6,48.3 L40.6,41.7 L37.9,33.1" vector-effect="non-scaling-stroke"/>
<path d="M31.0,55.2 L28.2,47.9 L23.3,38.1" vector-effect="non-scaling-stroke"/>
<path d="M37.9,33.1 L30.3,34.2 L23.3,38.1" vector-effect="non-scaling-stroke"/>
<path d="M53.0,52.5 L53.0,55.8 L55.9,60.3" vector-effect="non-scaling-stroke"/>
<path d="M53.0,52.5 L48.7,51.1 L43.6,48.3" vector-effect="non-scaling-stroke"/>
<path d="M55.9,60.3 L53.9,64.4 L50.7,67.8" vector-effect="non-scaling-stroke"/>
<path d="M28.3,57.5 L31.0,56.8 L31.0,55.2" vector-effect="non-scaling-stroke"/>
<path d="M28.3,57.5 L30.8,63.9 L31.2,68.6" vector-effect="non-scaling-stroke"/>
<path d="M38.3,30.6 L36.7,32.9 L37.9,33.1" vector-effect="non-scaling-stroke"/>
<path d="M53.0,52.5 L54.7,49.3 L57.0,48.1" vector-effect="non-scaling-stroke"/>
<path d="M22.6,56.9 L15.2,46.8 L7.5,38.5" vector-effect="non-scaling-stroke"/>
<path d="M22.6,56.9 L17.1,62.1 L12.7,65.5" vector-effect="non-scaling-stroke"/>
<path d="M7.8,62.7 L11.0,64.7 L12.7,65.5" vector-effect="non-scaling-stroke"/>
<path d="M7.8,62.7 L5.6,49.3 L5.5,37.5" vector-effect="non-scaling-stroke"/>
<path d="M5.5,37.5 L5.5,37.3 L7.5,38.5" vector-effect="non-scaling-stroke"/>
<path d="M28.3,57.5 L25.0,57.9 L22.6,56.9" vector-effect="non-scaling-stroke"/>
<path d="M23.3,38.1 L15.6,38.2 L7.5,38.5" vector-effect="non-scaling-stroke"/>
<path d="M13.3,79.5 L13.9,72.7 L12.7,65.5" vector-effect="non-scaling-stroke"/>
<path d="M-20.3,64.4 L-7.0,63.2 L7.8,62.7" vector-effect="non-scaling-stroke"/>
<path d="M3.9,36.3 L4.0,35.8 L5.5,37.5" vector-effect="non-scaling-stroke"/>
<path d="M71.9,63.0 L75.8,70.6 L82.6,76.1" vector-effect="non-scaling-stroke"/>
<path d="M71.9,63.0 L67.5,62.1 L62.5,63.5" vector-effect="non-scaling-stroke"/>
<path d="M62.5,63.5 L64.1,69.0 L64.8,73.9" vector-effect="non-scaling-stroke"/>
<path d="M64.8,73.9 L73.5,76.2 L80.8,79.1" vector-effect="non-scaling-stroke"/>
<path d="M82.6,76.1 L81.7,77.3 L83.2,79.7" vector-effect="non-scaling-stroke"/>
<path d="M83.2,79.7 L82.1,79.1 L80.8,79.1" vector-effect="non-scaling-stroke"/>
<path d="M55.9,60.3 L58.9,60.4 L62.5,63.5" vector-effect="non-scaling-stroke"/>
<path d="M64.5,78.6 L66.1,75.6 L64.8,73.9" vector-effect="non-scaling-stroke"/>
<path d="M64.5,78.6 L73.0,79.1 L80.8,79.1" vector-effect="non-scaling-stroke"/>
<path d="M94.1,105.5 L87.7,91.9 L83.2,79.7" vector-effect="non-scaling-stroke"/>
<path d="M75.6,39.0 L75.6,40.4 L77.3,40.6" vector-effect="non-scaling-stroke"/>
<path d="M71.9,63.0 L73.5,59.6 L76.8,58.5" vector-effect="non-scaling-stroke"/>
<path d="M77.3,40.6 L78.3,50.5 L76.8,58.5" vector-effect="non-scaling-stroke"/>
<path d="M84.0,73.8 L84.3,69.8 L87.6,64.8" vector-effect="non-scaling-stroke"/>
<path d="M84.0,73.8 L90.2,69.9 L98.5,65.3" vector-effect="non-scaling-stroke"/>
<path d="M87.6,64.8 L92.0,64.8 L98.6,65.2" vector-effect="non-scaling-stroke"/>
<path d="M98.5,65.3 L99.4,64.5 L98.6,65.2" vector-effect="non-scaling-stroke"/>
<path d="M94.1,105.5 L95.5,86.5 L98.5,65.3" vector-effect="non-scaling-stroke"/>
<path d="M82.6,76.1 L82.6,74.2 L84.0,73.8" vector-effect="non-scaling-stroke"/>
<path d="M108.8,52.9 L105.0,58.2 L98.6,65.2" vector-effect="non-scaling-stroke"/>
<path d="M82.3,58.6 L85.4,50.8 L89.6,44.0" vector-effect="non-scaling-stroke"/>
<path d="M82.3,58.6 L84.9,59.5 L85.4,59.7" vector-effect="non-scaling-stroke"/>
<path d="M85.4,59.7 L94.3,53.8 L102.4,50.4" vector-effect="non-scaling-stroke"/>
<path d="M91.3,44.2 L94.0,44.7 L98.0,47.0" vector-effect="non-scaling-stroke"/>
<path d="M91.3,44.2 L89.1,43.6 L89.6,44.0" vector-effect="non-scaling-stroke"/>
<path d="M98.0,47.0 L99.5,48.6 L102.4,50.4" vector-effect="non-scaling-stroke"/>
<path d="M77.3,40.6 L84.6,42.6 L89.6,44.0" vector-effect="non-scaling-stroke"/>
<path d="M76.8,58.5 L80.6,58.1 L82.3,58.6" vector-effect="non-scaling-stroke"/>
<path d="M87.6,64.8 L85.6,62.2 L85.4,59.7" vector-effect="non-scaling-stroke"/>
<path d="M108.8,52.9 L105.2,50.4 L102.4,50.4" vector-effect="non-scaling-stroke"/>
<path d="M98.7,26.2 L97.3,36.4 L98.0,47.0" vector-effect="non-scaling-stroke"/>
<path d="M92.3,23.6 L91.1,32.8 L91.3,44.2" vector-effect="non-scaling-stroke"/>
<path d="M85.42,23.68 L81.42,33.89 L78.76,41.19 L80.09,47.03" vector-effect="non-scaling-stroke"/>
<path d="M78.76,44.11 L70.77,45.57 L61.44,49.95 L50.79,52.87" vector-effect="non-scaling-stroke"/>
<path d="M70.77,6.16 L69.44,14.92" vector-effect="non-scaling-stroke"/>
<path d="M61.44,10.54 L57.45,19.30 L58.78,29.51" vector-effect="non-scaling-stroke"/>
<path d="M49.66,6.16 L44.33,14.92 L41.67,26.60 L39.00,38.27" vector-effect="non-scaling-stroke"/>
<path d="M35.01,10.54 L28.35,20.76 L25.68,32.43 L28.35,41.19" vector-effect="non-scaling-stroke"/>
<path d="M39.00,33.89 L32.34,36.81 L25.68,41.19 L19.02,41.19 L12.36,44.11" vector-effect="non-scaling-stroke"/>
<path d="M32.34,45.57 L28.35,52.87 L29.68,61.62" vector-effect="non-scaling-stroke"/>
<path d="M52.32,58.70 L44.33,61.62 L36.34,64.54 L31.01,70.38" vector-effect="non-scaling-stroke"/>
<path d="M21.69,26.60 L15.03,35.35 L9.70,41.19" vector-effect="non-scaling-stroke"/>
</g>
</g>
<use href="#latS" fill="none" stroke="#777" stroke-width="0.6" vector-effect="non-scaling-stroke"/>
</g>
<g transform="translate(381.60 478.20) scale(1.1390 1.0813)">
<use href="#medS" fill="url(#bg2)"/>
<g clip-path="url(#medC)">
<ellipse cx="55" cy="30" rx="30" ry="6" fill="#8A8A8A" opacity="0.6" filter="url(#blr2)"/>
<g fill="none" stroke="#888888" stroke-width="3.6" vector-effect="non-scaling-stroke" opacity="0.8" filter="url(#blr)">
<path d="M20,20 C35,14 55,13 75,18 C84,21 90,26 94,32" vector-effect="non-scaling-stroke"/>
<path d="M14,34 C24,26 40,22 56,22" vector-effect="non-scaling-stroke"/>
<path d="M4,42 C12,40 20,43 28,48" vector-effect="non-scaling-stroke"/>
<path d="M10,52 C18,50 26,52 33,56" vector-effect="non-scaling-stroke"/>
<path d="M50,8 C52,14 56,18 62,20" vector-effect="non-scaling-stroke"/>
<path d="M30,8 C32,13 30,18 26,22" vector-effect="non-scaling-stroke"/>
<path d="M82,44 C88,46 92,50 95,52" vector-effect="non-scaling-stroke"/>
<path d="M80,28 C86,32 90,38 96,40" vector-effect="non-scaling-stroke"/>
<path d="M40,4 C44,8 44,12 42,16" vector-effect="non-scaling-stroke"/>
</g>
<path d="M31.24,2.50 C32.28,1.40 35.41,0.99 37.49,0.85 C39.58,0.72 41.40,1.82 43.75,1.68 C46.09,1.54 49.87,-0.38 51.57,0.03 C53.26,0.44 53.26,2.36 53.91,4.15 C54.56,5.93 54.95,8.54 55.47,10.74 C56.00,12.93 57.95,16.23 57.04,17.32 C56.13,18.42 52.22,17.74 50.00,17.32 C47.79,16.91 45.83,15.68 43.75,14.85 C41.66,14.03 39.58,13.62 37.49,12.38 C35.41,11.15 32.28,9.09 31.24,7.44 C30.20,5.80 30.20,3.60 31.24,2.50 Z" fill="#FFF500" stroke="#3A3A3A" stroke-width="0.6" vector-effect="non-scaling-stroke"/>
<path d="M65.64,10.74 C66.16,10.19 68.77,12.38 70.33,14.03 C71.89,15.68 73.46,18.70 75.02,20.62 C76.58,22.54 78.54,23.91 79.71,25.56 C80.88,27.21 81.93,28.85 82.06,30.50 C82.19,32.15 81.66,34.21 80.49,35.44 C79.32,36.68 76.71,37.91 75.02,37.91 C73.33,37.91 70.85,36.68 70.33,35.44 C69.81,34.21 71.37,31.87 71.89,30.50 C72.41,29.13 73.72,28.58 73.46,27.21 C73.20,25.83 71.37,23.91 70.33,22.27 C69.29,20.62 67.98,19.25 67.20,17.32 C66.42,15.40 65.12,11.29 65.64,10.74 Z" fill="#FFC400" stroke="#3A3A3A" stroke-width="0.6" vector-effect="non-scaling-stroke"/>
<path d="M35.93,32.15 C37.10,30.91 40.36,29.54 43.75,28.85 C47.14,28.17 52.61,27.89 56.26,28.03 C59.90,28.17 63.55,28.85 65.64,29.68 C67.72,30.50 69.29,32.15 68.77,32.97 C68.24,33.79 64.60,34.70 62.51,34.62 C60.43,34.54 58.86,32.83 56.26,32.48 C53.65,32.12 49.74,32.12 46.87,32.48 C44.01,32.83 40.75,33.99 39.06,34.62 C37.36,35.25 37.23,36.68 36.71,36.26 C36.19,35.85 34.76,33.38 35.93,32.15 Z" fill="#EE2622" stroke="#3A3A3A" stroke-width="0.6" vector-effect="non-scaling-stroke"/>
<path d="M18.73,37.91 C19.77,37.36 23.94,39.42 26.55,40.38 C29.15,41.34 33.19,42.30 34.37,43.68 C35.54,45.05 34.89,48.07 33.58,48.62 C32.28,49.17 28.76,47.79 26.55,46.97 C24.33,46.15 21.60,45.19 20.29,43.68 C18.99,42.17 17.69,38.46 18.73,37.91 Z" fill="#EE2622" stroke="#3A3A3A" stroke-width="0.6" vector-effect="non-scaling-stroke"/>
<path d="M3.09,40.38 C3.88,39.56 5.18,40.66 6.22,42.03 C7.26,43.40 8.05,46.70 9.35,48.62 C10.65,50.54 12.74,51.91 14.04,53.56 C15.34,55.20 15.34,57.13 17.17,58.50 C18.99,59.87 22.64,60.97 24.98,61.79 C27.33,62.62 30.72,62.62 31.24,63.44 C31.76,64.26 30.72,66.73 28.11,66.73 C25.51,66.73 18.99,64.54 15.60,63.44 C12.21,62.34 9.87,61.52 7.78,60.15 C5.70,58.77 4.14,57.40 3.09,55.20 C2.05,53.01 1.53,49.44 1.53,46.97 C1.53,44.50 2.31,41.21 3.09,40.38 Z" fill="#EE2622" stroke="#3A3A3A" stroke-width="0.6" vector-effect="non-scaling-stroke"/>
<path d="M17.17,9.09 C17.82,7.85 21.08,7.17 21.86,8.27 C22.64,9.36 22.51,14.44 21.86,15.68 C21.21,16.91 18.73,16.78 17.95,15.68 C17.17,14.58 16.51,10.32 17.17,9.09 Z" fill="#EE2622" stroke="#3A3A3A" stroke-width="0.6" vector-effect="non-scaling-stroke"/>
<path d="M35.93,56.85 C36.45,56.30 38.80,59.05 40.62,60.15 C42.44,61.24 45.31,62.34 46.87,63.44 C48.44,64.54 50.52,66.18 50.00,66.73 C49.48,67.28 45.83,67.28 43.75,66.73 C41.66,66.18 38.80,65.09 37.49,63.44 C36.19,61.79 35.41,57.40 35.93,56.85 Z" fill="#FFC400" stroke="#3A3A3A" stroke-width="0.6" vector-effect="non-scaling-stroke"/>
<g fill="none" stroke="#3A3A3A" stroke-width="0.55" vector-effect="non-scaling-stroke">
<path d="M1.1,58.5 L1.3,45.6 L2.1,33.4" vector-effect="non-scaling-stroke"/>
<path d="M106.1,69.7 L95.1,76.8 L85.4,81.3" vector-effect="non-scaling-stroke"/>
<path d="M85.4,81.3 L83.1,86.9 L80.4,94.9" vector-effect="non-scaling-stroke"/>
<path d="M86.2,-14.7 L80.4,-1.3 L77.0,10.6" vector-effect="non-scaling-stroke"/>
<path d="M77.0,10.6 L87.1,20.0 L97.7,26.6" vector-effect="non-scaling-stroke"/>
<path d="M88.3,60.6 L84.9,57.4 L79.8,53.2" vector-effect="non-scaling-stroke"/>
<path d="M88.3,60.6 L90.7,60.7 L93.7,58.4" vector-effect="non-scaling-stroke"/>
<path d="M93.7,58.4 L98.7,56.0 L101.2,52.5" vector-effect="non-scaling-stroke"/>
<path d="M79.9,51.5 L80.4,53.7 L79.8,53.2" vector-effect="non-scaling-stroke"/>
<path d="M79.9,51.5 L88.1,42.7 L94.4,35.3" vector-effect="non-scaling-stroke"/>
<path d="M94.4,35.3 L96.6,43.9 L101.2,52.5" vector-effect="non-scaling-stroke"/>
<path d="M85.4,81.3 L88.1,69.7 L88.3,60.6" vector-effect="non-scaling-stroke"/>
<path d="M80.4,94.9 L77.0,87.7 L71.0,80.5" vector-effect="non-scaling-stroke"/>
<path d="M71.0,80.5 L73.5,69.0 L73.3,55.4" vector-effect="non-scaling-stroke"/>
<path d="M73.3,55.4 L75.1,55.3 L79.8,53.2" vector-effect="non-scaling-stroke"/>
<path d="M106.1,69.7 L100.6,64.3 L93.7,58.4" vector-effect="non-scaling-stroke"/>
<path d="M97.7,26.6 L95.5,28.7 L94.8,30.5" vector-effect="non-scaling-stroke"/>
<path d="M94.8,30.5 L95.7,33.7 L94.4,35.3" vector-effect="non-scaling-stroke"/>
<path d="M39.2,29.2 L35.9,27.4 L32.9,24.5" vector-effect="non-scaling-stroke"/>
<path d="M39.2,29.2 L37.3,33.7 L33.3,38.4" vector-effect="non-scaling-stroke"/>
<path d="M32.9,24.5 L28.6,29.7 L23.7,34.7" vector-effect="non-scaling-stroke"/>
<path d="M33.3,38.4 L29.0,36.4 L23.7,34.7" vector-effect="non-scaling-stroke"/>
<path d="M29.3,-2.4 L33.9,3.7 L37.7,8.5" vector-effect="non-scaling-stroke"/>
<path d="M29.3,-2.4 L31.4,-14.3 L31.9,-27.5" vector-effect="non-scaling-stroke"/>
<path d="M37.7,8.5 L35.3,-5.0 L35.2,-19.6" vector-effect="non-scaling-stroke"/>
<path d="M31.9,-27.5 L33.3,-23.4 L35.2,-19.6" vector-effect="non-scaling-stroke"/>
<path d="M24.1,13.8 L27.4,13.6 L29.2,15.2" vector-effect="non-scaling-stroke"/>
<path d="M24.1,13.8 L27.8,4.3 L29.3,-2.4" vector-effect="non-scaling-stroke"/>
<path d="M38.6,11.5 L32.9,13.3 L29.2,15.2" vector-effect="non-scaling-stroke"/>
<path d="M38.6,11.5 L36.9,10.0 L37.7,8.5" vector-effect="non-scaling-stroke"/>
<path d="M22.7,14.0 L22.6,14.7 L24.1,13.8" vector-effect="non-scaling-stroke"/>
<path d="M70.2,20.5 L74.2,15.4 L76.0,11.4" vector-effect="non-scaling-stroke"/>
<path d="M70.2,20.5 L60.4,18.7 L51.8,19.4" vector-effect="non-scaling-stroke"/>
<path d="M76.0,11.4 L68.5,7.6 L58.4,5.1" vector-effect="non-scaling-stroke"/>
<path d="M51.8,19.4 L49.8,14.1 L48.7,11.8" vector-effect="non-scaling-stroke"/>
<path d="M48.7,11.8 L50.0,9.4 L50.5,7.6" vector-effect="non-scaling-stroke"/>
<path d="M50.5,7.6 L53.0,6.8 L54.6,4.8" vector-effect="non-scaling-stroke"/>
<path d="M54.6,4.8 L57.4,3.8 L58.4,5.1" vector-effect="non-scaling-stroke"/>
<path d="M86.2,-14.7 L72.5,-5.1 L58.4,5.1" vector-effect="non-scaling-stroke"/>
<path d="M77.0,10.6 L77.9,10.9 L76.0,11.4" vector-effect="non-scaling-stroke"/>
<path d="M38.6,11.5 L43.2,13.1 L48.7,11.8" vector-effect="non-scaling-stroke"/>
<path d="M49.1,28.3 L50.5,24.7 L51.8,19.4" vector-effect="non-scaling-stroke"/>
<path d="M49.1,28.3 L44.0,29.4 L39.2,29.2" vector-effect="non-scaling-stroke"/>
<path d="M32.9,24.5 L30.0,19.0 L29.2,15.2" vector-effect="non-scaling-stroke"/>
<path d="M35.2,-19.6 L42.8,-5.5 L50.5,7.6" vector-effect="non-scaling-stroke"/>
<path d="M70.3,21.0 L76.5,27.0 L84.7,31.7" vector-effect="non-scaling-stroke"/>
<path d="M70.3,21.0 L68.4,28.4 L67.6,36.4" vector-effect="non-scaling-stroke"/>
<path d="M84.7,31.7 L80.3,34.3 L74.4,39.7" vector-effect="non-scaling-stroke"/>
<path d="M67.6,36.4 L72.5,37.9 L74.4,39.7" vector-effect="non-scaling-stroke"/>
<path d="M94.8,30.5 L89.6,29.8 L84.7,31.7" vector-effect="non-scaling-stroke"/>
<path d="M70.2,20.5 L70.4,20.9 L70.3,21.0" vector-effect="non-scaling-stroke"/>
<path d="M49.1,28.3 L51.0,35.7 L54.7,41.7" vector-effect="non-scaling-stroke"/>
<path d="M54.7,41.7 L62.1,38.0 L67.6,36.4" vector-effect="non-scaling-stroke"/>
<path d="M79.9,51.5 L77.2,44.6 L74.4,39.7" vector-effect="non-scaling-stroke"/>
<path d="M1.1,58.5 L3.5,59.6 L3.3,60.2" vector-effect="non-scaling-stroke"/>
<path d="M3.3,60.2 L3.9,66.0 L5.8,69.1" vector-effect="non-scaling-stroke"/>
<path d="M71.0,80.5 L59.8,69.8 L50.5,58.2" vector-effect="non-scaling-stroke"/>
<path d="M38.5,78.9 L43.1,69.3 L50.5,58.2" vector-effect="non-scaling-stroke"/>
<path d="M54.7,41.7 L51.1,49.3 L49.9,55.5" vector-effect="non-scaling-stroke"/>
<path d="M33.3,38.4 L35.7,45.0 L39.0,51.6" vector-effect="non-scaling-stroke"/>
<path d="M39.0,51.6 L43.2,54.8 L49.9,55.5" vector-effect="non-scaling-stroke"/>
<path d="M73.3,55.4 L63.3,54.9 L50.5,56.9" vector-effect="non-scaling-stroke"/>
<path d="M50.5,58.2 L49.6,57.7 L50.5,56.9" vector-effect="non-scaling-stroke"/>
<path d="M49.9,55.5 L49.0,56.5 L50.5,56.9" vector-effect="non-scaling-stroke"/>
<path d="M2.1,33.4 L6.4,33.1 L8.6,33.9" vector-effect="non-scaling-stroke"/>
<path d="M3.3,60.2 L10.2,55.8 L17.7,52.1" vector-effect="non-scaling-stroke"/>
<path d="M17.7,52.1 L13.0,43.2 L8.6,33.9" vector-effect="non-scaling-stroke"/>
<path d="M22.7,14.0 L15.7,22.6 L10.7,32.8" vector-effect="non-scaling-stroke"/>
<path d="M23.7,34.7 L23.0,34.8 L23.7,34.7" vector-effect="non-scaling-stroke"/>
<path d="M23.7,34.7 L17.0,35.2 L10.7,32.8" vector-effect="non-scaling-stroke"/>
<path d="M8.6,33.9 L11.0,34.2 L10.7,32.8" vector-effect="non-scaling-stroke"/>
<path d="M5.8,69.1 L7.0,68.9 L10.6,67.9" vector-effect="non-scaling-stroke"/>
<path d="M10.6,67.9 L15.4,68.2 L21.2,69.1" vector-effect="non-scaling-stroke"/>
<path d="M35.0,52.3 L28.5,59.5 L23.6,68.0" vector-effect="non-scaling-stroke"/>
<path d="M35.0,52.3 L30.7,51.0 L27.5,51.4" vector-effect="non-scaling-stroke"/>
<path d="M27.5,51.4 L21.6,51.7 L17.9,52.2" vector-effect="non-scaling-stroke"/>
<path d="M23.6,68.0 L22.4,68.9 L23.6,68.0" vector-effect="non-scaling-stroke"/>
<path d="M23.6,68.0 L21.3,63.8 L18.4,56.9" vector-effect="non-scaling-stroke"/>
<path d="M17.9,52.2 L19.2,55.8 L18.4,56.9" vector-effect="non-scaling-stroke"/>
<path d="M38.5,78.9 L30.6,73.5 L23.6,68.0" vector-effect="non-scaling-stroke"/>
<path d="M39.0,51.6 L37.4,51.4 L35.0,52.3" vector-effect="non-scaling-stroke"/>
<path d="M23.7,34.7 L24.6,44.5 L27.5,51.4" vector-effect="non-scaling-stroke"/>
<path d="M17.7,52.1 L16.6,51.5 L17.9,52.2" vector-effect="non-scaling-stroke"/>
<path d="M21.2,69.1 L21.6,68.3 L23.6,68.0" vector-effect="non-scaling-stroke"/>
<path d="M10.6,67.9 L14.3,62.1 L18.4,56.9" vector-effect="non-scaling-stroke"/>
<path d="M15.60,14.03 L28.11,9.09 L43.75,15.68 L59.38,18.97" vector-effect="non-scaling-stroke"/>
<path d="M17.17,27.21 L28.11,23.91 L43.75,27.21 L59.38,25.56 L68.77,27.21" vector-effect="non-scaling-stroke"/>
<path d="M59.38,4.15 L64.07,12.38 L68.77,20.62" vector-effect="non-scaling-stroke"/>
<path d="M84.40,18.97 L87.53,27.21 L90.66,33.79 L96.91,35.44" vector-effect="non-scaling-stroke"/>
<path d="M82.84,43.68 L90.66,48.62 L96.91,53.56" vector-effect="non-scaling-stroke"/>
<path d="M9.35,32.15 L15.60,37.09" vector-effect="non-scaling-stroke"/>
<path d="M12.48,53.56 L21.86,56.85 L31.24,56.85" vector-effect="non-scaling-stroke"/>
<path d="M28.11,18.97 L35.93,23.91 L43.75,23.91" vector-effect="non-scaling-stroke"/>
<path d="M84.40,53.56 L90.66,56.85 L93.78,50.26" vector-effect="non-scaling-stroke"/>
</g>
<path d="M34.68,34.62 L43.75,31.32 L56.26,30.01 L65.64,31.32 L75.02,33.46 L78.15,40.38 L81.27,43.68 L76.58,46.97 L75.02,51.91 L71.89,56.85 L68.77,61.79 L65.64,66.73 L59.38,68.71 L51.57,66.73 L43.75,63.44 L37.49,60.15 L34.37,53.56 L33.58,43.68 Z" fill="#222"/>
</g>
<use href="#medS" fill="none" stroke="#777" stroke-width="0.6" vector-effect="non-scaling-stroke"/>
</g>
<g transform="translate(617.70 477.80) scale(-1.1410 1.0827)">
<use href="#medS" fill="url(#bg2)"/>
<g clip-path="url(#medC)">
<ellipse cx="55" cy="30" rx="30" ry="6" fill="#8A8A8A" opacity="0.6" filter="url(#blr2)"/>
<g fill="none" stroke="#888888" stroke-width="3.6" vector-effect="non-scaling-stroke" opacity="0.8" filter="url(#blr)">
<path d="M20,20 C35,14 55,13 75,18 C84,21 90,26 94,32" vector-effect="non-scaling-stroke"/>
<path d="M14,34 C24,26 40,22 56,22" vector-effect="non-scaling-stroke"/>
<path d="M4,42 C12,40 20,43 28,48" vector-effect="non-scaling-stroke"/>
<path d="M10,52 C18,50 26,52 33,56" vector-effect="non-scaling-stroke"/>
<path d="M50,8 C52,14 56,18 62,20" vector-effect="non-scaling-stroke"/>
<path d="M30,8 C32,13 30,18 26,22" vector-effect="non-scaling-stroke"/>
<path d="M82,44 C88,46 92,50 95,52" vector-effect="non-scaling-stroke"/>
<path d="M80,28 C86,32 90,38 96,40" vector-effect="non-scaling-stroke"/>
<path d="M40,4 C44,8 44,12 42,16" vector-effect="non-scaling-stroke"/>
</g>
<path d="M98.36,28.63 C97.29,26.10 95.43,23.85 93.56,21.89 C91.69,19.92 89.29,18.80 87.16,16.83 C85.03,14.86 82.90,11.77 80.76,10.09 C78.63,8.40 76.50,7.56 74.37,6.72 C72.24,5.87 69.57,3.63 67.97,5.03 C66.37,6.44 65.04,12.34 64.77,15.15 C64.51,17.95 65.57,19.92 66.37,21.89 C67.17,23.85 68.50,25.26 69.57,26.94 C70.64,28.63 71.44,30.31 72.77,32.00 C74.10,33.69 76.50,34.81 77.57,37.06 C78.63,39.30 79.17,43.24 79.17,45.48 C79.17,47.73 77.03,49.42 77.57,50.54 C78.10,51.66 80.76,51.66 82.36,52.23 C83.96,52.79 85.30,53.91 87.16,53.91 C89.03,53.91 91.69,53.63 93.56,52.23 C95.43,50.82 97.29,48.01 98.36,45.48 C99.42,42.96 99.96,39.87 99.96,37.06 C99.96,34.25 99.42,31.16 98.36,28.63 Z" fill="#EE2622" stroke="#3A3A3A" stroke-width="0.6" vector-effect="non-scaling-stroke"/>
<path d="M60.77,6.72 C59.97,4.61 57.17,3.49 55.18,2.50 C53.18,1.52 50.91,0.96 48.78,0.82 C46.65,0.68 44.51,1.38 42.38,1.66 C40.25,1.94 37.72,2.08 35.98,2.50 C34.25,2.93 32.52,2.93 31.99,4.19 C31.45,5.45 31.59,8.54 32.79,10.09 C33.98,11.63 36.78,12.62 39.18,13.46 C41.58,14.30 45.05,14.58 47.18,15.15 C49.31,15.71 50.38,16.27 51.98,16.83 C53.58,17.39 55.44,18.80 56.78,18.52 C58.11,18.24 59.31,17.11 59.97,15.15 C60.64,13.18 61.57,8.82 60.77,6.72 Z" fill="#FFF500" stroke="#3A3A3A" stroke-width="0.6" vector-effect="non-scaling-stroke"/>
<path d="M64.77,26.94 C63.71,25.82 59.71,25.82 56.78,25.26 C53.84,24.70 50.11,24.13 47.18,23.57 C44.25,23.01 41.85,22.45 39.18,21.89 C36.52,21.33 33.85,20.76 31.19,20.20 C28.52,19.64 25.59,18.66 23.19,18.52 C20.79,18.38 18.39,18.24 16.79,19.36 C15.19,20.48 13.86,23.15 13.59,25.26 C13.33,27.36 14.13,29.75 15.19,32.00 C16.26,34.25 18.12,36.78 19.99,38.74 C21.86,40.71 24.52,43.24 26.39,43.80 C28.25,44.36 30.12,43.52 31.19,42.11 C32.25,40.71 31.45,37.34 32.79,35.37 C34.12,33.40 36.52,31.16 39.18,30.31 C41.85,29.47 45.85,30.17 48.78,30.31 C51.71,30.45 54.38,30.88 56.78,31.16 C59.17,31.44 61.84,32.70 63.17,32.00 C64.51,31.30 65.84,28.07 64.77,26.94 Z" fill="#EE2622" stroke="#3A3A3A" stroke-width="0.6" vector-effect="non-scaling-stroke"/>
<path d="M26.39,16.83 C25.32,15.43 16.79,14.30 13.59,15.15 C10.39,15.99 9.06,19.08 7.20,21.89 C5.33,24.70 3.60,28.35 2.40,32.00 C1.20,35.65 -0.00,39.87 -0.00,43.80 C-0.00,47.73 0.67,53.07 2.40,55.60 C4.13,58.12 5.60,57.84 10.39,58.97 C15.19,60.09 27.45,62.62 31.19,62.34 C34.92,62.06 33.32,58.97 32.79,57.28 C32.25,55.60 28.25,54.19 27.99,52.23 C27.72,50.26 31.45,47.45 31.19,45.48 C30.92,43.52 28.25,41.83 26.39,40.43 C24.52,39.02 21.86,38.74 19.99,37.06 C18.12,35.37 15.19,32.56 15.19,30.31 C15.19,28.07 18.12,25.82 19.99,23.57 C21.86,21.33 27.45,18.24 26.39,16.83 Z" fill="#EE2622" stroke="#3A3A3A" stroke-width="0.6" vector-effect="non-scaling-stroke"/>
<path d="M80.76,8.40 C79.83,7.00 75.43,7.00 74.37,8.40 C73.30,9.81 73.43,15.43 74.37,16.83 C75.30,18.24 78.90,18.24 79.97,16.83 C81.03,15.43 81.70,9.81 80.76,8.40 Z" fill="#EE2622" stroke="#3A3A3A" stroke-width="0.6" vector-effect="non-scaling-stroke"/>
<g fill="none" stroke="#3A3A3A" stroke-width="0.55" vector-effect="non-scaling-stroke">
<path d="M-65.9,55.5 L-28.4,60.0 L9.4,65.2" vector-effect="non-scaling-stroke"/>
<path d="M18.5,56.7 L13.7,60.4 L9.4,65.2" vector-effect="non-scaling-stroke"/>
<path d="M18.5,56.7 L17.0,51.6 L13.9,48.5" vector-effect="non-scaling-stroke"/>
<path d="M-65.9,55.5 L-34.4,51.8 L-1.7,45.8" vector-effect="non-scaling-stroke"/>
<path d="M-1.7,45.8 L6.8,47.8 L13.9,48.5" vector-effect="non-scaling-stroke"/>
<path d="M-1.7,45.8 L1.8,39.7 L8.2,32.5" vector-effect="non-scaling-stroke"/>
<path d="M-2.5,22.3 L2.0,26.8 L8.2,32.5" vector-effect="non-scaling-stroke"/>
<path d="M24.6,-21.7 L13.3,-0.3 L4.8,21.2" vector-effect="non-scaling-stroke"/>
<path d="M24.6,-21.7 L22.9,-3.9 L21.1,16.5" vector-effect="non-scaling-stroke"/>
<path d="M21.1,16.5 L18.8,18.7 L15.9,23.4" vector-effect="non-scaling-stroke"/>
<path d="M4.8,21.2 L8.9,22.7 L15.9,23.4" vector-effect="non-scaling-stroke"/>
<path d="M28.0,-70.0 L27.1,-59.9 L28.6,-48.9" vector-effect="non-scaling-stroke"/>
<path d="M28.6,-48.9 L27.0,-36.5 L24.6,-21.7" vector-effect="non-scaling-stroke"/>
<path d="M-2.5,22.3 L1.8,21.0 L4.8,21.2" vector-effect="non-scaling-stroke"/>
<path d="M38.6,32.6 L31.2,24.6 L21.1,16.5" vector-effect="non-scaling-stroke"/>
<path d="M38.6,32.6 L42.4,31.9 L47.2,30.3" vector-effect="non-scaling-stroke"/>
<path d="M28.6,-48.9 L38.0,-9.8 L47.2,30.3" vector-effect="non-scaling-stroke"/>
<path d="M8.2,32.5 L12.2,30.3 L15.6,30.2" vector-effect="non-scaling-stroke"/>
<path d="M15.6,30.2 L16.6,27.5 L15.9,23.4" vector-effect="non-scaling-stroke"/>
<path d="M32.8,54.2 L27.5,47.3 L20.8,38.0" vector-effect="non-scaling-stroke"/>
<path d="M32.8,54.2 L35.5,44.4 L36.9,33.9" vector-effect="non-scaling-stroke"/>
<path d="M36.9,33.9 L29.8,36.7 L20.9,37.8" vector-effect="non-scaling-stroke"/>
<path d="M20.8,38.0 L21.9,38.5 L20.9,37.8" vector-effect="non-scaling-stroke"/>
<path d="M32.7,62.7 L25.4,58.5 L18.5,56.7" vector-effect="non-scaling-stroke"/>
<path d="M32.7,62.7 L33.7,57.9 L32.8,54.2" vector-effect="non-scaling-stroke"/>
<path d="M13.9,48.5 L16.5,43.3 L20.8,38.0" vector-effect="non-scaling-stroke"/>
<path d="M38.6,32.6 L38.1,33.4 L36.9,33.9" vector-effect="non-scaling-stroke"/>
<path d="M15.6,30.2 L18.6,34.4 L20.9,37.8" vector-effect="non-scaling-stroke"/>
<path d="M88.9,81.2 L87.7,78.9 L86.2,74.8" vector-effect="non-scaling-stroke"/>
<path d="M86.2,74.8 L82.5,73.0 L81.3,71.6" vector-effect="non-scaling-stroke"/>
<path d="M68.4,72.3 L75.9,71.6 L81.3,71.6" vector-effect="non-scaling-stroke"/>
<path d="M55.8,-19.4 L60.8,-4.2 L67.6,11.7" vector-effect="non-scaling-stroke"/>
<path d="M55.8,-19.4 L67.5,-8.7 L82.1,2.0" vector-effect="non-scaling-stroke"/>
<path d="M67.6,11.7 L73.4,7.4 L82.2,4.1" vector-effect="non-scaling-stroke"/>
<path d="M82.1,2.0 L81.8,2.3 L82.2,4.1" vector-effect="non-scaling-stroke"/>
<path d="M28.0,-70.0 L41.0,-45.3 L55.8,-19.4" vector-effect="non-scaling-stroke"/>
<path d="M87.7,17.9 L84.6,11.2 L82.2,4.1" vector-effect="non-scaling-stroke"/>
<path d="M87.7,17.9 L84.4,20.1 L83.1,22.8" vector-effect="non-scaling-stroke"/>
<path d="M67.6,11.7 L67.5,16.9 L69.8,20.0" vector-effect="non-scaling-stroke"/>
<path d="M83.1,22.8 L75.0,20.3 L69.8,20.0" vector-effect="non-scaling-stroke"/>
<path d="M87.1,47.2 L88.3,47.0 L90.6,49.4" vector-effect="non-scaling-stroke"/>
<path d="M87.1,47.2 L85.0,42.9 L83.4,40.2" vector-effect="non-scaling-stroke"/>
<path d="M90.6,49.4 L105.3,51.9 L119.9,51.3" vector-effect="non-scaling-stroke"/>
<path d="M119.9,51.3 L101.4,41.1 L85.0,31.6" vector-effect="non-scaling-stroke"/>
<path d="M85.0,31.6 L84.1,36.6 L83.4,40.2" vector-effect="non-scaling-stroke"/>
<path d="M32.7,62.7 L32.5,62.5 L32.7,62.7" vector-effect="non-scaling-stroke"/>
<path d="M47.2,30.3 L48.8,32.2 L52.1,32.4" vector-effect="non-scaling-stroke"/>
<path d="M52.1,32.4 L52.6,36.6 L51.8,42.9" vector-effect="non-scaling-stroke"/>
<path d="M51.8,42.9 L43.7,53.1 L32.7,62.7" vector-effect="non-scaling-stroke"/>
<path d="M32.7,62.7 L32.2,62.5 L32.9,63.2" vector-effect="non-scaling-stroke"/>
<path d="M34.5,86.8 L34.1,75.9 L32.9,63.2" vector-effect="non-scaling-stroke"/>
<path d="M51.8,42.9 L54.9,48.6 L56.0,53.1" vector-effect="non-scaling-stroke"/>
<path d="M56.0,53.1 L44.0,58.5 L34.9,62.8" vector-effect="non-scaling-stroke"/>
<path d="M32.9,63.2 L34.9,64.5 L34.9,62.8" vector-effect="non-scaling-stroke"/>
<path d="M91.8,68.9 L95.5,69.3 L99.3,71.2" vector-effect="non-scaling-stroke"/>
<path d="M91.8,68.9 L92.7,65.7 L92.3,64.6" vector-effect="non-scaling-stroke"/>
<path d="M92.3,64.6 L106.2,57.6 L120.5,51.4" vector-effect="non-scaling-stroke"/>
<path d="M88.9,81.2 L94.0,76.5 L99.3,71.2" vector-effect="non-scaling-stroke"/>
<path d="M86.2,74.8 L89.0,71.2 L91.8,68.9" vector-effect="non-scaling-stroke"/>
<path d="M87.5,60.6 L89.6,63.1 L92.3,64.6" vector-effect="non-scaling-stroke"/>
<path d="M87.5,60.6 L86.4,62.6 L83.4,62.5" vector-effect="non-scaling-stroke"/>
<path d="M81.3,71.6 L83.4,66.3 L83.4,62.5" vector-effect="non-scaling-stroke"/>
<path d="M90.6,49.4 L88.1,54.0 L87.5,60.6" vector-effect="non-scaling-stroke"/>
<path d="M119.9,51.3 L121.6,51.0 L120.5,51.4" vector-effect="non-scaling-stroke"/>
<path d="M84.9,27.5 L85.2,29.5 L85.0,31.6" vector-effect="non-scaling-stroke"/>
<path d="M84.9,27.5 L83.0,26.3 L83.1,22.8" vector-effect="non-scaling-stroke"/>
<path d="M67.2,69.0 L73.0,64.1 L76.0,57.0" vector-effect="non-scaling-stroke"/>
<path d="M67.2,69.0 L63.0,65.8 L59.5,62.3" vector-effect="non-scaling-stroke"/>
<path d="M59.0,57.0 L58.7,60.0 L59.4,62.0" vector-effect="non-scaling-stroke"/>
<path d="M59.0,57.0 L63.9,53.8 L69.7,50.1" vector-effect="non-scaling-stroke"/>
<path d="M69.7,50.1 L71.7,53.9 L76.0,56.0" vector-effect="non-scaling-stroke"/>
<path d="M59.5,62.3 L59.6,62.3 L59.4,62.0" vector-effect="non-scaling-stroke"/>
<path d="M76.0,56.0 L75.4,55.2 L76.0,57.0" vector-effect="non-scaling-stroke"/>
<path d="M68.4,72.3 L67.6,70.0 L67.2,69.0" vector-effect="non-scaling-stroke"/>
<path d="M83.4,62.5 L78.6,58.7 L76.0,57.0" vector-effect="non-scaling-stroke"/>
<path d="M34.5,86.8 L46.4,73.1 L59.5,62.3" vector-effect="non-scaling-stroke"/>
<path d="M56.0,53.1 L56.9,56.4 L59.0,57.0" vector-effect="non-scaling-stroke"/>
<path d="M34.9,62.8 L46.9,61.6 L59.4,62.0" vector-effect="non-scaling-stroke"/>
<path d="M87.1,47.2 L82.0,52.9 L76.0,56.0" vector-effect="non-scaling-stroke"/>
<path d="M69.8,47.5 L62.8,38.6 L53.7,32.0" vector-effect="non-scaling-stroke"/>
<path d="M69.8,47.5 L73.3,45.4 L77.1,41.7" vector-effect="non-scaling-stroke"/>
<path d="M77.1,41.7 L67.9,34.4 L58.7,29.2" vector-effect="non-scaling-stroke"/>
<path d="M53.7,32.0 L57.2,31.8 L58.7,29.2" vector-effect="non-scaling-stroke"/>
<path d="M52.1,32.4 L52.3,32.0 L53.7,32.0" vector-effect="non-scaling-stroke"/>
<path d="M69.7,50.1 L70.5,48.4 L69.8,47.5" vector-effect="non-scaling-stroke"/>
<path d="M83.4,40.2 L79.7,42.0 L77.1,41.7" vector-effect="non-scaling-stroke"/>
<path d="M69.8,20.0 L65.3,24.1 L58.7,29.2" vector-effect="non-scaling-stroke"/>
<path d="M87.16,16.83 L82.36,30.31 L83.96,42.11" vector-effect="non-scaling-stroke"/>
<path d="M71.17,8.40 L66.37,16.83 L61.57,23.57" vector-effect="non-scaling-stroke"/>
<path d="M55.18,20.20 L42.38,20.20 L31.19,16.83 L23.19,11.77" vector-effect="non-scaling-stroke"/>
<path d="M29.59,8.40 L23.19,13.46 L13.59,13.46" vector-effect="non-scaling-stroke"/>
<path d="M13.59,35.37 L7.20,38.74 L2.40,42.11" vector-effect="non-scaling-stroke"/>
<path d="M27.99,48.85 L18.39,48.85 L7.20,52.23" vector-effect="non-scaling-stroke"/>
<path d="M96.76,38.74 L90.36,40.43 L83.96,38.74" vector-effect="non-scaling-stroke"/>
</g>
<path d="M79.17,38.74 L74.37,34.53 L66.37,32.84 L58.37,32.00 L48.78,32.34 L40.78,33.69 L35.98,37.06 L32.79,42.11 L33.58,48.85 L35.18,55.60 L36.78,60.65 L42.38,64.02 L50.38,68.24 L58.37,69.92 L64.77,67.40 L67.97,62.34 L66.37,55.60 L71.17,52.23 L77.57,48.85 L79.97,43.80 Z" fill="#222"/>
</g>
<use href="#medS" fill="none" stroke="#777" stroke-width="0.6" vector-effect="non-scaling-stroke"/>
</g>
<rect x="627.8" y="425.1" width="13.2" height="18.9" fill="#FFFF00"/>
<rect x="627.8" y="443.7" width="13.2" height="23.5" fill="#FFC800"/>
<rect x="627.8" y="466.9" width="13.2" height="23.5" fill="#FF6400"/>
<rect x="627.8" y="490.1" width="13.2" height="24.7" fill="#FF0000"/>
<rect x="627.8" y="514.5" width="13.2" height="16.0" fill="#B40000"/>
<text x="646.5" y="435.2" font-family='"Liberation Sans", sans-serif' font-size="13" fill="#000">6</text>
<text x="646.5" y="535.3" font-family='"Liberation Sans", sans-serif' font-size="13" fill="#000">0</text>
</svg>
</body></html>
